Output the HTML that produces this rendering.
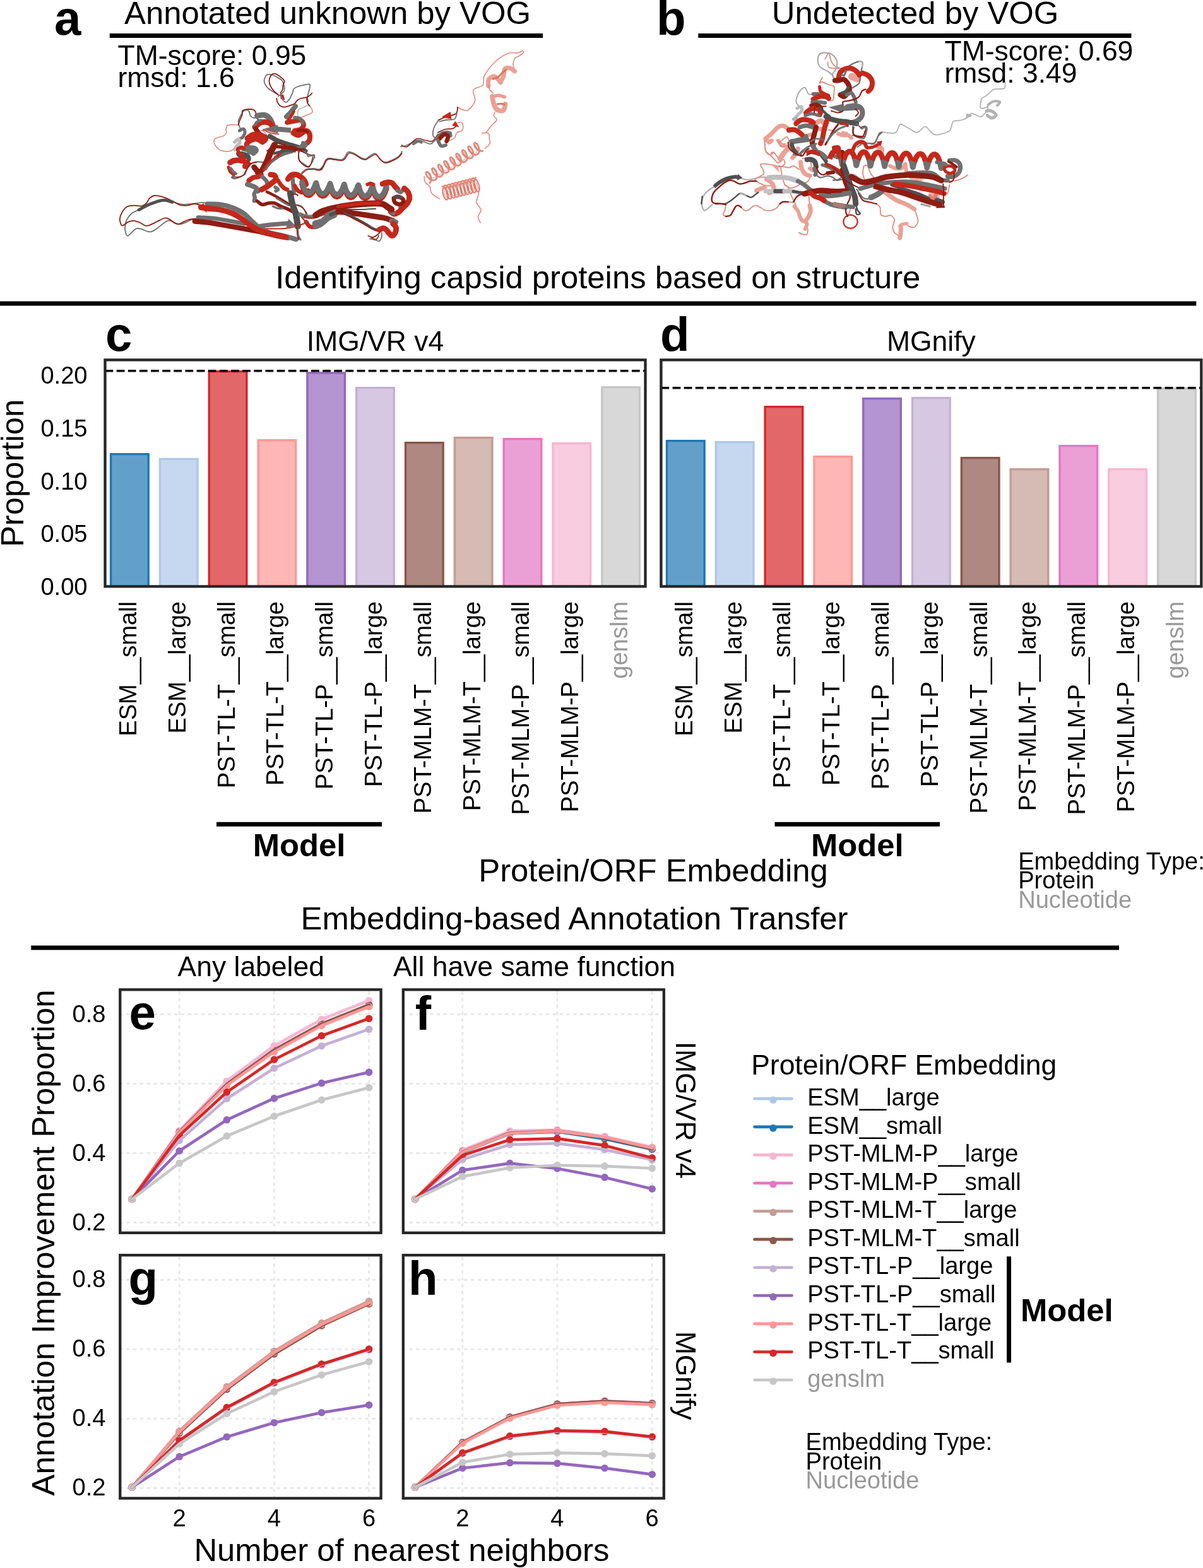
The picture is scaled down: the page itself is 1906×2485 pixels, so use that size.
<!DOCTYPE html>
<html lang="en">
<head>
<meta charset="utf-8">
<title>Figure: capsid protein identification and embedding-based annotation transfer</title>
<style>
html,body{margin:0;padding:0;background:#fff;}
body{width:1906px;height:2485px;overflow:hidden;}
svg{display:block;}
svg text{font-family:"Liberation Sans", sans-serif;white-space:pre;}
</style>
</head>
<body>
<svg width="1906" height="2485" viewBox="0 0 1906 2485">
<rect width="1906" height="2485" fill="#fff"/>
<text x="86.00" y="55.00" font-size="76.2" font-weight="bold">a</text>
<text x="1040.00" y="55.00" font-size="76.2" font-weight="bold">b</text>
<text x="519.00" y="38.00" font-size="50.8" text-anchor="middle">Annotated unknown by VOG</text>
<text x="1450.00" y="38.00" font-size="50.8" text-anchor="middle">Undetected by VOG</text>
<rect x="173.75" y="53.00" width="686.25" height="7.00" fill="#000"/>
<rect x="1106.25" y="53.00" width="686.25" height="7.00" fill="#000"/>
<text x="186.50" y="102.50" font-size="44.45">TM-score: 0.95</text>
<text x="186.50" y="138.25" font-size="44.45">rmsd: 1.6</text>
<text x="1496.50" y="95.50" font-size="44.45">TM-score: 0.69</text>
<text x="1496.50" y="130.75" font-size="44.45">rmsd: 3.49</text>
<g id="protein-a" fill="none" stroke-linejoin="round">
<path d="M725.0 170.0C727.5 170.8 735.4 176.7 740.0 175.0C744.6 173.3 750.8 165.4 752.5 160.0C754.2 154.6 747.9 146.7 750.0 142.5C752.1 138.3 762.1 138.8 765.0 135.0C767.9 131.2 764.2 126.2 767.5 120.0C770.8 113.8 778.8 103.4 785.0 97.5C791.2 91.6 799.2 86.8 805.0 84.5C810.8 82.2 816.2 84.4 820.0 83.8C823.8 83.1 826.7 81.0 828.0 80.5" stroke="#e28a7c" stroke-width="1.6" stroke-linecap="round"/>
<path d="M828.0 80.5C828.2 80.9 830.2 81.8 829.5 83.0C828.8 84.2 826.0 86.5 823.8 88.0C821.5 89.5 818.0 90.0 816.2 92.0C814.5 94.0 813.3 97.0 813.0 100.0C812.7 103.0 814.2 108.3 814.5 110.0" stroke="#e28a7c" stroke-width="1.6" stroke-linecap="round"/>
<path d="M773.8 136.2C773.9 134.5 772.8 128.0 774.5 125.5C776.2 123.0 780.7 120.4 783.8 121.2C786.8 122.1 791.5 129.0 793.0 130.5" stroke="#eaa195" stroke-width="7.15" stroke-linecap="round"/>
<path d="M793.0 130.5C793.8 128.8 796.9 123.5 798.0 120.0C799.1 116.5 797.8 111.5 799.5 109.5C801.2 107.5 805.3 107.4 808.0 108.0C810.7 108.6 814.2 112.2 815.5 113.0" stroke="#eaa195" stroke-width="7.15" stroke-linecap="round"/>
<path d="M780.0 125.5C781.5 125.0 786.2 124.0 788.8 122.5C791.2 121.0 792.7 118.3 795.0 116.2C797.3 114.2 801.2 111.0 802.5 110.0" stroke="#d97466" stroke-width="3" stroke-linecap="butt"/>
<path d="M773.8 135.0C774.2 136.2 775.0 140.4 776.2 142.5C777.5 144.6 780.4 146.7 781.2 147.5" stroke="#e28a7c" stroke-width="1.8" stroke-linecap="round"/>
<path d="M780.0 153.0C780.4 155.0 781.2 161.5 782.5 165.0C783.8 168.5 785.0 172.1 787.5 173.8C790.0 175.4 795.3 176.5 797.5 175.0C799.7 173.5 800.0 166.7 800.5 165.0" stroke="#eaa195" stroke-width="7.7" stroke-linecap="round"/>
<path d="M781.2 153.0C782.7 152.7 787.0 151.1 790.0 151.2C793.0 151.4 797.9 153.3 799.5 153.8" stroke="#eaa195" stroke-width="5.5" stroke-linecap="round"/>
<path d="M787.0 165.0C788.3 164.9 792.8 164.3 795.0 164.5C797.2 164.7 799.6 166.0 800.5 166.2" stroke="#d97466" stroke-width="3" stroke-linecap="butt"/>
<path d="M783.8 177.5C783.5 178.5 782.0 181.7 782.5 183.8C783.0 185.8 787.6 187.5 787.0 190.0C786.4 192.5 781.6 195.4 778.8 198.8C775.9 202.1 772.5 208.0 770.0 210.0C767.5 212.0 763.1 210.5 763.8 210.8C764.4 211.0 771.8 209.7 773.8 211.2C775.7 212.8 775.1 217.3 775.5 220.0C775.9 222.7 777.4 225.0 776.2 227.5C775.1 230.0 770.0 233.8 768.8 235.0" stroke="#e28a7c" stroke-width="1.6" stroke-linecap="round"/>
<path d="M765.9 239.0L763.3 239.7L760.3 239.2L757.3 237.7L754.6 235.3L752.5 232.5L751.4 229.8L751.1 227.6L751.8 226.4L753.2 226.4L755.0 227.6L756.9 229.9L758.4 233.0L759.2 236.5L759.2 239.9L758.3 242.8L756.4 244.7L753.8 245.5L750.8 245.0L747.8 243.4L745.1 241.0L743.0 238.2L741.8 235.5L741.6 233.4L742.3 232.2L743.7 232.1L745.5 233.3L747.3 235.6L748.9 238.7L749.7 242.2L749.7 245.7L748.7 248.5L746.8 250.5L744.3 251.2L741.3 250.7L738.2 249.2L735.5 246.8L733.5 244.0L732.3 241.3L732.1 239.1L732.8 237.9L734.2 237.9L736.0 239.1L737.8 241.4L739.3 244.5L740.2 248.0L740.2 251.4L739.2 254.3L737.3 256.2L734.7 257.0L731.7 256.5L728.7 254.9L726.0 252.5L724.0 249.7L722.8 247.0L722.6 244.9L723.3 243.7L724.6 243.6L726.5 244.8L728.3 247.1L729.8 250.2L730.7 253.7L730.6 257.2L729.7 260.0L727.8 262.0L725.2 262.7L722.2 262.2L719.2 260.7L716.5 258.3L714.4 255.5L713.3 252.8L713.0 250.6L713.7 249.4L715.1 249.4L716.9 250.6L718.8 252.9L720.3 256.0L721.1 259.5L721.1 262.9L720.1 265.8L718.3 267.7L715.7 268.5L712.7 268.0L709.6 266.4L706.9 264.0L704.9 261.2L703.7 258.5L703.5 256.4L704.2 255.2L705.6 255.1L707.4 256.3L709.2 258.6L710.7 261.7L711.6 265.2L711.6 268.7L710.6 271.5L708.7 273.5L706.1 274.2L703.2 273.7L700.1 272.2L697.4 269.8L695.4 267.0L694.2 264.3L694.0 262.1L694.7 260.9L696.1 260.9L697.9 262.1L699.7 264.4L701.2 267.5L702.1 271.0L702.1 274.4L701.1 277.3L699.2 279.2L696.6 280.0L693.6 279.5L690.6 277.9L687.9 275.5L685.8 272.7L684.7 270.0L684.5 267.9L685.1 266.7L686.5 266.6L688.3 267.8L690.2 270.1L691.7 273.2L692.5 276.7L692.5 280.2L691.6 283.0L689.7 285.0L687.1 285.7L684.1 285.2L681.1 283.7L678.4 281.3L676.3 278.5L675.1 275.8L674.9 273.6L675.6 272.4L677.0 272.4L678.8 273.6L680.7 275.9L682.2 279.0L683.0 282.5L683.0 285.9L682.0 288.8L680.2 290.7" stroke="#e28a7c" stroke-width="2.8" stroke-linejoin="round"/>
<path d="M762.8 237.2L761.1 237.8L759.0 237.6L757.0 236.8L755.1 235.4L753.7 233.8L752.7 232.3L752.4 231.1L752.6 230.5L753.2 230.6L754.1 231.5L755.0 233.1L755.7 235.1L756.0 237.3L755.8 239.6L755.0 241.4L753.7 242.7L751.9 243.3L749.9 243.1L747.8 242.3L746.0 240.9L744.5 239.3L743.6 237.8L743.2 236.6L743.4 236.0L744.0 236.1L744.9 237.0L745.8 238.6L746.5 240.6L746.8 242.8L746.6 245.1L745.8 246.9L744.5 248.2L742.7 248.8L740.7 248.6L738.7 247.8L736.8 246.4L735.3 244.8L734.4 243.3L734.1 242.1L734.3 241.5L734.9 241.6L735.8 242.5L736.7 244.1L737.4 246.1L737.7 248.3L737.5 250.6L736.7 252.4L735.3 253.7L733.6 254.3L731.5 254.1L729.5 253.3L727.6 251.9L726.2 250.3L725.2 248.8L724.9 247.6L725.1 247.0L725.7 247.1L726.6 248.0L727.5 249.6L728.2 251.6L728.5 253.8L728.3 256.1L727.5 257.9L726.2 259.2L724.4 259.8L722.4 259.6L720.3 258.8L718.5 257.4L717.0 255.8L716.1 254.3L715.7 253.1L715.9 252.5L716.5 252.6L717.4 253.5L718.3 255.1L719.0 257.1L719.3 259.3L719.1 261.6L718.3 263.4L717.0 264.7L715.2 265.3L713.2 265.1L711.2 264.3L709.3 262.9L707.8 261.3L706.9 259.8L706.6 258.6L706.8 258.0L707.4 258.1L708.3 259.0L709.2 260.6L709.9 262.6L710.2 264.8L710.0 267.1L709.2 268.9L707.8 270.2L706.1 270.8L704.0 270.6L702.0 269.8L700.1 268.4L698.7 266.8L697.7 265.3L697.4 264.1L697.6 263.5L698.2 263.6L699.1 264.5L700.0 266.1L700.7 268.1L701.0 270.3L700.8 272.6L700.0 274.4L698.7 275.7L696.9 276.3L694.9 276.1L692.8 275.3L691.0 273.9L689.5 272.3L688.6 270.8L688.2 269.6L688.4 269.0L689.0 269.1L689.9 270.0L690.8 271.6L691.5 273.6L691.8 275.8L691.6 278.1L690.8 279.9L689.5 281.2L687.7 281.8L685.7 281.6L683.7 280.8L681.8 279.4L680.3 277.8L679.4 276.3L679.1 275.1L679.3 274.5L679.9 274.6L680.8 275.5L681.7 277.1L682.4 279.1L682.7 281.3L682.5 283.6L681.7 285.4L680.3 286.7" stroke="#d0766a" stroke-width="1.2" stroke-linejoin="round" stroke-opacity="0.6"/>
<path d="M672.0 280.0C672.3 281.5 672.2 286.0 673.8 288.8C675.3 291.5 679.6 293.3 681.2 296.2C682.9 299.2 681.2 303.1 683.8 306.2C686.2 309.4 694.2 313.5 696.2 315.0" stroke="#e28a7c" stroke-width="1.6" stroke-linecap="round"/>
<path d="M699.6 295.1L702.0 295.4L704.6 297.3L706.9 300.6L708.7 304.6L709.8 308.9L710.0 312.7L709.4 315.4L708.1 316.7L706.4 316.2L704.6 314.1L702.9 310.7L701.8 306.4L701.4 302.0L701.9 298.0L703.1 295.1L705.1 293.7L707.5 294.0L710.1 295.9L712.4 299.1L714.2 303.2L715.3 307.5L715.5 311.3L714.9 314.0L713.6 315.2L711.9 314.8L710.1 312.7L708.4 309.3L707.3 305.0L706.9 300.6L707.4 296.6L708.6 293.7L710.6 292.3L713.0 292.5L715.6 294.5L717.9 297.7L719.7 301.8L720.8 306.1L721.0 309.9L720.4 312.6L719.1 313.8L717.4 313.4L715.6 311.3L713.9 307.8L712.8 303.6L712.4 299.1L712.9 295.2L714.1 292.3L716.1 290.8L718.5 291.1L721.1 293.0L723.4 296.3L725.2 300.4L726.3 304.6L726.5 308.4L725.9 311.2L724.6 312.4L722.9 311.9L721.1 309.8L719.4 306.4L718.3 302.2L717.9 297.7L718.4 293.7L719.6 290.8L721.6 289.4L724.0 289.7L726.6 291.6L728.9 294.9L730.7 298.9L731.8 303.2L732.0 307.0L731.4 309.7L730.1 311.0L728.4 310.5L726.6 308.4L724.9 305.0L723.8 300.7L723.4 296.3L723.9 292.3L725.1 289.4L727.1 288.0L729.5 288.3L732.1 290.2L734.4 293.4L736.2 297.5L737.3 301.8L737.5 305.6L736.9 308.3L735.6 309.5L733.9 309.1L732.1 307.0L730.4 303.6L729.3 299.3L728.9 294.9L729.4 290.9L730.6 288.0L732.6 286.6L735.0 286.8L737.6 288.8L739.9 292.0L741.7 296.1L742.8 300.4L743.0 304.2L742.4 306.9L741.1 308.1L739.4 307.7L737.6 305.6L735.9 302.1L734.8 297.9L734.4 293.4L734.9 289.5L736.1 286.6L738.1 285.1L740.5 285.4L743.1 287.3L745.4 290.6L747.2 294.7L748.3 298.9L748.5 302.7L747.9 305.5L746.6 306.7L744.9 306.2L743.1 304.1L741.4 300.7L740.3 296.5L739.9 292.0L740.4 288.0L741.6 285.1L743.6 283.7L746.0 284.0L748.6 285.9L750.9 289.2L752.7 293.2L753.8 297.5L754.0 301.3L753.4 304.0L752.1 305.3L750.4 304.8L748.6 302.7L746.9 299.3L745.8 295.0L745.4 290.6L745.9 286.6L747.1 283.7L749.1 282.3L751.5 282.6L754.1 284.5L756.4 287.7L758.2 291.8L759.3 296.1L759.5 299.9L758.9 302.6L757.6 303.8L755.9 303.4L754.1 301.3L752.4 297.9L751.3 293.6L750.9 289.2L751.4 285.2L752.6 282.3L754.6 280.9" stroke="#e28a7c" stroke-width="2.4" stroke-linejoin="round"/>
<path d="M701.7 298.5L703.5 298.7L705.4 300.0L707.1 302.2L708.4 305.0L709.3 308.0L709.5 310.6L709.2 312.5L708.4 313.3L707.3 313.0L706.1 311.5L705.0 309.1L704.3 306.1L704.1 303.0L704.5 300.2L705.5 298.2L707.0 297.1L708.8 297.3L710.6 298.6L712.3 300.8L713.7 303.6L714.5 306.6L714.8 309.2L714.5 311.1L713.7 311.9L712.5 311.6L711.3 310.1L710.3 307.7L709.6 304.7L709.4 301.6L709.8 298.8L710.8 296.8L712.2 295.8L714.0 295.9L715.9 297.2L717.6 299.5L718.9 302.3L719.8 305.2L720.0 307.8L719.7 309.7L718.9 310.6L717.8 310.2L716.6 308.7L715.5 306.3L714.8 303.4L714.6 300.2L715.0 297.5L716.0 295.4L717.5 294.4L719.3 294.5L721.1 295.9L722.8 298.1L724.2 300.9L725.0 303.8L725.3 306.5L725.0 308.3L724.2 309.2L723.0 308.8L721.8 307.4L720.8 305.0L720.1 302.0L719.9 298.9L720.3 296.1L721.3 294.0L722.7 293.0L724.5 293.2L726.4 294.5L728.1 296.7L729.4 299.5L730.3 302.5L730.5 305.1L730.2 307.0L729.4 307.8L728.3 307.5L727.1 306.0L726.0 303.6L725.3 300.6L725.1 297.5L725.5 294.7L726.5 292.7L728.0 291.6L729.8 291.8L731.6 293.1L733.3 295.3L734.7 298.1L735.5 301.1L735.8 303.7L735.5 305.6L734.7 306.4L733.5 306.1L732.3 304.6L731.3 302.2L730.6 299.2L730.4 296.1L730.8 293.3L731.8 291.3L733.2 290.3L735.0 290.4L736.9 291.7L738.6 294.0L739.9 296.8L740.8 299.7L741.0 302.3L740.7 304.2L739.9 305.1L738.8 304.7L737.6 303.2L736.5 300.8L735.8 297.9L735.6 294.7L736.0 292.0L737.0 289.9L738.5 288.9L740.3 289.0L742.1 290.4L743.8 292.6L745.2 295.4L746.0 298.3L746.3 301.0L746.0 302.8L745.2 303.7L744.0 303.3L742.8 301.9L741.8 299.5L741.1 296.5L740.9 293.4L741.3 290.6L742.3 288.5L743.7 287.5L745.5 287.7L747.4 289.0L749.1 291.2L750.4 294.0L751.3 297.0L751.5 299.6L751.2 301.5L750.4 302.3L749.3 302.0L748.1 300.5L747.0 298.1L746.3 295.1L746.1 292.0L746.5 289.2L747.5 287.2L749.0 286.1L750.8 286.3L752.6 287.6L754.3 289.8L755.7 292.6L756.5 295.6L756.8 298.2L756.5 300.1L755.7 300.9L754.5 300.6L753.3 299.1L752.3 296.7L751.6 293.7L751.4 290.6L751.8 287.8L752.8 285.8L754.2 284.8" stroke="#d0766a" stroke-width="1.3" stroke-linejoin="round" stroke-opacity="0.6"/>
<path d="M760.0 297.5C759.6 299.6 758.3 306.0 757.5 310.0C756.7 314.0 754.2 317.5 755.0 321.2C755.8 325.0 761.6 328.8 762.0 332.5C762.4 336.2 757.6 340.3 757.5 343.8C757.4 347.2 760.6 351.5 761.2 353.0" stroke="#e28a7c" stroke-width="1.6" stroke-linecap="round"/>
<path d="M720.0 196.2C721.7 195.8 727.7 193.1 730.0 193.8C732.3 194.4 733.5 197.7 733.8 200.0C734.0 202.3 732.9 205.8 731.2 207.5C729.6 209.2 725.6 208.1 723.8 210.0C721.9 211.9 722.1 216.6 720.0 218.8C717.9 220.9 712.7 222.3 711.2 223.0" stroke="#e28a7c" stroke-width="1.6" stroke-linecap="round"/>
<path d="M377.6 198.2C376.2 198.1 372.2 197.5 369.3 197.6C366.4 197.7 362.2 197.6 360.4 198.8C358.5 200.0 358.3 202.8 358.0 204.8C357.7 206.7 359.3 208.9 358.6 210.7C357.9 212.5 356.0 214.3 353.8 215.5C351.6 216.7 347.8 217.1 345.5 217.9C343.2 218.7 341.2 218.8 340.1 220.2C339.1 221.6 338.8 224.0 339.3 226.2C339.8 228.4 341.5 231.3 343.1 233.3C344.7 235.3 346.7 237.0 349.0 238.1C351.4 239.2 354.6 239.7 357.4 239.9C360.2 240.1 363.3 240.2 365.7 239.3C368.1 238.4 370.0 235.7 371.7 234.5C373.4 233.3 375.1 232.5 375.8 232.1" stroke="#e28a7c" stroke-width="1.6" stroke-linecap="round"/>
<path d="M490.7 167.9C491.3 168.8 493.9 172.0 494.5 173.8C495.1 175.6 495.5 177.4 494.3 178.8C493.1 180.2 489.9 181.0 487.1 182.1C484.4 183.3 479.2 185.3 477.6 186.0" stroke="#e28a7c" stroke-width="1.6" stroke-linecap="round"/>
<path d="M488.3 166.7C486.9 167.3 482.6 169.2 480.0 170.5C477.4 171.7 474.2 172.1 472.9 174.0C471.5 176.0 471.5 179.0 471.7 182.1C471.9 185.3 473.7 191.1 474.0 192.9" stroke="#b5b5b5" stroke-width="1.6" stroke-linecap="round"/>
<path d="M331.8 322.1C329.7 322.0 323.8 321.1 319.3 321.2C314.8 321.4 309.8 322.6 305.0 323.0C300.2 323.5 294.9 324.1 290.7 323.9C286.5 323.8 283.0 322.9 280.0 322.1C277.0 321.4 274.0 319.9 272.9 319.5" stroke="#707070" stroke-width="1.8" stroke-linecap="round"/>
<path d="M219.3 332.9C217.5 333.8 211.7 335.5 208.6 338.2C205.4 340.9 202.3 345.1 200.5 348.9C198.8 352.8 198.0 357.9 197.9 361.4C197.7 365.0 198.9 368.3 199.6 370.4C200.4 372.4 200.8 374.2 202.3 373.9C203.8 373.6 206.3 370.5 208.6 368.6C210.8 366.6 213.0 363.2 215.7 362.3C218.4 361.4 221.7 362.5 224.6 363.2C227.6 364.0 230.9 366.2 233.6 366.8C236.2 367.4 238.0 367.7 240.7 366.8C243.4 365.9 246.7 363.5 249.6 361.4C252.6 359.3 255.9 356.2 258.6 354.3C261.2 352.4 263.3 350.4 265.7 349.8C268.1 349.2 270.5 350.0 272.9 350.7C275.2 351.5 277.6 353.5 280.0 354.3C282.4 355.0 284.5 355.6 287.1 355.2C289.8 354.7 293.1 352.9 296.1 351.6C299.0 350.3 302.0 348.0 305.0 347.1C308.0 346.2 312.4 346.4 313.9 346.2" stroke="#707070" stroke-width="1.8" stroke-linecap="round"/>
<path d="M319.3 325.7C317.5 325.3 312.4 323.0 308.6 323.0C304.7 323.0 299.9 325.4 296.1 325.7C292.2 326.0 288.6 325.7 285.4 324.8C282.1 323.9 279.7 322.0 276.4 320.4C273.2 318.7 269.3 316.5 265.7 315.0C262.1 313.5 258.6 312.3 255.0 311.4C251.4 310.6 247.3 309.6 244.3 310.0C241.3 310.4 239.2 312.1 237.1 314.1C235.1 316.1 233.9 320.1 231.8 322.1C229.7 324.2 227.9 326.0 224.6 326.6C221.4 327.2 216.0 325.6 212.1 325.7C208.3 325.9 204.6 325.7 201.4 327.5C198.3 329.3 195.3 333.2 193.4 336.4C191.5 339.7 190.0 343.7 189.8 347.1C189.7 350.6 191.3 355.5 192.5 357.0C193.7 358.5 195.2 357.0 197.0 356.1C198.8 355.2 200.7 352.6 203.2 351.6C205.7 350.6 209.2 349.7 212.1 349.8C215.1 350.0 217.8 351.2 221.1 352.5C224.3 353.8 228.2 357.6 231.8 357.9C235.4 358.2 238.9 355.8 242.5 354.3C246.1 352.8 249.9 350.4 253.2 348.9C256.5 347.4 259.5 345.5 262.1 345.4C264.8 345.2 266.9 346.7 269.3 348.0C271.7 349.4 274.0 352.2 276.4 353.4C278.8 354.6 281.2 355.5 283.6 355.2C286.0 354.9 288.0 352.8 290.7 351.6C293.4 350.4 296.7 348.8 299.6 348.0C302.6 347.3 307.1 347.3 308.6 347.1" stroke="#8e1c12" stroke-width="1.8" stroke-linecap="round"/>
<path d="M220.2 332.5C222.4 331.3 229.0 327.3 233.6 325.2C238.2 323.1 243.4 321.2 247.9 319.8C252.3 318.5 256.2 317.1 260.4 317.1C264.5 317.2 270.8 319.8 272.9 320.4" stroke="#505050" stroke-width="4.95" stroke-linecap="round"/>
<path d="M313.9 344.5C318.4 344.8 331.8 345.2 340.7 346.2C349.6 347.3 359.8 349.3 367.5 350.7C375.2 352.1 383.9 354.0 387.1 354.6" stroke="#707070" stroke-width="6.6" stroke-linecap="round"/>
<path d="M308.6 350.7C312.4 351.1 323.5 351.7 331.8 352.9C340.1 354.0 349.6 355.9 358.6 357.5C367.5 359.1 376.4 360.7 385.4 362.3C394.3 363.9 403.2 365.3 412.1 367.1C421.1 369.0 431.5 372.0 438.9 373.6C446.4 375.1 453.8 376.1 456.8 376.6" stroke="#8e1c12" stroke-width="8.25" stroke-linecap="round"/>
<path d="M424.6 368.6C428.5 369.4 440.4 371.8 447.9 373.6C455.3 375.4 465.7 378.3 469.3 379.3" stroke="#707070" stroke-width="7.7" stroke-linecap="round"/>
<path d="M412.1 362.3C418.1 362.3 438.3 362.9 447.9 362.3C457.4 361.7 465.7 359.3 469.3 358.8" stroke="#c4281b" stroke-width="2" stroke-linecap="round"/>
<path d="M410.4 358.8C413.6 358.3 422.6 356.9 430.0 356.1C437.4 355.3 450.5 354.2 455.0 353.9C459.5 353.7 456.5 354.3 456.8 354.4" stroke="#707070" stroke-width="7" stroke-linecap="butt"/>
<path d="M453.3 361.2L467.9 357.5L457.3 346.8Z" fill="#707070" stroke="none"/>
<path d="M328.2 323.4C331.8 323.5 343.1 323.4 349.6 324.3C356.2 325.2 361.5 326.5 367.5 328.8C373.5 331.0 380.0 334.0 385.4 337.7C390.7 341.4 395.2 347.1 399.6 351.1C404.1 355.1 407.7 358.8 412.1 361.8C416.6 364.8 424.0 367.7 426.4 368.9" stroke="#707070" stroke-width="7.7" stroke-linecap="round"/>
<path d="M318.4 328.9C320.6 329.2 326.6 330.1 331.8 330.7C337.0 331.3 343.7 331.3 349.6 332.5C355.6 333.7 362.1 335.6 367.5 337.9C372.9 340.1 377.0 342.8 381.8 345.9C386.5 349.0 391.0 353.3 396.1 356.6C401.1 359.9 406.5 363.2 412.1 365.5C417.8 367.9 423.2 369.0 430.0 370.7C436.8 372.5 449.3 375.2 453.2 376.1" stroke="#c4281b" stroke-width="8.8" stroke-linecap="round"/>
<path d="M313.0 326.6L322.9 322.5L328.2 337.3Z" fill="#c4281b" stroke="none"/>
<path d="M440.7 150.0C439.3 149.2 435.4 147.2 432.4 145.2C429.4 143.3 425.1 140.7 422.9 138.1C420.6 135.5 419.1 132.5 418.7 129.8C418.3 127.0 419.4 123.4 420.5 121.4C421.6 119.4 423.3 118.3 425.2 117.9C427.2 117.5 430.0 118.3 432.4 119.0C434.8 119.8 437.1 121.2 439.5 122.6C441.9 124.0 444.9 125.2 446.7 127.4C448.5 129.6 449.6 132.9 450.2 135.7C450.8 138.5 451.2 141.7 450.2 144.0C449.2 146.4 445.9 148.6 444.3 150.0C442.7 151.4 441.3 152.0 440.7 152.4" stroke="#707070" stroke-width="1.8" stroke-linecap="round"/>
<path d="M440.7 150.0C439.7 149.2 436.7 147.4 434.8 145.2C432.8 143.1 430.2 139.7 428.8 136.9C427.4 134.1 426.4 131.3 426.4 128.6C426.4 125.8 427.6 122.2 428.8 120.2C430.0 118.3 431.8 117.0 433.6 116.7C435.4 116.4 437.3 117.3 439.5 118.5C441.7 119.6 444.8 122.1 446.7 123.8C448.6 125.5 450.5 126.8 450.8 128.6C451.1 130.4 448.9 132.3 448.5 134.5C448.0 136.7 448.6 139.5 447.9 141.7C447.2 143.8 444.9 146.6 444.3 147.6" stroke="#8e1c12" stroke-width="1.8" stroke-linecap="round"/>
<path d="M443.7 150.6L449.0 149.8L451.4 158.3L444.9 157.1Z" fill="#c4281b" stroke="none"/>
<path d="M444.3 151.2C445.1 152.6 447.5 157.7 449.0 159.5C450.6 161.3 452.2 162.3 453.8 161.9C455.4 161.5 457.0 159.5 458.6 157.1C460.2 154.8 462.1 150.4 463.3 147.6C464.5 144.8 464.1 142.3 465.7 140.5C467.3 138.7 470.1 137.9 472.9 136.9C475.6 135.9 479.6 135.1 482.4 134.5C485.2 133.9 488.0 133.1 489.5 133.3C491.0 133.5 491.3 133.9 491.3 135.7C491.3 137.5 490.2 141.1 489.5 144.0C488.8 147.0 487.3 150.6 487.1 153.6C486.9 156.5 488.1 160.5 488.3 161.9" stroke="#707070" stroke-width="1.8" stroke-linecap="round"/>
<path d="M438.3 156.0C438.5 156.9 438.5 159.9 439.5 161.9C440.5 163.9 442.3 166.6 444.3 167.9C446.3 169.1 448.7 169.8 451.4 169.6C454.2 169.4 458.4 167.6 461.0 166.7C463.5 165.8 465.3 165.5 466.9 164.3C468.5 163.1 468.9 160.9 470.5 159.5C472.1 158.1 473.8 156.8 476.4 156.0C479.0 155.1 483.6 155.0 486.0 154.2C488.3 153.4 489.3 152.3 490.7 151.2C492.1 150.1 493.7 148.2 494.3 147.6" stroke="#8e1c12" stroke-width="1.8" stroke-linecap="round"/>
<path d="M486.0 156.0C486.2 157.1 486.3 161.1 487.1 163.1C487.9 165.1 490.1 167.1 490.7 167.9" stroke="#8e1c12" stroke-width="1.8" stroke-linecap="round"/>
<path d="M378.8 198.8C378.6 197.6 377.2 194.2 377.6 191.7C378.0 189.1 379.8 185.9 381.2 183.3C382.6 180.8 384.4 177.7 386.0 176.2C387.5 174.7 389.3 174.4 390.7 174.4C392.1 174.4 393.3 174.7 394.3 176.2C395.3 177.7 395.5 181.5 396.7 183.3C397.9 185.1 399.6 186.5 401.4 186.9C403.2 187.3 406.4 185.9 407.4 185.7" stroke="#707070" stroke-width="1.8" stroke-linecap="round"/>
<path d="M377.6 197.6C378.0 196.4 379.0 193.1 380.0 190.5C381.0 187.9 382.9 184.6 383.6 182.1C384.3 179.7 382.8 177.1 384.2 175.6C385.6 174.1 389.0 173.5 391.9 173.2C394.8 172.9 399.2 173.1 401.4 173.8C403.6 174.5 404.2 175.4 405.0 177.4C405.8 179.4 405.6 183.7 406.2 185.7C406.8 187.7 407.4 188.5 408.6 189.3C409.8 190.1 412.5 190.3 413.3 190.5" stroke="#8e1c12" stroke-width="1.8" stroke-linecap="round"/>
<path d="M378.8 198.8L381.2 204.8" stroke="#707070" stroke-width="1.8" stroke-linecap="round"/>
<path d="M379.4 207.1C380.5 206.6 384.3 203.8 385.7 204.2C387.2 204.6 388.2 207.4 388.1 209.5C388.0 211.6 386.2 214.9 385.0 216.7C383.8 218.4 381.3 219.4 380.6 220.0" stroke="#707070" stroke-width="4.95" stroke-linecap="round"/>
<path d="M371.9 225.0C372.9 224.2 376.3 220.3 377.6 220.5C379.0 220.7 380.4 224.4 380.0 226.2C379.6 227.9 376.8 229.2 375.5 231.0C374.1 232.7 372.5 235.9 371.9 236.9" stroke="#bdbdbd" stroke-width="5.5" stroke-linecap="round"/>
<path d="M468.1 168.5C466.9 169.9 463.3 174.7 461.0 177.4C458.6 180.1 455.0 183.5 453.8 184.8" stroke="#707070" stroke-width="7.7" stroke-linecap="round"/>
<path d="M465.7 176.2C465.1 177.4 463.7 181.0 462.1 183.3C460.6 185.7 457.2 189.3 456.2 190.5" stroke="#c4281b" stroke-width="4.4" stroke-linecap="round"/>
<path d="M455.0 194.0C457.0 193.7 463.3 192.3 466.9 191.7C470.5 191.1 474.0 189.5 476.4 190.5C478.8 191.5 481.2 195.2 481.2 197.6C481.2 200.0 478.8 203.2 476.4 204.8C474.0 206.3 468.5 206.7 466.9 207.1" stroke="#c4281b" stroke-width="7.7" stroke-linecap="round"/>
<path d="M466.9 186.3C468.3 186.6 473.0 186.6 475.2 188.1C477.5 189.6 479.4 194.0 480.2 195.2" stroke="#707070" stroke-width="5.5" stroke-linecap="round"/>
<path d="M464.5 210.7C465.9 211.3 469.5 214.9 472.9 214.3C476.2 213.7 481.8 207.3 484.8 207.1C487.7 206.9 489.9 210.3 490.7 213.1C491.5 215.9 491.1 221.0 489.5 223.8C487.9 226.6 483.4 228.0 481.2 229.8C479.0 231.5 477.2 233.7 476.4 234.5" stroke="#c4281b" stroke-width="8.25" stroke-linecap="round"/>
<path d="M471.7 207.1C473.1 206.9 477.4 205.6 480.0 206.0C482.6 206.3 486.0 208.9 487.1 209.5" stroke="#8e1c12" stroke-width="4.4" stroke-linecap="round"/>
<path d="M480.0 226.2C480.8 226.8 485.0 228.2 484.8 229.8C484.6 231.3 479.8 234.7 478.8 235.7" stroke="#707070" stroke-width="5.5" stroke-linecap="round"/>
<path d="M407.4 183.6C409.4 183.4 415.9 181.6 419.3 182.4C422.7 183.2 425.4 185.6 427.6 188.3C429.8 191.1 431.8 197.3 432.6 199.0" stroke="#707070" stroke-width="8.8" stroke-linecap="round"/>
<path d="M403.8 201.2C405.4 200.0 409.8 195.4 413.3 194.3C416.9 193.1 422.1 193.3 425.2 194.3C428.4 195.3 431.2 199.2 432.4 200.2" stroke="#c4281b" stroke-width="8.8" stroke-linecap="round"/>
<path d="M403.2 202.4C403.7 201.0 404.5 196.0 406.2 194.0C407.9 192.1 412.1 191.1 413.3 190.5" stroke="#707070" stroke-width="4.4" stroke-linecap="round"/>
<path d="M405.0 203.8C406.0 205.2 408.2 209.8 411.0 212.1C413.7 214.5 419.9 217.1 421.7 218.1" stroke="#8e1c12" stroke-width="7.7" stroke-linecap="round"/>
<path d="M461.0 206.5C459.0 206.3 452.4 205.7 449.0 205.4C445.7 205.1 442.4 204.9 440.7 204.8C439.0 204.7 439.1 204.8 438.8 204.8" stroke="#707070" stroke-width="8" stroke-linecap="butt"/>
<path d="M440.3 197.8L416.3 204.8L440.3 211.8Z" fill="#707070" stroke="none"/>
<path d="M416.9 205.4C418.3 206.1 422.5 208.4 425.2 209.5C428.0 210.6 430.8 211.4 433.6 211.9C436.3 212.4 440.5 212.4 441.9 212.5" stroke="#c4281b" stroke-width="1.5" stroke-linecap="round"/>
<path d="M415.7 206.0C416.9 207.3 421.5 212.1 422.9 214.3C424.2 216.5 423.8 218.3 424.0 219.0" stroke="#d8402f" stroke-width="1.2" stroke-linecap="round" stroke-opacity="0.7"/>
<path d="M413.3 207.1C415.3 207.1 421.7 206.5 425.2 207.1C428.8 207.7 433.2 210.1 434.8 210.7" stroke="#d8402f" stroke-width="1.2" stroke-linecap="round" stroke-opacity="0.7"/>
<path d="M427.6 216.1C429.2 217.0 433.6 219.9 437.1 221.7C440.7 223.4 445.1 225.0 449.0 226.4C453.0 227.8 457.0 228.8 461.0 230.0C464.9 231.2 469.1 232.0 472.9 233.6C476.6 235.2 481.8 238.5 483.6 239.5" stroke="#505050" stroke-width="7.7" stroke-linecap="round"/>
<path d="M437.1 226.2C439.1 226.7 444.7 228.2 449.0 229.2C453.4 230.2 458.8 230.9 463.3 232.1C467.9 233.4 472.9 235.1 476.4 236.9C480.0 238.7 481.8 241.3 484.8 242.9C487.7 244.4 492.1 245.9 494.3 246.4C496.5 246.9 497.3 245.9 497.9 245.8" stroke="#8e1c12" stroke-width="2" stroke-linecap="round"/>
<path d="M483.6 239.9C484.4 240.8 486.5 244.0 488.3 245.2C490.1 246.4 492.7 247.0 494.3 247.0C495.9 247.1 497.2 245.0 497.9 245.5C498.6 246.0 498.4 249.2 498.5 250.0" stroke="#707070" stroke-width="2" stroke-linecap="round"/>
<path d="M391.9 219.3C393.5 218.3 397.9 214.1 401.4 213.3C405.0 212.5 410.2 213.3 413.3 214.5C416.5 215.7 420.1 218.7 420.5 220.5C420.9 222.2 416.5 224.2 415.7 225.0" stroke="#c4281b" stroke-width="8.8" stroke-linecap="round"/>
<path d="M415.7 225.0C414.1 224.2 409.4 220.8 406.2 220.5C403.0 220.1 399.2 221.5 396.7 222.9C394.1 224.2 391.1 226.8 390.7 228.8C390.3 230.8 392.5 233.2 394.3 234.8C396.1 236.3 400.2 237.7 401.4 238.3" stroke="#c4281b" stroke-width="8.25" stroke-linecap="round"/>
<path d="M383.6 234.8C385.0 235.2 388.9 237.1 391.9 237.1C394.9 237.1 399.0 234.6 401.4 234.8C403.8 235.0 406.2 236.9 406.2 238.3C406.2 239.7 402.2 242.3 401.4 243.1" stroke="#707070" stroke-width="7.7" stroke-linecap="round"/>
<path d="M377.0 235.7C377.9 235.3 380.7 233.4 382.4 233.3C384.1 233.2 386.3 234.8 387.1 235.1" stroke="#c4281b" stroke-width="5.5" stroke-linecap="round"/>
<path d="M377.6 242.9C378.2 243.7 379.6 246.4 381.2 247.6C382.8 248.8 386.2 249.6 387.1 250.0" stroke="#c4281b" stroke-width="6.6" stroke-linecap="round"/>
<path d="M378.8 245.8C379.8 245.5 382.6 243.9 384.8 244.0C386.9 244.1 390.3 245.4 391.9 246.4C393.5 247.4 393.9 249.4 394.3 250.0" stroke="#505050" stroke-width="6.6" stroke-linecap="round"/>
<path d="M434.8 229.8C434.2 231.0 432.4 234.5 431.2 236.9C430.0 239.3 428.6 241.9 427.6 244.0C426.6 246.2 425.6 249.0 425.2 250.0" stroke="#8e1c12" stroke-width="9.9" stroke-linecap="round"/>
<path d="M455.0 232.1C454.0 233.1 450.8 236.1 449.0 238.1C447.3 240.1 446.3 242.1 444.3 244.0C442.3 246.0 438.3 249.0 437.1 250.0" stroke="#c4281b" stroke-width="6.6" stroke-linecap="round"/>
<path d="M471.7 234.5C470.3 235.3 466.3 238.1 463.3 239.3C460.4 240.5 457.0 240.5 453.8 241.7C450.6 242.9 445.9 245.6 444.3 246.4" stroke="#707070" stroke-width="4.4" stroke-linecap="round"/>
<path d="M483.6 227.4C482.8 228.0 480.0 230.0 478.8 231.0C477.6 231.9 476.8 232.9 476.4 233.3" stroke="#707070" stroke-width="6.6" stroke-linecap="round"/>
<path d="M391.9 233.8C393.5 233.8 399.0 233.2 401.4 233.8C403.8 234.4 406.0 236.0 406.2 237.4C406.4 238.7 404.6 241.3 402.6 241.9C400.6 242.5 395.7 241.1 394.3 241.0" stroke="#707070" stroke-width="6.6" stroke-linecap="round"/>
<path d="M377.6 244.5C378.6 244.3 381.2 242.7 383.6 243.3C386.0 243.9 390.1 246.5 391.9 248.1C393.7 249.6 393.9 251.9 394.3 252.6" stroke="#505050" stroke-width="6.6" stroke-linecap="round"/>
<path d="M376.4 237.4C376.8 238.1 377.6 240.6 378.8 241.9C380.0 243.3 382.8 244.9 383.6 245.5" stroke="#c4281b" stroke-width="5.5" stroke-linecap="round"/>
<path d="M364.5 257.6C365.5 257.1 367.9 255.2 370.5 254.6C373.1 254.0 377.0 253.8 380.0 254.0C383.0 254.3 386.2 255.4 388.3 256.4C390.5 257.4 393.1 258.8 393.1 260.0C393.1 261.2 389.1 263.0 388.3 263.6" stroke="#c4281b" stroke-width="8.8" stroke-linecap="round"/>
<path d="M362.1 264.8C362.5 266.0 363.1 269.9 364.5 271.9C365.9 273.9 369.5 275.9 370.5 276.7" stroke="#c4281b" stroke-width="4.95" stroke-linecap="round"/>
<path d="M365.7 266.9C366.3 267.7 367.9 270.3 369.3 271.7C370.7 273.1 373.3 274.6 374.0 275.2" stroke="#707070" stroke-width="4.4" stroke-linecap="round"/>
<path d="M366.9 281.4C368.1 281.6 371.3 283.0 374.0 282.6C376.8 282.2 381.2 280.2 383.6 279.0C386.0 277.9 387.1 277.1 388.3 275.5C389.5 273.9 389.7 271.5 390.7 269.5C391.7 267.5 392.9 265.4 394.3 263.6C395.7 261.8 396.9 260.0 399.0 258.8C401.2 257.6 404.6 256.7 407.4 256.4C410.2 256.1 413.1 256.7 415.7 257.0C418.3 257.3 420.9 257.9 422.9 258.2C424.8 258.5 425.6 259.5 427.6 258.8C429.6 258.1 432.2 255.8 434.8 254.0C437.3 252.3 440.1 249.9 443.1 248.1C446.1 246.3 449.6 244.3 452.6 243.3C455.6 242.3 459.6 242.3 461.0 242.1" stroke="#707070" stroke-width="2.2" stroke-linecap="round"/>
<path d="M368.1 279.4C369.7 279.6 374.6 281.0 377.6 280.6C380.6 280.2 384.0 278.7 386.0 277.0C387.9 275.3 387.7 273.4 389.5 270.5C391.3 267.6 393.9 261.9 396.7 259.8C399.4 257.6 404.6 258.0 406.2 257.6" stroke="#8e1c12" stroke-width="1.6" stroke-linecap="round"/>
<path d="M366.9 280.0C367.6 279.4 370.3 279.0 371.7 279.4C373.1 279.8 375.2 281.6 375.2 282.4C375.2 283.2 373.0 284.1 371.7 284.2C370.4 284.3 368.3 283.7 367.5 283.0C366.7 282.3 366.2 280.6 366.9 280.0Z" fill="#707070" stroke="none"/>
<path d="M406.2 277.6C407.4 276.6 411.2 274.4 413.3 271.7C415.5 268.9 417.3 264.9 419.3 261.0C421.3 257.0 423.7 251.6 425.2 247.9C426.8 244.1 428.3 239.6 428.8 238.3C429.3 237.1 428.2 239.9 428.0 240.3" stroke="#8e1c12" stroke-width="8" stroke-linecap="butt"/>
<path d="M433.5 244.1L431.2 232.4L421.4 239.3Z" fill="#8e1c12" stroke="none"/>
<path d="M449.0 233.8C448.1 235.6 445.5 241.5 443.1 244.5C440.7 247.5 437.7 249.3 434.8 251.7C431.8 254.0 428.0 255.8 425.2 258.8C422.5 261.8 419.3 267.7 418.1 269.5" stroke="#c4281b" stroke-width="4.4" stroke-linecap="round"/>
<path d="M464.5 241.0C461.9 241.7 453.6 243.9 449.0 245.7C444.5 247.5 440.7 249.3 437.1 251.7C433.6 254.0 430.4 257.0 427.6 260.0C424.8 263.0 421.7 267.9 420.5 269.5" stroke="#707070" stroke-width="3" stroke-linecap="butt"/>
<path d="M434.8 243.1C436.3 242.7 440.9 241.5 444.3 240.7C447.7 239.9 451.2 238.5 455.0 238.3C458.8 238.1 464.9 239.3 466.9 239.5" stroke="#505050" stroke-width="4.4" stroke-linecap="round"/>
<path d="M437.1 232.4C439.1 232.5 445.1 232.6 449.0 233.0C453.0 233.4 457.0 234.1 461.0 234.8C464.9 235.5 469.7 236.5 472.9 237.1C476.0 237.7 478.8 238.1 480.0 238.3" stroke="#8e1c12" stroke-width="5.5" stroke-linecap="round"/>
<path d="M402.6 264.8C403.4 265.8 405.6 268.7 407.4 270.7C409.2 272.7 412.3 275.7 413.3 276.7" stroke="#8e1c12" stroke-width="8.8" stroke-linecap="round"/>
<path d="M394.3 286.2C395.5 285.4 399.0 282.4 401.4 281.4C403.8 280.4 406.6 280.8 408.6 280.2C410.6 279.6 412.5 278.3 413.3 277.9" stroke="#c4281b" stroke-width="7.7" stroke-linecap="round"/>
<path d="M391.9 292.1C393.1 292.5 396.7 293.5 399.0 294.5C401.4 295.5 404.6 296.7 406.2 298.1C407.8 299.5 408.2 302.1 408.6 302.9" stroke="#707070" stroke-width="7.7" stroke-linecap="round"/>
<path d="M406.2 301.4C405.6 302.4 403.0 305.4 402.6 307.4C402.2 309.4 403.8 311.5 403.8 313.3C403.8 315.2 403.0 317.5 402.9 318.3" stroke="#707070" stroke-width="6.6" stroke-linecap="round"/>
<path d="M415.7 280.2C416.7 281.2 420.3 284.2 421.7 286.2C423.1 288.2 423.7 291.2 424.0 292.1" stroke="#707070" stroke-width="6.6" stroke-linecap="round"/>
<path d="M414.5 300.5C415.9 299.7 420.1 297.5 422.9 295.7C425.6 293.9 428.8 291.7 431.2 289.8C433.6 287.8 436.5 285.8 437.1 283.8C437.7 281.8 436.2 279.0 434.8 277.9C433.4 276.7 429.8 276.9 428.8 276.7" stroke="#c4281b" stroke-width="8.8" stroke-linecap="round"/>
<path d="M440.7 286.2C441.3 287.2 442.7 290.2 444.3 292.1C445.9 294.1 448.5 296.7 450.2 298.1C452.0 299.5 454.2 300.1 455.0 300.5" stroke="#c4281b" stroke-width="6.6" stroke-linecap="round"/>
<path d="M436.0 296.7C436.7 297.3 440.5 299.2 440.7 300.2C440.9 301.2 437.7 302.2 437.1 302.6" stroke="#707070" stroke-width="5.5" stroke-linecap="round"/>
<path d="M463.3 281.4C463.5 283.2 464.1 288.4 464.5 292.1C464.9 295.9 465.5 302.1 465.7 304.0" stroke="#707070" stroke-width="6.6" stroke-linecap="round"/>
<path d="M456.2 283.8C457.0 282.8 458.8 279.0 461.0 277.9C463.1 276.7 466.7 276.3 469.3 276.7C471.9 277.1 474.2 278.7 476.4 280.2C478.6 281.8 481.0 284.2 482.4 286.2C483.8 288.2 484.4 291.2 484.8 292.1" stroke="#c4281b" stroke-width="8.8" stroke-linecap="round"/>
<path d="M466.9 294.5C467.9 295.9 470.3 301.1 472.9 302.9C475.4 304.6 479.8 305.4 482.4 305.2C485.0 305.0 487.3 302.3 488.3 301.7" stroke="#c4281b" stroke-width="6.6" stroke-linecap="round"/>
<path d="M472.9 238.6C473.1 241.0 472.9 249.5 474.0 252.9C475.2 256.2 477.6 257.0 480.0 258.8C482.4 260.6 486.0 263.8 488.3 263.6C490.7 263.4 492.7 260.4 494.3 257.6C495.9 254.8 497.9 248.9 497.9 246.9C497.9 244.9 495.9 245.5 494.3 245.7C492.7 245.9 489.9 248.7 488.3 248.1C486.7 247.5 486.2 243.7 484.8 242.1C483.4 240.6 480.8 239.2 480.0 238.6" stroke="#707070" stroke-width="1.8" stroke-linecap="round"/>
<path d="M474.0 239.5C473.8 241.5 472.1 248.1 472.9 251.4C473.7 254.8 476.1 257.5 478.8 259.8C481.5 262.0 486.5 265.0 488.9 264.8C491.3 264.6 492.0 261.2 493.1 258.6C494.2 256.0 495.1 250.6 495.5 249.0" stroke="#8e1c12" stroke-width="1.6" stroke-linecap="round"/>
<path d="M477.6 274.3C478.8 273.3 481.6 269.5 484.8 268.3C487.9 267.1 492.9 267.1 496.7 267.1C500.4 267.1 504.8 269.1 507.4 268.3C510.0 267.5 510.8 264.8 512.1 262.4C513.5 260.0 514.3 255.8 515.7 254.0C517.1 252.3 518.1 251.9 520.5 251.7C522.9 251.5 528.4 252.7 530.0 252.9" stroke="#707070" stroke-width="1.8" stroke-linecap="round"/>
<path d="M478.8 275.2C480.0 274.2 483.0 270.4 486.0 269.3C488.9 268.1 492.9 268.3 496.7 268.3C500.4 268.3 505.8 270.3 508.6 269.3C511.3 268.3 512.5 263.3 513.3 262.1" stroke="#8e1c12" stroke-width="1.4" stroke-linecap="round"/>
<path d="M422.9 304.0C425.2 305.2 432.8 308.8 437.1 311.2C441.5 313.6 445.5 316.2 449.0 318.3C452.6 320.5 457.0 323.3 458.6 324.3" stroke="#8e1c12" stroke-width="4.4" stroke-linecap="round"/>
<path d="M437.1 313.6C439.1 314.8 445.7 318.7 449.0 320.7C452.4 322.7 456.0 324.7 457.4 325.5" stroke="#707070" stroke-width="3" stroke-linecap="butt"/>
<path d="M407.4 318.3C408.4 319.3 411.2 323.1 413.3 324.0C415.5 325.0 419.3 324.0 420.5 324.0" stroke="#707070" stroke-width="2" stroke-linecap="round"/>
<path d="M407.4 318.7C408.8 319.6 412.7 323.8 415.7 324.3C418.7 324.8 422.1 322.3 425.2 321.9C428.4 321.5 431.6 321.1 434.8 321.9C437.9 322.7 440.7 325.1 444.3 326.7C447.9 328.3 453.0 330.0 456.2 331.4C459.4 332.8 462.1 334.4 463.3 335.0" stroke="#8e1c12" stroke-width="5.5" stroke-linecap="round"/>
<path d="M431.2 326.4C432.6 327.0 436.5 329.3 439.5 330.0C442.5 330.7 447.5 330.5 449.0 330.6" stroke="#707070" stroke-width="3" stroke-linecap="butt"/>
<path d="M469.3 324.3C470.7 324.7 475.4 325.3 477.6 326.7C479.8 328.1 481.2 330.4 482.4 332.6C483.6 334.8 484.4 338.6 484.8 339.8" stroke="#707070" stroke-width="1.8" stroke-linecap="round"/>
<path d="M470.5 325.2C471.9 325.8 476.4 327.0 478.8 328.8C481.2 330.6 483.5 334.2 484.8 336.0C486.1 337.7 486.2 338.9 486.5 339.5" stroke="#8e1c12" stroke-width="1.6" stroke-linecap="round"/>
<path d="M458.6 306.4C460.0 309.6 464.5 320.3 466.9 325.5C469.3 330.6 470.3 333.4 472.9 337.4C475.4 341.3 479.8 346.1 482.4 349.3C485.0 352.5 487.3 355.2 488.3 356.4" stroke="#8e1c12" stroke-width="2" stroke-linecap="round"/>
<path d="M459.8 306.4C460.4 309.2 461.9 317.9 463.3 323.1C464.7 328.3 466.9 333.0 468.1 337.4C469.3 341.7 469.9 345.7 470.5 349.3C471.1 352.9 471.5 357.2 471.7 358.8" stroke="#505050" stroke-width="9.9" stroke-linecap="round"/>
<path d="M471.7 358.6C471.9 361.0 472.1 369.3 472.9 372.9C473.7 376.4 475.8 378.8 476.4 380.0" stroke="#707070" stroke-width="2.5" stroke-linecap="round"/>
<path d="M470.5 359.8C470.6 361.9 470.5 369.5 471.1 372.9C471.7 376.2 473.6 378.8 474.0 380.0" stroke="#8e1c12" stroke-width="1.6" stroke-linecap="round"/>
<path d="M461.0 308.6C462.1 308.4 466.3 307.2 468.1 307.4C469.9 307.6 471.1 309.4 471.7 309.8" stroke="#8e1c12" stroke-width="2" stroke-linecap="round"/>
<path d="M475.2 339.8C476.8 340.4 481.2 342.7 484.8 343.3C488.3 343.9 492.7 344.3 496.7 343.3C500.6 342.3 504.6 339.2 508.6 337.4C512.5 335.6 516.9 333.8 520.5 332.6C524.0 331.4 528.4 330.6 530.0 330.2" stroke="#707070" stroke-width="6.6" stroke-linecap="round"/>
<path d="M482.4 343.3C484.8 343.7 491.3 346.3 496.7 345.7C502.0 345.1 509.0 341.5 514.5 339.8C520.1 338.0 527.4 335.8 530.0 335.0" stroke="#c4281b" stroke-width="2" stroke-linecap="round"/>
<path d="M484.8 351.7C485.8 352.9 488.3 357.4 490.7 358.8C493.1 360.2 497.7 359.8 499.0 360.0" stroke="#c4281b" stroke-width="6.6" stroke-linecap="round"/>
<path d="M500.2 358.8C501.6 358.2 505.6 357.2 508.6 355.2C511.5 353.3 514.5 349.3 518.1 346.9C521.7 344.5 528.0 341.9 530.0 341.0" stroke="#707070" stroke-width="8.8" stroke-linecap="round"/>
<path d="M470.5 358.6C472.1 358.0 477.0 356.2 480.0 355.0C483.0 353.8 486.9 352.0 488.3 351.4" stroke="#c4281b" stroke-width="2" stroke-linecap="round"/>
<path d="M500.0 268.0C501.0 268.1 504.0 269.5 506.0 268.6C507.9 267.7 510.1 265.2 511.9 262.6C513.7 260.0 515.1 255.1 516.7 253.1C518.3 251.1 519.0 250.9 521.4 250.7C523.8 250.5 527.8 251.5 531.0 251.9C534.1 252.3 538.1 253.3 540.5 253.1C542.9 252.9 543.7 252.5 545.2 250.7C546.8 248.9 548.6 244.1 550.0 242.4C551.4 240.7 551.6 240.4 553.6 240.6C555.6 240.8 558.9 242.1 561.9 243.6C564.9 245.1 568.7 248.1 571.4 249.5C574.2 250.9 576.4 252.1 578.6 251.9C580.8 251.7 582.5 249.6 584.5 248.3C586.5 247.0 588.7 245.0 590.5 244.2C592.3 243.4 593.5 242.5 595.2 243.6C597.0 244.7 599.2 248.6 601.2 250.7C603.2 252.8 605.2 255.1 607.1 256.1C609.1 257.1 610.5 257.2 613.1 256.7C615.7 256.2 619.6 254.5 622.6 253.1C625.6 251.7 628.8 250.1 631.0 248.3C633.1 246.5 634.7 243.8 635.7 242.4C636.7 241.0 636.7 240.4 636.9 240.0" stroke="#707070" stroke-width="1.8" stroke-linecap="round"/>
<path d="M500.0 268.9C501.1 269.0 504.5 270.4 506.5 269.5C508.6 268.6 510.7 266.1 512.5 263.6C514.3 261.0 515.7 256.2 517.3 254.3C518.8 252.3 519.6 252.1 522.0 251.9C524.4 251.7 528.4 252.9 531.5 253.3C534.7 253.8 538.6 254.8 541.1 254.5C543.6 254.3 544.7 253.6 546.4 251.9C548.1 250.2 549.8 245.7 551.2 244.2C552.6 242.6 552.9 242.4 554.8 242.6C556.6 242.8 559.7 244.0 562.5 245.4C565.3 246.7 568.7 249.6 571.4 251.0C574.2 252.3 576.9 253.5 579.2 253.3C581.4 253.1 583.0 251.0 585.1 249.8C587.2 248.5 589.8 246.4 591.7 245.7C593.6 245.0 594.7 244.3 596.4 245.4C598.1 246.4 599.9 249.9 601.8 251.9C603.7 253.9 605.8 256.3 607.7 257.3C609.7 258.3 611.1 258.4 613.7 257.9C616.3 257.4 620.2 255.7 623.2 254.3C626.2 252.9 629.3 251.4 631.5 249.5C633.8 247.6 636.0 244.1 636.9 243.0" stroke="#8e1c12" stroke-width="1.5" stroke-linecap="round"/>
<path d="M478.4 292.0L479.0 293.2L479.7 296.3L481.0 300.7L483.0 305.0L485.6 308.3L488.7 309.6L491.9 308.6L494.9 305.6L497.3 301.5L499.0 297.3L500.1 294.3L500.8 293.2L501.3 294.3L502.1 297.5L503.4 301.8L505.4 306.2L508.0 309.4L511.1 310.7L514.3 309.8L517.2 306.8L519.6 302.7L521.4 298.5L522.5 295.5L523.1 294.3L523.6 295.5L524.4 298.7L525.7 303.0L527.7 307.4L530.3 310.6L533.4 311.9L536.6 310.9L539.5 308.0L542.0 303.8L543.7 299.7L544.8 296.6L545.4 295.5L546.0 296.7L546.7 299.8L548.0 304.2L550.0 308.5L552.6 311.8L555.7 313.1L558.9 312.1L561.9 309.1L564.3 305.0L566.0 300.8L567.1 297.8L567.8 296.7L568.3 297.8L569.1 301.0L570.4 305.3L572.4 309.7L575.0 312.9L578.1 314.2L581.3 313.3L584.2 310.3L586.6 306.2L588.4 302.0L589.5 299.0L590.1 297.8L590.6 299.0L591.4 302.2L592.7 306.5L594.7 310.9L597.3 314.1L600.4 315.4L603.6 314.4L606.5 311.5L609.0 307.3L610.7 303.2L611.8 300.1L612.4 299.0" stroke="#c4281b" stroke-width="8.5" stroke-linecap="round"/>
<path d="M478.4 288.5L479.0 289.7L479.7 292.8L481.0 297.2L483.0 301.5L485.6 304.8L488.7 306.1L491.9 305.1L494.9 302.1L497.3 298.0L499.0 293.8L500.1 290.8L500.8 289.7L501.3 290.8L502.1 294.0L503.4 298.3L505.4 302.7L508.0 305.9L511.1 307.2L514.3 306.3L517.2 303.3L519.6 299.2L521.4 295.0L522.5 292.0L523.1 290.8L523.6 292.0L524.4 295.2L525.7 299.5L527.7 303.9L530.3 307.1L533.4 308.4L536.6 307.4L539.5 304.5L542.0 300.3L543.7 296.2L544.8 293.1L545.4 292.0L546.0 293.2L546.7 296.3L548.0 300.7L550.0 305.0L552.6 308.3L555.7 309.6L558.9 308.6L561.9 305.6L564.3 301.5L566.0 297.3L567.1 294.3L567.8 293.2L568.3 294.3L569.1 297.5L570.4 301.8L572.4 306.2L575.0 309.4L578.1 310.7L581.3 309.8L584.2 306.8L586.6 302.7L588.4 298.5L589.5 295.5L590.1 294.3L590.6 295.5L591.4 298.7L592.7 303.0L594.7 307.4L597.3 310.6L600.4 311.9L603.6 310.9L606.5 308.0L609.0 303.8L610.7 299.7L611.8 296.6L612.4 295.5" stroke="#707070" stroke-width="8.5" stroke-linecap="round"/>
<path d="M582.1 292.4C582.9 292.1 585.3 290.6 586.9 290.6C588.5 290.6 590.9 292.1 591.7 292.4" stroke="#c4281b" stroke-width="5.5" stroke-linecap="round"/>
<path d="M606.0 291.4C607.3 291.0 611.7 289.2 614.3 289.0C616.9 288.8 619.4 289.0 621.4 290.2C623.4 291.4 624.8 294.6 626.2 296.2C627.6 297.8 629.2 299.2 629.8 299.8" stroke="#c4281b" stroke-width="8.8" stroke-linecap="round"/>
<path d="M629.8 302.1C630.6 302.5 632.9 304.9 634.5 304.5C636.1 304.1 638.5 300.6 639.3 299.8" stroke="#707070" stroke-width="6.6" stroke-linecap="round"/>
<path d="M648.8 311.7C648.4 313.3 647.8 318.6 646.4 321.2C645.0 323.8 642.5 326.0 640.5 327.1C638.5 328.3 635.5 328.1 634.5 328.3" stroke="#707070" stroke-width="6.6" stroke-linecap="round"/>
<path d="M640.5 298.6C641.5 299.6 645.0 301.9 646.4 304.5C647.8 307.1 649.0 311.1 648.8 314.0C648.6 317.0 647.0 319.8 645.2 322.4C643.5 325.0 640.5 327.1 638.1 329.5C635.7 331.9 633.3 335.1 631.0 336.7C628.6 338.3 625.8 339.2 623.8 339.0C621.8 338.8 619.8 336.1 619.0 335.5" stroke="#c4281b" stroke-width="8.8" stroke-linecap="round"/>
<path d="M623.8 314.0C624.6 313.7 626.8 311.9 628.6 311.7C630.4 311.5 632.7 311.9 634.5 312.9C636.3 313.8 638.9 316.0 639.3 317.6C639.7 319.2 638.3 321.4 636.9 322.4C635.5 323.4 632.9 324.0 631.0 323.6C629.0 323.2 626.2 321.6 625.0 320.0C623.8 318.4 624.0 315.0 623.8 314.0" stroke="#8e1c12" stroke-width="6.6" stroke-linecap="round"/>
<path d="M625.0 312.9C626.0 312.6 629.2 311.1 631.0 311.1C632.7 311.0 634.9 312.4 635.7 312.6" stroke="#505050" stroke-width="4.4" stroke-linecap="round"/>
<path d="M619.0 332.9C619.2 333.5 619.4 335.5 620.2 336.4C621.0 337.3 623.2 337.9 623.8 338.2" stroke="#707070" stroke-width="5.5" stroke-linecap="round"/>
<path d="M500.0 342.6C503.0 341.0 511.9 335.2 517.9 333.1C523.8 331.0 532.7 330.6 535.7 330.1" stroke="#707070" stroke-width="5.5" stroke-linecap="round"/>
<path d="M535.7 331.9C541.7 331.9 561.5 332.1 571.4 331.9C581.3 331.7 591.3 330.9 595.2 330.7" stroke="#505050" stroke-width="2" stroke-linecap="round"/>
<path d="M500.0 341.2C502.0 340.0 506.9 336.2 511.9 334.3C516.9 332.3 522.8 331.0 529.8 329.5C536.7 328.0 545.6 326.4 553.6 325.4C561.5 324.3 570.4 323.5 577.4 323.0C584.3 322.5 590.3 322.3 595.2 322.4C600.2 322.5 604.0 322.6 607.1 323.6C610.3 324.6 612.1 326.9 614.3 328.3C616.5 329.7 619.2 331.3 620.2 331.9" stroke="#8e1c12" stroke-width="9.9" stroke-linecap="round"/>
<path d="M535.7 327.5C539.7 326.9 551.6 324.8 559.5 323.9C567.5 323.0 576.4 322.4 583.3 322.1C590.3 321.8 598.2 322.1 601.2 322.1" stroke="#c4281b" stroke-width="5.5" stroke-linecap="round"/>
<path d="M500.0 354.5C502.0 353.9 508.3 353.1 511.9 351.0C515.5 348.8 518.3 343.8 521.4 341.4C524.6 339.1 529.4 337.8 531.0 337.0" stroke="#707070" stroke-width="11.0" stroke-linecap="round"/>
<path d="M523.8 340.2C525.8 339.6 530.8 337.3 535.7 336.7C540.7 336.1 547.6 336.3 553.6 336.7C559.5 337.1 568.5 338.7 571.4 339.0" stroke="#505050" stroke-width="5.5" stroke-linecap="round"/>
<path d="M535.7 335.5C539.7 335.9 551.6 336.9 559.5 337.9C567.5 338.8 575.4 340.2 583.3 341.4C591.3 342.6 601.2 343.8 607.1 345.0C613.1 346.2 615.9 347.4 619.0 348.6C622.2 349.8 625.0 351.5 626.2 352.1" stroke="#8e1c12" stroke-width="8.8" stroke-linecap="round"/>
<path d="M620.2 349.8L627.4 352.1" stroke="#707070" stroke-width="7.7" stroke-linecap="round"/>
<path d="M541.7 336.7C544.6 338.1 553.6 342.0 559.5 345.0C565.5 348.0 572.4 351.7 577.4 354.5C582.3 357.3 585.3 359.7 589.3 361.7C593.3 363.7 599.2 365.6 601.2 366.4" stroke="#8e1c12" stroke-width="3.85" stroke-linecap="round"/>
<path d="M545.2 337.0C548.0 338.3 556.2 341.6 561.9 344.5C567.7 347.4 574.8 351.4 579.8 354.3C584.7 357.1 587.9 359.9 591.7 361.7C595.4 363.5 600.6 364.4 602.4 365.0" stroke="#505050" stroke-width="2.5" stroke-linecap="butt"/>
<path d="M601.2 364.0C602.2 363.7 605.4 361.7 607.1 361.7C608.9 361.7 610.3 362.7 611.9 364.0C613.5 365.4 615.1 368.4 616.7 370.0C618.3 371.6 619.8 373.8 621.4 373.6C623.0 373.4 625.2 371.0 626.2 368.8C627.2 366.6 628.0 362.9 627.4 360.5C626.8 358.1 623.4 355.5 622.6 354.5" stroke="#c4281b" stroke-width="8.8" stroke-linecap="round"/>
<path d="M583.3 373.6C584.5 374.0 588.1 376.2 590.5 376.0C592.9 375.8 595.6 373.8 597.6 372.4C599.6 371.0 601.6 368.4 602.4 367.6" stroke="#8e1c12" stroke-width="1.8" stroke-linecap="round"/>
<path d="M585.7 378.3C587.3 378.7 592.7 380.1 595.2 380.7C597.8 381.3 599.6 382.9 601.2 381.9C602.8 380.9 604.2 376.9 604.8 374.8C605.4 372.6 604.8 369.8 604.8 368.8" stroke="#707070" stroke-width="1.8" stroke-linecap="round"/>
<path d="M588.1 376.9C589.5 377.3 594.4 379.9 596.4 379.3C598.4 378.7 599.4 374.3 600.0 373.3" stroke="#8e1c12" stroke-width="1.5" stroke-linecap="round"/>
<path d="M635.0 232.5C636.7 232.1 640.8 231.7 645.0 230.0C649.2 228.3 655.8 223.5 660.0 222.5C664.2 221.5 666.2 222.8 670.0 223.8C673.8 224.7 678.3 229.4 682.5 228.0C686.7 226.6 692.9 217.6 695.0 215.5" stroke="#707070" stroke-width="1.8" stroke-linecap="round"/>
<path d="M636.2 230.0C637.7 230.4 641.0 234.2 645.0 232.5C649.0 230.8 655.4 221.8 660.0 220.0C664.6 218.2 668.3 221.4 672.5 222.0C676.7 222.6 681.5 225.3 685.0 223.8C688.5 222.2 692.3 214.4 693.8 212.5" stroke="#8e1c12" stroke-width="1.6" stroke-linecap="round"/>
<path d="M655.0 228.0C656.2 227.3 660.4 224.2 662.5 223.8C664.6 223.3 666.7 225.2 667.5 225.5" stroke="#707070" stroke-width="4.4" stroke-linecap="round"/>
<path d="M695.0 190.0C693.8 192.1 689.0 198.3 687.5 202.5C686.0 206.7 685.4 212.1 686.2 215.0C687.1 217.9 691.5 219.2 692.5 220.0" stroke="#707070" stroke-width="1.8" stroke-linecap="round"/>
<path d="M695.0 190.0C697.1 189.2 702.9 186.7 707.5 185.0C712.1 183.3 719.6 182.5 722.5 180.0C725.4 177.5 724.6 171.7 725.0 170.0" stroke="#8e1c12" stroke-width="1.8" stroke-linecap="round"/>
<path d="M693.8 210.0C695.6 209.2 701.0 206.0 705.0 205.0C709.0 204.0 714.6 204.6 717.5 203.8C720.4 202.9 721.7 200.6 722.5 200.0" stroke="#8e1c12" stroke-width="1.8" stroke-linecap="round"/>
<path d="M696.2 192.5C698.1 192.1 703.5 190.6 707.5 190.0C711.5 189.4 717.3 190.4 720.0 188.8C722.7 187.1 723.1 181.5 723.8 180.0" stroke="#707070" stroke-width="1.8" stroke-linecap="round"/>
<path d="M699.5 185.5L713.8 177.0L715.5 189.0Z" fill="#c4281b" stroke="none"/>
<path d="M716.2 199.0L721.2 192.0L727.5 201.5Z" fill="#c4281b" stroke="none"/>
<path d="M695.0 215.5C696.2 214.7 699.6 211.3 702.5 210.5C705.4 209.7 710.6 209.8 712.5 210.5C714.4 211.2 713.5 214.2 713.8 215.0" stroke="#707070" stroke-width="5.5" stroke-linecap="round"/>
<path d="M696.2 220.0C697.5 218.8 701.5 213.6 703.8 213.0C706.0 212.4 709.4 214.5 710.0 216.2C710.6 218.0 707.9 222.5 707.5 223.8" stroke="#8e1c12" stroke-width="6.6" stroke-linecap="round"/>
<path d="M693.8 222.5C694.6 224.0 696.7 230.0 698.8 231.2C700.8 232.5 705.0 230.2 706.2 230.0" stroke="#707070" stroke-width="5.5" stroke-linecap="round"/>
</g>

<g id="protein-b" fill="none" stroke-linejoin="round">
<path d="M1211.4 222.9C1211.7 225.5 1211.4 234.8 1212.9 238.6C1214.3 242.4 1217.4 243.1 1220.0 245.7C1222.6 248.3 1226.4 252.1 1228.6 254.3C1230.7 256.4 1230.7 258.8 1232.9 258.6C1235.0 258.3 1239.8 252.6 1241.4 252.9C1243.1 253.1 1243.8 258.1 1242.9 260.0C1241.9 261.9 1238.8 264.0 1235.7 264.3C1232.6 264.5 1229.3 262.1 1224.3 261.4C1219.3 260.7 1208.3 258.8 1205.7 260.0C1203.1 261.2 1207.9 266.0 1208.6 268.6C1209.3 271.2 1211.4 273.6 1210.0 275.7C1208.6 277.9 1202.4 279.8 1200.0 281.4C1197.6 283.1 1196.4 285.0 1195.7 285.7" stroke="#e28a7c" stroke-width="1.8" stroke-linecap="round"/>
<path d="M1221.4 242.9C1222.1 242.6 1224.0 240.5 1225.7 241.4C1227.4 242.4 1229.8 246.2 1231.4 248.6C1233.1 251.0 1235.0 254.5 1235.7 255.7" stroke="#e28a7c" stroke-width="1.8" stroke-linecap="round"/>
<path d="M1237.1 264.3C1237.4 266.4 1237.6 272.6 1238.6 277.1C1239.5 281.7 1241.2 288.1 1242.9 291.4C1244.5 294.8 1246.7 293.8 1248.6 297.1C1250.5 300.5 1252.6 307.6 1254.3 311.4C1256.0 315.2 1257.4 317.4 1258.6 320.0C1259.8 322.6 1261.0 326.0 1261.4 327.1" stroke="#e28a7c" stroke-width="1.8" stroke-linecap="round"/>
<path d="M1242.9 292.9C1244.3 293.7 1248.3 297.4 1251.4 297.9C1254.5 298.3 1258.6 296.8 1261.4 295.7C1264.3 294.6 1265.7 292.6 1268.6 291.4C1271.4 290.2 1276.2 290.0 1278.6 288.6C1281.0 287.1 1281.7 284.8 1282.9 282.9C1284.0 281.0 1285.2 278.1 1285.7 277.1" stroke="#e28a7c" stroke-width="1.8" stroke-linecap="round"/>
<path d="M1234.3 262.9C1236.9 263.3 1246.2 265.7 1250.0 265.7C1253.8 265.7 1254.5 262.4 1257.1 262.9C1259.8 263.3 1264.3 267.6 1265.7 268.6" stroke="#e28a7c" stroke-width="1.8" stroke-linecap="round"/>
<path d="M1198.6 287.1C1199.8 287.9 1203.1 290.2 1205.7 291.4C1208.3 292.6 1211.4 293.8 1214.3 294.3C1217.1 294.8 1221.4 294.3 1222.9 294.3" stroke="#e28a7c" stroke-width="1.8" stroke-linecap="round"/>
<path d="M1265.7 368.6C1266.7 369.0 1269.3 371.0 1271.4 371.4C1273.6 371.9 1277.1 372.9 1278.6 371.4C1280.0 370.0 1279.8 364.3 1280.0 362.9" stroke="#e28a7c" stroke-width="1.8" stroke-linecap="round"/>
<path d="M1281.4 311.4L1282.9 325.7" stroke="#e28a7c" stroke-width="1.8" stroke-linecap="round"/>
<path d="M1271.4 251.4C1272.6 251.3 1276.4 249.8 1278.6 250.7C1280.7 251.7 1283.1 254.6 1284.3 257.1C1285.5 259.6 1285.5 264.3 1285.7 265.7" stroke="#e28a7c" stroke-width="1.8" stroke-linecap="round"/>
<path d="M1150.0 325.0C1149.8 326.3 1149.3 330.4 1148.6 332.9C1147.9 335.4 1145.5 338.3 1145.7 340.0C1146.0 341.7 1149.3 342.4 1150.0 342.9" stroke="#e28a7c" stroke-width="1.8" stroke-linecap="round"/>
<path d="M1174.3 328.6C1175.2 329.4 1178.1 332.9 1180.0 333.6C1181.9 334.3 1183.6 333.9 1185.7 332.9C1187.9 331.8 1190.7 328.3 1192.9 327.1C1195.0 326.0 1196.7 325.5 1198.6 325.7C1200.5 326.0 1202.1 327.4 1204.3 328.6C1206.4 329.8 1208.6 332.0 1211.4 332.9C1214.3 333.7 1218.3 334.0 1221.4 333.6C1224.5 333.1 1227.6 331.8 1230.0 330.0C1232.4 328.2 1234.8 324.0 1235.7 322.9" stroke="#e28a7c" stroke-width="1.8" stroke-linecap="round"/>
<path d="M1248.6 320.0L1255.7 320.7" stroke="#e28a7c" stroke-width="1.8" stroke-linecap="round"/>
<path d="M1235.7 251.4C1236.9 249.8 1240.5 244.3 1242.9 241.4C1245.2 238.6 1248.8 235.5 1250.0 234.3" stroke="#eaa195" stroke-width="8.0" stroke-linecap="round"/>
<path d="M1255.7 250.0C1256.7 248.8 1260.0 245.2 1261.4 242.9C1262.9 240.5 1263.8 236.9 1264.3 235.7" stroke="#eaa195" stroke-width="7.0" stroke-linecap="round"/>
<path d="M1268.6 257.1C1268.8 258.8 1268.8 264.0 1270.0 267.1C1271.2 270.2 1273.6 273.8 1275.7 275.7C1277.9 277.6 1281.7 278.1 1282.9 278.6" stroke="#eaa195" stroke-width="7.0" stroke-linecap="round"/>
<path d="M1282.9 267.1C1283.6 267.6 1286.0 269.6 1287.1 270.0C1288.3 270.4 1289.5 269.4 1290.0 269.3" stroke="#eaa195" stroke-width="6.0" stroke-linecap="round"/>
<path d="M1214.3 284.3C1215.5 285.0 1219.5 286.7 1221.4 288.6C1223.3 290.5 1225.2 293.3 1225.7 295.7C1226.2 298.1 1225.5 301.2 1224.3 302.9C1223.1 304.5 1219.5 305.2 1218.6 305.7" stroke="#eaa195" stroke-width="7.0" stroke-linecap="round"/>
<path d="M1198.6 302.1C1199.8 301.6 1203.6 299.6 1205.7 298.9C1207.9 298.1 1210.5 297.7 1211.4 297.4" stroke="#eaa195" stroke-width="7.0" stroke-linecap="round"/>
<path d="M1258.6 327.1C1259.5 328.3 1262.9 331.7 1264.3 334.3C1265.7 336.9 1266.2 340.5 1267.1 342.9C1268.1 345.2 1269.5 347.6 1270.0 348.6" stroke="#eaa195" stroke-width="6.0" stroke-linecap="round"/>
<path d="M1282.9 325.7C1283.1 327.1 1284.5 331.4 1284.3 334.3C1284.0 337.1 1282.6 340.5 1281.4 342.9C1280.2 345.2 1277.9 347.6 1277.1 348.6" stroke="#eaa195" stroke-width="7.0" stroke-linecap="round"/>
<path d="M1271.4 350.0C1272.1 350.2 1274.5 350.5 1275.7 351.4C1276.9 352.4 1278.6 353.8 1278.6 355.7C1278.6 357.6 1276.2 361.7 1275.7 362.9" stroke="#eaa195" stroke-width="6.0" stroke-linecap="round"/>
<path d="M1232.9 222.9C1233.6 223.8 1235.5 227.4 1237.1 228.6C1238.8 229.8 1241.9 229.8 1242.9 230.0" stroke="#eaa195" stroke-width="6.0" stroke-linecap="round"/>
<path d="M1214.3 221.4C1215.0 222.1 1217.4 225.5 1218.6 225.7C1219.8 226.0 1221.0 223.3 1221.4 222.9" stroke="#eaa195" stroke-width="6.0" stroke-linecap="round"/>
<path d="M1222.9 261.4L1232.1 262.9L1235.0 273.6Z" fill="#eaa195" stroke="none"/>
<path d="M1307.1 93.6C1308.1 92.0 1311.4 84.4 1312.9 84.3C1314.3 84.2 1314.8 90.2 1315.7 92.9C1316.7 95.5 1317.1 97.9 1318.6 100.0C1320.0 102.1 1321.9 104.3 1324.3 105.7C1326.7 107.1 1331.4 108.1 1332.9 108.6" stroke="#e28a7c" stroke-width="1.8" stroke-linecap="round"/>
<path d="M1332.9 108.6C1329.8 108.3 1317.9 108.8 1314.3 107.1C1310.7 105.5 1311.9 100.0 1311.4 98.6" stroke="#e28a7c" stroke-width="1.8" stroke-linecap="round"/>
<path d="M1302.9 122.9C1302.1 124.3 1298.6 130.2 1298.6 131.4C1298.6 132.6 1300.7 129.6 1302.9 130.0C1305.0 130.4 1308.3 132.4 1311.4 133.6C1314.5 134.8 1319.8 135.1 1321.4 137.1C1323.1 139.2 1321.7 142.1 1321.4 145.7C1321.2 149.3 1321.2 156.3 1320.0 158.6C1318.8 160.8 1315.2 159.2 1314.3 159.3" stroke="#e28a7c" stroke-width="1.8" stroke-linecap="round"/>
<path d="M1211.4 221.4C1211.7 224.3 1211.4 234.5 1212.9 238.6C1214.3 242.6 1217.9 245.2 1220.0 245.7C1222.1 246.2 1224.8 242.1 1225.7 241.4" stroke="#e28a7c" stroke-width="1.8" stroke-linecap="round"/>
<path d="M1234.3 227.1C1235.2 226.2 1237.9 223.1 1240.0 221.4C1242.1 219.8 1245.5 216.2 1247.1 217.1C1248.8 218.1 1250.7 224.5 1250.0 227.1C1249.3 229.8 1245.2 232.1 1242.9 232.9C1240.5 233.6 1236.9 231.7 1235.7 231.4" stroke="#e28a7c" stroke-width="1.8" stroke-linecap="round"/>
<path d="M1324.3 210.0C1323.6 209.5 1321.9 207.9 1320.0 207.1C1318.1 206.4 1314.0 206.0 1312.9 205.7" stroke="#e28a7c" stroke-width="1.8" stroke-linecap="round"/>
<path d="M1348.6 217.1C1349.0 216.7 1350.0 214.5 1351.4 214.3C1352.9 214.0 1356.2 215.5 1357.1 215.7" stroke="#e28a7c" stroke-width="1.8" stroke-linecap="round"/>
<path d="M1212.9 220.0C1214.5 218.6 1219.5 214.5 1222.9 211.4C1226.2 208.3 1230.0 203.5 1232.9 201.4C1235.7 199.4 1237.6 199.0 1240.0 199.3C1242.4 199.5 1245.5 201.5 1247.1 202.9C1248.8 204.2 1249.5 206.4 1250.0 207.1" stroke="#eaa195" stroke-width="7.0" stroke-linecap="round"/>
<path d="M1212.9 220.0C1213.8 221.0 1216.9 225.2 1218.6 225.7C1220.2 226.2 1222.1 223.3 1222.9 222.9" stroke="#eaa195" stroke-width="6.0" stroke-linecap="round"/>
<path d="M1240.0 247.1C1240.7 245.7 1242.6 241.2 1244.3 238.6C1246.0 236.0 1249.0 232.6 1250.0 231.4" stroke="#eaa195" stroke-width="6.0" stroke-linecap="round"/>
<path d="M1291.4 195.7C1292.9 195.0 1297.6 191.4 1300.0 191.4C1302.4 191.4 1304.8 195.0 1305.7 195.7" stroke="#eaa195" stroke-width="8.0" stroke-linecap="round"/>
<path d="M1294.3 204.3L1304.3 204.3" stroke="#eaa195" stroke-width="7.0" stroke-linecap="round"/>
<path d="M1280.0 214.3C1281.0 214.0 1283.8 212.9 1285.7 212.9C1287.6 212.9 1290.5 214.0 1291.4 214.3" stroke="#eaa195" stroke-width="6.0" stroke-linecap="round"/>
<path d="M1350.0 121.4L1358.6 124.3" stroke="#eaa195" stroke-width="12.0" stroke-linecap="round"/>
<path d="M1325.7 210.7C1327.1 211.3 1331.9 213.9 1334.3 214.3C1336.7 214.7 1338.9 213.3 1340.0 213.1C1341.1 213.0 1340.7 213.4 1340.8 213.4" stroke="#eaa195" stroke-width="6" stroke-linecap="butt"/>
<path d="M1337.5 218.1L1347.9 216.0L1341.3 207.8Z" fill="#eaa195" stroke="none"/>
<path d="M1368.6 262.9C1369.5 262.9 1372.4 260.7 1374.3 262.9C1376.2 265.0 1377.9 272.4 1380.0 275.7C1382.1 279.0 1384.5 281.4 1387.1 282.9C1389.8 284.3 1394.3 284.0 1395.7 284.3" stroke="#e28a7c" stroke-width="1.8" stroke-linecap="round"/>
<path d="M1368.6 262.9C1368.3 264.8 1366.9 270.7 1367.1 274.3C1367.4 277.9 1368.3 282.1 1370.0 284.3C1371.7 286.4 1376.0 286.7 1377.1 287.1" stroke="#e28a7c" stroke-width="1.8" stroke-linecap="round"/>
<path d="M1388.6 322.9C1389.5 323.8 1393.1 325.7 1394.3 328.6C1395.5 331.4 1394.3 337.6 1395.7 340.0C1397.1 342.4 1400.2 342.6 1402.9 342.9C1405.5 343.1 1409.0 340.5 1411.4 341.4C1413.8 342.4 1416.7 345.5 1417.1 348.6C1417.6 351.7 1414.3 356.7 1414.3 360.0C1414.3 363.3 1415.7 366.4 1417.1 368.6C1418.6 370.7 1421.9 372.1 1422.9 372.9" stroke="#e28a7c" stroke-width="1.8" stroke-linecap="round"/>
<path d="M1448.6 331.4C1449.3 333.3 1451.9 339.5 1452.9 342.9C1453.8 346.2 1455.0 348.6 1454.3 351.4C1453.6 354.3 1451.0 358.8 1448.6 360.0C1446.2 361.2 1442.1 359.5 1440.0 358.6C1437.9 357.6 1436.4 355.0 1435.7 354.3" stroke="#e28a7c" stroke-width="1.8" stroke-linecap="round"/>
<path d="M1504.3 287.1C1506.4 286.9 1513.3 286.7 1517.1 285.7C1521.0 284.8 1524.5 282.9 1527.1 281.4C1529.8 280.0 1531.9 277.9 1532.9 277.1" stroke="#e28a7c" stroke-width="1.8" stroke-linecap="round"/>
<path d="M1494.3 308.6C1495.5 308.1 1499.8 308.3 1501.4 305.7C1503.1 303.1 1503.8 295.0 1504.3 292.9" stroke="#e28a7c" stroke-width="1.8" stroke-linecap="round"/>
<path d="M1347.1 328.6C1346.9 330.0 1346.7 334.8 1345.7 337.1C1344.8 339.5 1342.1 341.9 1341.4 342.9" stroke="#e28a7c" stroke-width="1.8" stroke-linecap="round"/>
<path d="M1410.0 262.9C1411.7 263.6 1416.7 266.7 1420.0 267.1C1423.3 267.6 1427.6 266.9 1430.0 265.7C1432.4 264.5 1433.6 261.0 1434.3 260.0" stroke="#eaa195" stroke-width="6.0" stroke-linecap="round"/>
<path d="M1434.3 260.0C1434.5 261.9 1435.7 268.6 1435.7 271.4C1435.7 274.3 1434.5 276.2 1434.3 277.1" stroke="#eaa195" stroke-width="6.0" stroke-linecap="round"/>
<path d="M1402.9 305.7C1405.7 307.6 1414.3 314.0 1420.0 317.1C1425.7 320.2 1432.4 321.9 1437.1 324.3C1441.9 326.7 1446.7 330.2 1448.6 331.4" stroke="#eaa195" stroke-width="7.0" stroke-linecap="round"/>
<path d="M1425.7 358.6C1426.2 358.1 1426.7 356.4 1428.6 355.7C1430.5 355.0 1435.7 354.5 1437.1 354.3" stroke="#eaa195" stroke-width="5.0" stroke-linecap="round"/>
<path d="M1427.1 358.6C1427.1 360.2 1427.4 365.5 1427.1 368.6C1426.9 371.7 1426.0 375.7 1425.7 377.1" stroke="#eaa195" stroke-width="7.0" stroke-linecap="round"/>
<path d="M1451.4 288.6C1453.3 289.0 1459.0 290.5 1462.9 291.4C1466.7 292.4 1471.0 292.4 1474.3 294.3C1477.6 296.2 1481.9 299.5 1482.9 302.9C1483.8 306.2 1481.7 312.9 1480.0 314.3C1478.3 315.7 1474.0 311.9 1472.9 311.4" stroke="#eaa195" stroke-width="7.0" stroke-linecap="round"/>
<path d="M1391.4 232.9C1392.4 233.3 1396.2 234.3 1397.1 235.7C1398.1 237.1 1397.1 240.5 1397.1 241.4" stroke="#eaa195" stroke-width="7.0" stroke-linecap="round"/>
<path d="M1335.7 210.7C1337.4 211.5 1343.6 214.4 1345.7 215.7C1347.9 217.0 1348.1 218.1 1348.6 218.6" stroke="#eaa195" stroke-width="6.0" stroke-linecap="round"/>
<path d="M1374.3 285.7C1375.7 286.2 1380.5 287.4 1382.9 288.6C1385.2 289.8 1387.6 292.1 1388.6 292.9" stroke="#eaa195" stroke-width="6.0" stroke-linecap="round"/>
<path d="M1438.6 274.3C1439.5 271.9 1445.0 271.2 1448.6 271.4C1452.1 271.7 1457.6 273.6 1460.0 275.7C1462.4 277.9 1463.8 282.1 1462.9 284.3C1461.9 286.4 1457.6 288.3 1454.3 288.6C1451.0 288.8 1445.5 288.1 1442.9 285.7C1440.2 283.3 1437.6 276.7 1438.6 274.3Z" fill="#d4513f" stroke="none" fill-opacity="0.45"/>
<path d="M1471.4 305.7C1471.9 303.1 1477.1 302.4 1480.0 302.9C1482.9 303.3 1487.4 306.2 1488.6 308.6C1489.8 311.0 1489.0 315.5 1487.1 317.1C1485.2 318.8 1479.8 320.5 1477.1 318.6C1474.5 316.7 1471.0 308.3 1471.4 305.7Z" fill="#d4513f" stroke="none" fill-opacity="0.4"/>
<path d="M1347.1 340.4L1351.4 341.3L1355.0 343.7L1357.4 347.2L1358.2 351.4L1357.4 355.6L1355.0 359.2L1351.5 361.6L1347.3 362.4L1343.1 361.6L1339.5 359.2L1337.2 355.6L1336.4 351.4L1337.2 347.2L1339.6 343.7L1343.2 341.3L1347.4 340.4" stroke="#e28a7c" stroke-width="2.6" stroke-linejoin="round"/>
<path d="M1347.4 340.6L1351.8 341.4L1355.6 343.7L1358.1 347.1L1359.0 351.1L1358.1 355.2L1355.7 358.6L1352.0 360.8L1347.6 361.6L1343.2 360.8L1339.5 358.6L1337.0 355.2L1336.1 351.1L1337.0 347.1L1339.5 343.7L1343.3 341.4L1347.7 340.6" stroke="#c4281b" stroke-width="1.6" stroke-linejoin="round"/>
<path d="M1380.0 228.6C1381.0 228.3 1384.0 228.8 1385.7 227.1C1387.4 225.5 1388.7 221.3 1390.0 218.6C1391.3 215.8 1392.3 212.3 1393.6 210.7C1394.9 209.2 1397.1 209.5 1397.9 209.3" stroke="#707070" stroke-width="2" stroke-linecap="round"/>
<path d="M1397.9 209.3C1399.6 209.5 1405.0 210.6 1408.6 210.7C1412.1 210.8 1416.4 212.2 1419.3 210.0C1422.1 207.8 1423.7 199.3 1425.7 197.4C1427.7 195.5 1428.8 197.4 1431.4 198.6C1434.0 199.7 1437.9 202.4 1441.4 204.3C1445.0 206.2 1448.8 210.6 1452.9 210.0C1456.9 209.4 1462.4 201.2 1465.7 200.7C1469.0 200.2 1470.5 205.1 1472.9 207.1C1475.2 209.2 1477.4 212.1 1480.0 213.1C1482.6 214.1 1485.5 213.7 1488.6 213.1C1491.7 212.6 1495.7 211.2 1498.6 210.0C1501.4 208.8 1503.8 208.6 1505.7 205.7C1507.6 202.9 1508.1 195.2 1510.0 192.9C1511.9 190.5 1514.8 191.9 1517.1 191.4C1519.5 191.0 1521.9 190.7 1524.3 190.0C1526.7 189.3 1529.0 188.8 1531.4 187.1C1533.8 185.5 1536.4 181.0 1538.6 180.0C1540.7 179.0 1541.7 180.6 1544.3 181.4C1546.9 182.3 1551.7 185.2 1554.3 185.0C1556.9 184.8 1558.5 181.5 1560.0 180.0C1561.5 178.5 1562.6 177.9 1563.6 175.7C1564.5 173.6 1565.4 168.6 1565.7 167.1" stroke="#b2b2b2" stroke-width="1.8" stroke-linecap="round"/>
<path d="M1565.7 167.1C1565.2 167.6 1564.3 169.2 1562.9 170.0C1561.4 170.8 1558.7 171.6 1557.1 171.7C1555.6 171.8 1554.1 172.4 1553.6 170.7C1553.0 169.0 1553.6 163.9 1554.0 161.4C1554.4 158.9 1554.2 157.4 1555.7 155.7C1557.2 154.0 1560.7 153.0 1562.9 151.4C1565.0 149.9 1566.7 148.0 1568.6 146.4C1570.5 144.8 1571.9 142.6 1574.3 141.7C1576.7 140.8 1580.0 141.4 1582.9 141.1C1585.7 140.9 1589.8 140.9 1591.4 140.0C1593.0 139.1 1592.3 137.3 1592.4 135.7C1592.6 134.2 1592.4 131.5 1592.4 130.7" stroke="#b2b2b2" stroke-width="1.8" stroke-linecap="round"/>
<path d="M1531.4 180.0L1538.6 181.4L1540.0 184.3L1530.0 187.9Z" fill="#b2b2b2" stroke="none"/>
<path d="M1565.7 166.0C1566.7 165.3 1569.5 162.7 1571.4 161.7C1573.3 160.8 1575.0 160.3 1577.1 160.3C1579.3 160.3 1583.8 160.6 1584.3 161.7C1584.8 162.9 1580.7 166.2 1580.0 167.1" stroke="#b2b2b2" stroke-width="4.0" stroke-linecap="round"/>
<path d="M1562.9 176.0C1563.8 175.9 1566.4 174.8 1568.6 175.3C1570.7 175.8 1574.2 177.5 1575.7 178.9C1577.3 180.2 1578.6 181.8 1577.9 183.1C1577.1 184.5 1573.7 187.2 1571.4 187.1C1569.2 187.1 1565.5 183.6 1564.3 182.9" stroke="#b2b2b2" stroke-width="5.0" stroke-linecap="round"/>
<path d="M1131.4 295.7C1130.0 296.7 1125.5 299.3 1122.9 301.4C1120.2 303.6 1117.5 306.0 1115.7 308.6C1113.9 311.2 1112.7 314.3 1112.1 317.1C1111.5 320.0 1111.4 323.0 1112.1 325.7C1112.9 328.5 1113.7 333.8 1116.4 333.6C1119.2 333.3 1126.5 325.8 1128.6 324.3" stroke="#b2b2b2" stroke-width="2.4" stroke-linecap="round"/>
<path d="M1112.6 311.4L1111.4 322.9" stroke="#505050" stroke-width="2.4" stroke-linecap="round"/>
<path d="M1174.3 282.9C1176.2 283.2 1182.1 285.0 1185.7 285.0C1189.3 285.0 1191.9 283.6 1195.7 282.9C1199.5 282.1 1204.8 281.0 1208.6 280.7C1212.4 280.5 1216.9 281.3 1218.6 281.4" stroke="#b2b2b2" stroke-width="2.2" stroke-linecap="round"/>
<path d="M1134.3 322.1C1136.7 322.3 1144.8 323.5 1148.6 322.9C1152.4 322.3 1154.5 320.2 1157.1 318.6C1159.8 316.9 1161.7 314.9 1164.3 312.9C1166.9 310.8 1170.0 307.0 1172.9 306.4C1175.7 305.8 1178.6 308.2 1181.4 309.3C1184.3 310.4 1187.4 313.1 1190.0 312.9C1192.6 312.6 1195.2 309.2 1197.1 307.9C1199.0 306.5 1200.7 305.5 1201.4 305.0" stroke="#505050" stroke-width="2.4" stroke-linecap="round"/>
<path d="M1172.9 306.4L1181.4 309.3" stroke="#b2b2b2" stroke-width="2.4" stroke-linecap="round"/>
<path d="M1131.4 296.0C1132.9 294.8 1136.7 291.0 1140.0 288.9C1143.3 286.7 1147.4 284.6 1151.4 283.1C1155.5 281.7 1161.2 280.7 1164.3 280.3C1167.4 279.9 1169.0 280.8 1170.0 281.0" stroke="#505050" stroke-width="6" stroke-linecap="butt"/>
<path d="M1167.9 285.7L1176.4 281.7L1169.1 275.8Z" fill="#505050" stroke="none"/>
<path d="M1218.6 281.4C1220.2 281.3 1224.5 280.7 1228.6 280.7C1232.6 280.7 1238.6 281.0 1242.9 281.4C1247.1 281.9 1250.7 282.6 1254.3 283.6C1257.9 284.5 1262.6 286.5 1264.3 287.1" stroke="#bfbfbf" stroke-width="8.0" stroke-linecap="round"/>
<path d="M1264.3 287.1C1266.0 288.1 1271.2 290.7 1274.3 292.9C1277.4 295.0 1280.2 298.1 1282.9 300.0C1285.5 301.9 1288.8 303.6 1290.0 304.3" stroke="#707070" stroke-width="7.0" stroke-linecap="round"/>
<path d="M1198.6 287.1C1196.9 287.1 1191.7 286.7 1188.6 287.1C1185.5 287.6 1182.9 289.3 1180.0 290.0C1177.1 290.7 1174.3 291.9 1171.4 291.4C1168.6 291.0 1165.5 288.1 1162.9 287.1C1160.2 286.2 1158.3 285.2 1155.7 285.7C1153.1 286.2 1150.0 288.1 1147.1 290.0C1144.3 291.9 1141.2 294.8 1138.6 297.1C1136.0 299.5 1133.2 301.7 1131.4 304.3C1129.6 306.9 1128.3 310.2 1127.9 312.9C1127.4 315.5 1127.5 318.3 1128.6 320.0C1129.6 321.7 1131.9 322.4 1134.3 322.9C1136.7 323.3 1140.2 322.6 1142.9 322.9C1145.5 323.1 1148.8 324.0 1150.0 324.3" stroke="#8e1c12" stroke-width="2.4" stroke-linecap="round"/>
<path d="M1150.0 342.9C1151.2 342.6 1155.2 342.9 1157.1 341.4C1159.0 340.0 1160.0 336.7 1161.4 334.3C1162.9 331.9 1164.3 328.6 1165.7 327.1C1167.1 325.7 1168.6 325.5 1170.0 325.7C1171.4 326.0 1173.6 328.1 1174.3 328.6" stroke="#8e1c12" stroke-width="2.4" stroke-linecap="round"/>
<path d="M1235.7 322.9C1236.4 322.4 1237.9 320.5 1240.0 320.0C1242.1 319.5 1247.1 320.0 1248.6 320.0" stroke="#8e1c12" stroke-width="2.4" stroke-linecap="round"/>
<path d="M1257.1 320.0C1257.9 318.8 1259.8 314.8 1261.4 312.9C1263.1 311.0 1265.0 309.4 1267.1 308.6C1269.3 307.7 1273.1 308.0 1274.3 307.9" stroke="#8e1c12" stroke-width="2.4" stroke-linecap="round"/>
<path d="M1212.9 303.0L1225.7 303.1" stroke="#c4c4c4" stroke-width="7.0" stroke-linecap="round"/>
<path d="M1228.6 303.0L1241.4 303.1" stroke="#505050" stroke-width="7.0" stroke-linecap="round"/>
<path d="M1242.9 303.0L1255.7 303.1" stroke="#bdbdbd" stroke-width="7.0" stroke-linecap="round"/>
<path d="M1257.1 303.6C1259.5 303.9 1267.6 305.2 1271.4 305.7C1275.2 306.2 1278.6 306.3 1280.0 306.4" stroke="#505050" stroke-width="5.0" stroke-linecap="round"/>
<path d="M1300.0 310.0C1302.4 310.1 1309.5 310.8 1314.3 310.7C1319.0 310.6 1324.3 309.9 1328.6 309.3C1332.9 308.7 1338.1 307.5 1340.0 307.1" stroke="#707070" stroke-width="7.0" stroke-linecap="round"/>
<path d="M1274.3 307.1C1276.2 306.7 1281.4 305.1 1285.7 304.3C1290.0 303.5 1295.2 302.4 1300.0 302.1C1304.8 301.9 1309.5 302.6 1314.3 302.9C1319.0 303.1 1324.3 303.6 1328.6 303.6C1332.9 303.6 1338.1 303.0 1340.0 302.9" stroke="#8e1c12" stroke-width="9.0" stroke-linecap="round"/>
<path d="M1305.7 318.6C1307.6 319.5 1313.3 322.9 1317.1 324.3C1321.0 325.7 1324.8 326.4 1328.6 327.1C1332.4 327.9 1338.1 328.3 1340.0 328.6" stroke="#707070" stroke-width="7.0" stroke-linecap="round"/>
<path d="M1322.9 323.6L1331.4 327.1" stroke="#b98580" stroke-width="7.0" stroke-linecap="round"/>
<path d="M1284.3 305.7C1285.5 306.7 1288.8 310.0 1291.4 311.4C1294.0 312.9 1297.6 313.2 1300.0 314.3C1302.4 315.4 1304.8 317.3 1305.7 317.9" stroke="#c4281b" stroke-width="8.0" stroke-linecap="round"/>
<path d="M1254.3 224.3C1256.2 224.0 1261.7 223.3 1265.7 222.9C1269.8 222.4 1276.4 221.7 1278.6 221.4" stroke="#707070" stroke-width="8.0" stroke-linecap="round"/>
<path d="M1254.3 230.0C1254.8 231.2 1256.0 235.2 1257.1 237.1C1258.3 239.0 1260.7 240.7 1261.4 241.4" stroke="#505050" stroke-width="6.0" stroke-linecap="round"/>
<path d="M1278.6 252.9C1279.8 252.9 1283.6 252.1 1285.7 252.9C1287.9 253.6 1290.2 255.2 1291.4 257.1C1292.6 259.0 1292.6 263.1 1292.9 264.3" stroke="#505050" stroke-width="8.0" stroke-linecap="round"/>
<path d="M1290.0 267.1C1290.5 268.3 1292.6 272.6 1292.9 274.3C1293.1 276.0 1291.7 276.7 1291.4 277.1" stroke="#707070" stroke-width="6.0" stroke-linecap="round"/>
<path d="M1302.9 261.4C1304.8 262.1 1310.5 263.8 1314.3 265.7C1318.1 267.6 1322.4 270.7 1325.7 272.9C1329.0 275.0 1332.9 277.6 1334.3 278.6" stroke="#707070" stroke-width="5.0" stroke-linecap="round"/>
<path d="M1284.3 222.9C1284.8 224.3 1285.7 228.8 1287.1 231.4C1288.6 234.0 1290.7 236.9 1292.9 238.6C1295.0 240.2 1298.8 241.0 1300.0 241.4" stroke="#c4281b" stroke-width="5.0" stroke-linecap="round"/>
<path d="M1308.6 260.0C1310.2 260.7 1315.2 262.6 1318.6 264.3C1321.9 266.0 1325.7 268.1 1328.6 270.0C1331.4 271.9 1334.5 274.8 1335.7 275.7" stroke="#c4281b" stroke-width="5.0" stroke-linecap="round"/>
<path d="M1311.4 274.3L1320.0 273.1" stroke="#8e1c12" stroke-width="6.0" stroke-linecap="round"/>
<path d="M1334.3 241.4C1334.5 243.8 1335.2 251.0 1335.7 255.7C1336.2 260.5 1336.4 265.2 1337.1 270.0C1337.9 274.8 1339.5 281.9 1340.0 284.3" stroke="#8e1c12" stroke-width="8.0" stroke-linecap="round"/>
<path d="M1321.4 234.3C1322.6 234.3 1327.4 232.4 1328.6 234.3C1329.8 236.2 1328.6 243.8 1328.6 245.7" stroke="#c4281b" stroke-width="7.0" stroke-linecap="round"/>
<path d="M1317.1 242.9C1318.3 243.8 1321.9 247.4 1324.3 248.6C1326.7 249.8 1330.2 249.8 1331.4 250.0" stroke="#707070" stroke-width="6.0" stroke-linecap="round"/>
<path d="M1300.0 244.3C1301.0 245.5 1304.3 249.5 1305.7 251.4C1307.1 253.3 1308.1 255.0 1308.6 255.7" stroke="#505050" stroke-width="6.0" stroke-linecap="round"/>
<path d="M1257.1 244.3C1258.3 244.5 1261.9 246.7 1264.3 245.7C1266.7 244.8 1269.0 240.5 1271.4 238.6C1273.8 236.7 1276.2 236.0 1278.6 234.3C1281.0 232.6 1284.5 229.5 1285.7 228.6" stroke="#707070" stroke-width="2.3" stroke-linecap="round"/>
<path d="M1292.9 277.1C1294.0 277.9 1296.9 281.2 1300.0 281.4C1303.1 281.7 1308.1 278.6 1311.4 278.6C1314.8 278.6 1317.6 280.2 1320.0 281.4C1322.4 282.6 1323.3 285.2 1325.7 285.7C1328.1 286.2 1332.9 284.5 1334.3 284.3" stroke="#707070" stroke-width="2.3" stroke-linecap="round"/>
<path d="M1278.6 245.7C1279.8 245.2 1282.6 242.9 1285.7 242.9C1288.8 242.9 1295.2 245.2 1297.1 245.7" stroke="#8e1c12" stroke-width="2.3" stroke-linecap="round"/>
<path d="M1292.9 262.9C1293.6 264.5 1295.2 270.5 1297.1 272.9C1299.0 275.2 1301.4 277.1 1304.3 277.1C1307.1 277.1 1311.7 273.3 1314.3 272.9C1316.9 272.4 1319.0 274.0 1320.0 274.3" stroke="#8e1c12" stroke-width="2.3" stroke-linecap="round"/>
<path d="M1268.6 244.3C1269.0 244.8 1270.0 248.1 1271.4 247.1C1272.9 246.2 1275.5 240.5 1277.1 238.6C1278.8 236.7 1280.7 236.2 1281.4 235.7" stroke="#8e1c12" stroke-width="2.3" stroke-linecap="round"/>
<path d="M1320.0 120.0C1318.6 118.8 1314.3 114.8 1311.4 112.9C1308.6 111.0 1305.2 110.2 1302.9 108.6C1300.5 106.9 1298.3 105.2 1297.1 102.9C1296.0 100.5 1295.5 97.1 1295.7 94.3C1296.0 91.4 1296.9 87.5 1298.6 85.7C1300.2 83.9 1302.6 83.6 1305.7 83.6C1308.8 83.6 1314.0 84.2 1317.1 85.7C1320.2 87.3 1322.7 90.2 1324.3 92.9C1325.8 95.5 1326.4 98.6 1326.4 101.4C1326.4 104.3 1325.6 107.1 1324.3 110.0C1323.0 112.9 1318.8 116.0 1318.6 118.6C1318.3 121.2 1322.1 124.5 1322.9 125.7" stroke="#a5a5a5" stroke-width="2" stroke-linecap="round"/>
<path d="M1341.4 107.1C1343.1 106.1 1348.1 102.3 1351.4 100.7C1354.8 99.1 1358.9 97.8 1361.4 97.4C1363.9 97.1 1365.7 97.0 1366.4 98.6C1367.1 100.2 1366.3 103.6 1365.7 107.1C1365.1 110.7 1363.6 116.0 1362.9 120.0C1362.1 124.0 1362.9 128.6 1361.4 131.4C1360.0 134.3 1356.4 135.5 1354.3 137.1C1352.1 138.8 1349.0 139.3 1348.6 141.4C1348.1 143.6 1350.7 147.1 1351.4 150.0C1352.1 152.9 1352.6 157.1 1352.9 158.6" stroke="#707070" stroke-width="2.2" stroke-linecap="round"/>
<path d="M1361.4 97.4C1362.3 97.6 1365.7 97.2 1366.4 98.6C1367.1 100.0 1365.8 104.5 1365.7 105.7" stroke="#b5b5b5" stroke-width="2.2" stroke-linecap="round"/>
<path d="M1288.6 149.3C1287.4 149.3 1283.3 150.6 1281.4 149.3C1279.5 148.0 1278.3 143.2 1277.1 141.4C1276.0 139.6 1276.0 138.1 1274.3 138.6C1272.6 139.0 1269.0 141.9 1267.1 144.3C1265.2 146.7 1263.8 150.0 1262.9 152.9C1261.9 155.7 1261.0 158.8 1261.4 161.4C1261.9 164.0 1264.3 167.1 1265.7 168.6C1267.1 170.0 1269.3 169.8 1270.0 170.0" stroke="#ababab" stroke-width="2" stroke-linecap="round"/>
<path d="M1262.9 171.7C1264.0 171.2 1268.5 168.1 1269.7 168.9C1270.9 169.6 1270.9 173.9 1270.0 176.0C1269.1 178.1 1266.0 179.8 1264.3 181.7C1262.6 183.6 1260.7 186.5 1260.0 187.4" stroke="#bcbcbc" stroke-width="5.0" stroke-linecap="round"/>
<path d="M1257.1 188.9C1257.9 188.6 1261.0 186.5 1261.4 187.4C1261.9 188.4 1260.2 193.4 1260.0 194.6" stroke="#b0b0b0" stroke-width="5.0" stroke-linecap="round"/>
<path d="M1328.6 123.1C1329.0 121.7 1329.5 117.0 1331.4 114.6C1333.3 112.2 1336.9 109.8 1340.0 108.9C1343.1 107.9 1346.9 107.9 1350.0 108.9C1353.1 109.8 1356.7 112.9 1358.6 114.6C1360.5 116.2 1361.0 118.1 1361.4 118.9" stroke="#c4281b" stroke-width="8.0" stroke-linecap="round"/>
<path d="M1332.9 117.1C1333.6 117.6 1335.8 121.0 1337.1 120.0C1338.5 119.0 1340.1 112.9 1340.7 111.4" stroke="#707070" stroke-width="3" stroke-linecap="butt"/>
<path d="M1322.9 127.4C1323.8 127.4 1326.2 127.7 1328.6 127.4C1331.0 127.2 1334.8 125.3 1337.1 126.0C1339.5 126.7 1341.4 129.6 1342.9 131.7C1344.3 133.9 1345.7 136.2 1345.7 138.9C1345.7 141.5 1344.3 145.0 1342.9 147.4C1341.4 149.8 1339.0 152.7 1337.1 153.1C1335.2 153.6 1332.4 150.8 1331.4 150.3" stroke="#8e1c12" stroke-width="8.0" stroke-linecap="round"/>
<path d="M1334.3 147.4C1335.2 147.0 1338.3 146.0 1340.0 144.6C1341.7 143.1 1343.6 139.8 1344.3 138.9" stroke="#505050" stroke-width="5.0" stroke-linecap="round"/>
<path d="M1341.4 150.3C1342.6 149.8 1346.7 147.0 1348.6 147.4C1350.5 147.9 1351.7 150.8 1352.9 153.1C1354.0 155.5 1355.2 160.3 1355.7 161.7" stroke="#707070" stroke-width="6.0" stroke-linecap="round"/>
<path d="M1367.1 116.0C1368.3 116.5 1372.1 117.4 1374.3 118.9C1376.4 120.3 1378.7 122.4 1380.0 124.6C1381.3 126.7 1382.1 129.1 1382.1 131.7C1382.1 134.3 1381.1 138.1 1380.0 140.3C1378.9 142.4 1376.4 143.9 1375.7 144.6" stroke="#c4281b" stroke-width="8.0" stroke-linecap="round"/>
<path d="M1371.4 141.4C1370.5 141.9 1367.4 142.4 1365.7 144.3C1364.0 146.2 1363.3 150.7 1361.4 152.9C1359.5 155.0 1357.4 156.0 1354.3 157.1C1351.2 158.3 1346.0 159.3 1342.9 160.0C1339.8 160.7 1336.9 160.2 1335.7 161.4C1334.5 162.6 1335.7 166.2 1335.7 167.1" stroke="#8e1c12" stroke-width="2.2" stroke-linecap="round"/>
<path d="M1288.6 148.9L1298.6 148.9" stroke="#707070" stroke-width="6.0" stroke-linecap="round"/>
<path d="M1298.6 137.4C1298.8 138.6 1298.6 142.7 1300.0 144.6C1301.4 146.5 1305.0 147.7 1307.1 148.9C1309.3 150.0 1312.1 150.5 1312.9 151.7C1313.6 152.9 1311.7 155.3 1311.4 156.0" stroke="#c4281b" stroke-width="5.0" stroke-linecap="round"/>
<path d="M1288.6 157.4C1290.0 156.7 1293.8 153.9 1297.1 153.1C1300.5 152.4 1306.0 152.7 1308.6 153.1C1311.2 153.6 1312.1 155.5 1312.9 156.0" stroke="#c4281b" stroke-width="8.0" stroke-linecap="round"/>
<path d="M1287.1 161.7C1288.8 161.7 1293.8 161.5 1297.1 161.7C1300.5 162.0 1305.5 162.9 1307.1 163.1" stroke="#707070" stroke-width="6.0" stroke-linecap="round"/>
<path d="M1285.7 167.4C1286.9 167.2 1290.5 165.5 1292.9 166.0C1295.2 166.5 1298.6 168.6 1300.0 170.3C1301.4 172.0 1301.2 175.0 1301.4 176.0" stroke="#8e1c12" stroke-width="7.0" stroke-linecap="round"/>
<path d="M1277.1 178.9C1278.3 177.9 1281.7 174.3 1284.3 173.1C1286.9 172.0 1290.2 171.2 1292.9 171.7C1295.5 172.2 1299.0 174.3 1300.0 176.0C1301.0 177.7 1298.8 180.8 1298.6 181.7" stroke="#c4281b" stroke-width="8.0" stroke-linecap="round"/>
<path d="M1275.7 183.1C1277.4 182.7 1282.1 180.3 1285.7 180.3C1289.3 180.3 1295.2 182.7 1297.1 183.1" stroke="#707070" stroke-width="5.0" stroke-linecap="round"/>
<path d="M1261.4 196.0C1262.6 195.0 1265.5 191.2 1268.6 190.3C1271.7 189.3 1276.7 189.6 1280.0 190.3C1283.3 191.0 1288.1 193.1 1288.6 194.6C1289.0 196.0 1283.8 198.1 1282.9 198.9" stroke="#c4281b" stroke-width="8.0" stroke-linecap="round"/>
<path d="M1267.1 201.7C1268.8 201.2 1273.6 198.9 1277.1 198.9C1280.7 198.9 1286.7 201.2 1288.6 201.7" stroke="#707070" stroke-width="7.0" stroke-linecap="round"/>
<path d="M1250.0 206.0C1251.7 206.0 1256.9 205.0 1260.0 206.0C1263.1 207.0 1266.4 210.0 1268.6 211.7C1270.7 213.4 1272.1 215.3 1272.9 216.0" stroke="#c4281b" stroke-width="8.0" stroke-linecap="round"/>
<path d="M1255.7 226.0C1257.1 225.3 1261.2 222.7 1264.3 221.7C1267.4 220.8 1272.1 221.2 1274.3 220.3C1276.4 219.3 1276.7 216.7 1277.1 216.0" stroke="#707070" stroke-width="7.0" stroke-linecap="round"/>
<path d="M1254.3 228.9C1254.8 230.0 1256.2 233.9 1257.1 236.0C1258.1 238.1 1259.5 240.8 1260.0 241.7" stroke="#505050" stroke-width="6.0" stroke-linecap="round"/>
<path d="M1290.0 178.6C1290.2 177.1 1289.8 171.7 1291.4 170.0C1293.1 168.3 1297.1 168.8 1300.0 168.6C1302.9 168.3 1307.1 168.6 1308.6 168.6" stroke="#8e1c12" stroke-width="2" stroke-linecap="round"/>
<path d="M1342.9 168.9C1344.8 168.6 1351.0 167.2 1354.3 167.4C1357.6 167.7 1360.8 168.6 1362.9 170.3C1364.9 172.0 1366.2 174.8 1366.4 177.4C1366.7 180.0 1365.8 183.6 1364.3 186.0C1362.7 188.4 1359.8 190.3 1357.1 191.7C1354.5 193.1 1350.0 194.1 1348.6 194.6" stroke="#707070" stroke-width="8.0" stroke-linecap="round"/>
<path d="M1361.4 170.3C1358.3 170.5 1347.4 171.2 1342.9 171.4C1338.3 171.7 1335.9 171.7 1334.3 171.7C1332.7 171.7 1333.5 171.6 1333.3 171.6" stroke="#707070" stroke-width="8" stroke-linecap="butt"/>
<path d="M1335.3 164.8L1312.9 170.0L1334.2 178.7Z" fill="#707070" stroke="none"/>
<path d="M1317.1 175.7C1319.0 176.2 1325.5 178.6 1328.6 178.6C1331.7 178.6 1334.5 176.2 1335.7 175.7" stroke="#8e1c12" stroke-width="2" stroke-linecap="round"/>
<path d="M1355.7 172.9C1356.4 173.8 1360.0 176.7 1360.0 178.6C1360.0 180.5 1356.4 183.3 1355.7 184.3" stroke="#8e1c12" stroke-width="2" stroke-linecap="round"/>
<path d="M1298.6 170.7C1300.2 172.3 1306.0 177.7 1308.6 180.0C1311.2 182.3 1313.3 183.6 1314.3 184.3" stroke="#505050" stroke-width="4.0" stroke-linecap="round"/>
<path d="M1308.6 184.6C1310.0 185.3 1313.8 187.7 1317.1 188.9C1320.5 190.0 1324.3 191.0 1328.6 191.7C1332.9 192.4 1338.1 192.4 1342.9 193.1C1347.6 193.9 1354.8 195.5 1357.1 196.0" stroke="#505050" stroke-width="8.0" stroke-linecap="round"/>
<path d="M1357.1 196.0C1358.1 196.9 1361.4 200.0 1362.9 201.4C1364.3 202.8 1364.3 204.4 1365.7 204.3C1367.1 204.2 1370.1 200.7 1371.4 200.7C1372.7 200.7 1373.6 202.3 1373.6 204.3C1373.6 206.3 1372.3 210.4 1371.4 212.9C1370.6 215.4 1370.2 218.6 1368.6 219.3C1366.9 220.0 1364.0 218.2 1361.4 217.1C1358.8 216.1 1354.5 215.5 1352.9 212.9C1351.2 210.2 1351.7 203.3 1351.4 201.4" stroke="#707070" stroke-width="2.2" stroke-linecap="round"/>
<path d="M1364.3 202.1C1365.4 201.8 1369.5 199.2 1370.7 200.0C1371.9 200.8 1371.5 204.5 1371.4 207.1C1371.3 209.8 1371.9 214.3 1370.0 215.7C1368.1 217.1 1363.1 216.0 1360.0 215.7C1356.9 215.5 1352.9 214.5 1351.4 214.3" stroke="#8e1c12" stroke-width="1.8" stroke-linecap="round"/>
<path d="M1292.9 201.7C1292.4 203.6 1291.0 209.3 1290.0 213.1C1289.0 217.0 1287.4 221.5 1287.1 224.6C1286.9 227.7 1288.3 230.5 1288.6 231.7" stroke="#8e1c12" stroke-width="8.0" stroke-linecap="round"/>
<path d="M1310.0 191.7C1309.3 194.1 1306.9 201.2 1305.7 206.0C1304.5 210.8 1303.8 216.7 1302.9 220.3C1301.9 223.9 1300.5 226.2 1300.0 227.4" stroke="#c4281b" stroke-width="8.0" stroke-linecap="round"/>
<path d="M1328.6 196.0C1327.1 197.9 1322.6 203.4 1320.0 207.4C1317.4 211.5 1315.0 216.5 1312.9 220.3C1310.7 224.1 1308.1 228.6 1307.1 230.3" stroke="#8e1c12" stroke-width="3" stroke-linecap="butt"/>
<path d="M1342.9 198.9C1340.5 199.8 1332.6 202.2 1328.6 204.6C1324.5 207.0 1321.7 209.8 1318.6 213.1C1315.5 216.5 1311.4 222.7 1310.0 224.6" stroke="#707070" stroke-width="3" stroke-linecap="butt"/>
<path d="M1331.4 195.7C1333.1 196.0 1339.5 196.5 1341.4 197.1C1343.3 197.7 1342.6 198.9 1342.9 199.3" stroke="#c4281b" stroke-width="4.0" stroke-linecap="round"/>
<path d="M1284.3 224.3C1285.7 223.6 1289.3 220.5 1292.9 220.0C1296.4 219.5 1303.6 221.2 1305.7 221.4" stroke="#707070" stroke-width="2.5" stroke-linecap="round"/>
<path d="M1257.1 244.6C1259.0 244.3 1265.2 244.8 1268.6 243.1C1271.9 241.5 1274.3 236.7 1277.1 234.6C1280.0 232.4 1282.9 231.5 1285.7 230.3C1288.6 229.1 1292.9 227.9 1294.3 227.4" stroke="#707070" stroke-width="3" stroke-linecap="butt"/>
<path d="M1288.6 232.9C1289.5 234.0 1291.9 238.1 1294.3 240.0C1296.7 241.9 1300.5 242.6 1302.9 244.3C1305.2 246.0 1307.6 249.0 1308.6 250.0" stroke="#707070" stroke-width="7.0" stroke-linecap="round"/>
<path d="M1280.0 241.4C1281.4 241.2 1285.7 239.5 1288.6 240.0C1291.4 240.5 1295.7 243.6 1297.1 244.3" stroke="#c4281b" stroke-width="6.0" stroke-linecap="round"/>
<path d="M1248.6 225.7C1248.8 227.1 1248.6 231.7 1250.0 234.3C1251.4 236.9 1254.0 239.3 1257.1 241.4C1260.2 243.6 1266.7 246.2 1268.6 247.1" stroke="#8e1c12" stroke-width="2" stroke-linecap="round"/>
<path d="M1351.4 200.0C1351.7 202.4 1350.0 211.2 1352.9 214.3C1355.7 217.4 1365.2 220.0 1368.6 218.6C1371.9 217.1 1372.6 208.8 1372.9 205.7C1373.1 202.6 1370.5 201.0 1370.0 200.0" stroke="#707070" stroke-width="2.2" stroke-linecap="round"/>
<path d="M1352.9 201.4C1352.7 203.3 1350.0 210.2 1352.1 212.9C1354.3 215.5 1362.6 218.1 1365.7 217.1C1368.8 216.2 1369.9 208.8 1370.7 207.1" stroke="#8e1c12" stroke-width="1.8" stroke-linecap="round"/>
<path d="M1358.6 232.9C1360.0 231.9 1364.0 228.1 1367.1 227.1C1370.2 226.2 1374.0 227.3 1377.1 227.1C1380.2 227.0 1383.3 228.3 1385.7 226.4C1388.1 224.5 1389.5 218.5 1391.4 215.7C1393.3 213.0 1396.2 211.0 1397.1 210.0" stroke="#707070" stroke-width="2.2" stroke-linecap="round"/>
<path d="M1331.3 248.4C1331.4 248.7 1331.8 249.8 1332.0 250.6C1332.2 251.3 1332.4 252.0 1332.5 252.7C1332.7 253.4 1332.9 254.1 1333.0 254.8C1333.1 255.5 1333.3 256.1 1333.4 256.7C1333.5 257.3 1333.6 257.9 1333.7 258.4C1333.8 258.9 1333.8 259.3 1333.9 259.7C1334.0 260.1 1334.0 260.5 1334.1 260.7C1334.2 261.0 1334.2 261.2 1334.3 261.4C1334.3 261.5 1334.4 261.6 1334.4 261.6C1334.5 261.6 1334.5 261.5 1334.6 261.3C1334.7 261.2 1334.7 261.0 1334.8 260.7C1334.9 260.4 1335.0 260.1 1335.1 259.7C1335.2 259.3 1335.3 258.8 1335.4 258.3C1335.5 257.8 1335.7 257.2 1335.8 256.6C1336.0 256.0 1336.1 255.4 1336.3 254.7C1336.5 254.1 1336.7 253.4 1336.9 252.7C1337.2 252.0 1337.5 250.9 1337.7 250.6" stroke="#707070" stroke-width="8.5" stroke-linecap="butt"/>
<path d="M1353.7 249.1C1353.8 249.5 1354.1 250.6 1354.3 251.3C1354.5 252.0 1354.7 252.8 1354.9 253.5C1355.1 254.2 1355.2 254.9 1355.4 255.5C1355.5 256.2 1355.6 256.9 1355.8 257.5C1355.9 258.0 1356.0 258.6 1356.1 259.1C1356.1 259.6 1356.2 260.1 1356.3 260.5C1356.4 260.9 1356.4 261.2 1356.5 261.5C1356.5 261.8 1356.6 262.0 1356.6 262.1C1356.7 262.2 1356.7 262.3 1356.8 262.3C1356.8 262.3 1356.9 262.2 1357.0 262.1C1357.0 261.9 1357.1 261.7 1357.2 261.4C1357.2 261.2 1357.3 260.8 1357.4 260.4C1357.5 260.0 1357.6 259.6 1357.8 259.1C1357.9 258.5 1358.0 258.0 1358.2 257.4C1358.3 256.8 1358.5 256.2 1358.7 255.5C1358.9 254.8 1359.1 254.1 1359.3 253.4C1359.5 252.8 1359.9 251.7 1360.0 251.3" stroke="#707070" stroke-width="8.5" stroke-linecap="butt"/>
<path d="M1376.0 249.9C1376.1 250.2 1376.5 251.3 1376.7 252.1C1376.9 252.8 1377.1 253.5 1377.3 254.2C1377.5 254.9 1377.6 255.6 1377.8 256.3C1377.9 257.0 1378.0 257.6 1378.1 258.2C1378.2 258.8 1378.3 259.4 1378.4 259.9C1378.5 260.4 1378.6 260.8 1378.7 261.2C1378.7 261.6 1378.8 262.0 1378.9 262.2C1378.9 262.5 1379.0 262.7 1379.0 262.9C1379.1 263.0 1379.1 263.1 1379.2 263.1C1379.2 263.1 1379.3 263.0 1379.3 262.8C1379.4 262.7 1379.5 262.5 1379.5 262.2C1379.6 261.9 1379.7 261.6 1379.8 261.2C1379.9 260.8 1380.0 260.3 1380.1 259.8C1380.3 259.3 1380.4 258.7 1380.6 258.1C1380.7 257.5 1380.9 256.9 1381.1 256.2C1381.3 255.6 1381.5 254.9 1381.7 254.2C1381.9 253.5 1382.3 252.4 1382.4 252.1" stroke="#707070" stroke-width="8.5" stroke-linecap="butt"/>
<path d="M1398.4 250.6C1398.5 251.0 1398.9 252.1 1399.1 252.8C1399.3 253.5 1399.5 254.3 1399.7 255.0C1399.8 255.7 1400.0 256.4 1400.1 257.0C1400.3 257.7 1400.4 258.4 1400.5 259.0C1400.6 259.5 1400.7 260.1 1400.8 260.6C1400.9 261.1 1401.0 261.6 1401.0 262.0C1401.1 262.4 1401.2 262.7 1401.2 263.0C1401.3 263.3 1401.3 263.5 1401.4 263.6C1401.4 263.7 1401.5 263.8 1401.5 263.8C1401.6 263.8 1401.7 263.7 1401.7 263.6C1401.8 263.4 1401.8 263.2 1401.9 262.9C1402.0 262.7 1402.1 262.3 1402.2 261.9C1402.3 261.5 1402.4 261.1 1402.5 260.6C1402.6 260.0 1402.8 259.5 1402.9 258.9C1403.1 258.3 1403.3 257.7 1403.4 257.0C1403.6 256.3 1403.8 255.6 1404.1 254.9C1404.3 254.3 1404.7 253.2 1404.8 252.8" stroke="#707070" stroke-width="8.5" stroke-linecap="butt"/>
<path d="M1420.8 251.4C1420.9 251.7 1421.3 252.8 1421.5 253.6C1421.7 254.3 1421.9 255.0 1422.0 255.7C1422.2 256.4 1422.4 257.1 1422.5 257.8C1422.6 258.5 1422.8 259.1 1422.9 259.7C1423.0 260.3 1423.1 260.9 1423.2 261.4C1423.3 261.9 1423.3 262.3 1423.4 262.7C1423.5 263.1 1423.5 263.5 1423.6 263.7C1423.7 264.0 1423.7 264.2 1423.8 264.4C1423.8 264.5 1423.9 264.6 1423.9 264.6C1424.0 264.6 1424.0 264.5 1424.1 264.3C1424.2 264.2 1424.2 264.0 1424.3 263.7C1424.4 263.4 1424.5 263.1 1424.6 262.7C1424.7 262.3 1424.8 261.8 1424.9 261.3C1425.0 260.8 1425.2 260.2 1425.3 259.6C1425.5 259.0 1425.6 258.4 1425.8 257.7C1426.0 257.1 1426.2 256.4 1426.4 255.7C1426.7 255.0 1427.0 253.9 1427.2 253.6" stroke="#707070" stroke-width="8.5" stroke-linecap="butt"/>
<path d="M1443.2 252.1C1443.3 252.5 1443.6 253.6 1443.8 254.3C1444.0 255.0 1444.2 255.8 1444.4 256.5C1444.6 257.2 1444.7 257.9 1444.9 258.5C1445.0 259.2 1445.1 259.9 1445.3 260.5C1445.4 261.0 1445.5 261.6 1445.6 262.1C1445.6 262.6 1445.7 263.1 1445.8 263.5C1445.9 263.9 1445.9 264.2 1446.0 264.5C1446.0 264.8 1446.1 265.0 1446.1 265.1C1446.2 265.2 1446.2 265.3 1446.3 265.3C1446.3 265.3 1446.4 265.2 1446.5 265.1C1446.5 264.9 1446.6 264.7 1446.7 264.4C1446.7 264.2 1446.8 263.8 1446.9 263.4C1447.0 263.0 1447.1 262.6 1447.3 262.1C1447.4 261.5 1447.5 261.0 1447.7 260.4C1447.8 259.8 1448.0 259.2 1448.2 258.5C1448.4 257.8 1448.6 257.1 1448.8 256.4C1449.0 255.8 1449.4 254.7 1449.5 254.3" stroke="#707070" stroke-width="8.5" stroke-linecap="butt"/>
<path d="M1465.5 252.9C1465.6 253.2 1466.0 254.3 1466.2 255.1C1466.4 255.8 1466.6 256.5 1466.8 257.2C1467.0 257.9 1467.1 258.6 1467.3 259.3C1467.4 260.0 1467.5 260.6 1467.6 261.2C1467.7 261.8 1467.8 262.4 1467.9 262.9C1468.0 263.4 1468.1 263.8 1468.2 264.2C1468.2 264.6 1468.3 265.0 1468.4 265.2C1468.4 265.5 1468.5 265.7 1468.5 265.9C1468.6 266.0 1468.6 266.1 1468.7 266.1C1468.7 266.1 1468.8 266.0 1468.8 265.8C1468.9 265.7 1469.0 265.5 1469.0 265.2C1469.1 264.9 1469.2 264.6 1469.3 264.2C1469.4 263.8 1469.5 263.3 1469.6 262.8C1469.8 262.3 1469.9 261.7 1470.1 261.1C1470.2 260.5 1470.4 259.9 1470.6 259.2C1470.8 258.6 1471.0 257.9 1471.2 257.2C1471.4 256.5 1471.8 255.4 1471.9 255.1" stroke="#707070" stroke-width="8.5" stroke-linecap="butt"/>
<path d="M1487.9 253.6C1488.0 254.0 1488.4 255.1 1488.6 255.8C1488.8 256.5 1489.0 257.3 1489.2 258.0C1489.3 258.7 1489.5 259.4 1489.6 260.0C1489.8 260.7 1489.9 261.4 1490.0 262.0C1490.1 262.5 1490.2 263.1 1490.3 263.6C1490.4 264.1 1490.5 264.6 1490.5 265.0C1490.6 265.4 1490.7 265.7 1490.7 266.0C1490.8 266.3 1490.8 266.5 1490.9 266.6C1490.9 266.7 1491.0 266.8 1491.0 266.8C1491.1 266.8 1491.2 266.7 1491.2 266.6C1491.3 266.4 1491.3 266.2 1491.4 265.9C1491.5 265.7 1491.6 265.3 1491.7 264.9C1491.8 264.5 1491.9 264.1 1492.0 263.6C1492.1 263.0 1492.3 262.5 1492.4 261.9C1492.6 261.3 1492.8 260.7 1492.9 260.0C1493.1 259.3 1493.3 258.6 1493.6 257.9C1493.8 257.3 1494.2 256.2 1494.3 255.8" stroke="#707070" stroke-width="8.5" stroke-linecap="butt"/>
<path d="M1314.6 251.9C1314.7 251.6 1315.0 250.5 1315.3 249.8C1315.5 249.1 1315.8 248.4 1316.1 247.7C1316.4 247.0 1316.7 246.3 1317.0 245.7C1317.4 245.0 1317.7 244.4 1318.1 243.8C1318.4 243.2 1318.8 242.7 1319.2 242.2C1319.5 241.7 1319.9 241.3 1320.3 240.9C1320.7 240.5 1321.1 240.2 1321.5 239.9C1321.9 239.7 1322.4 239.5 1322.8 239.3C1323.2 239.2 1323.6 239.2 1324.0 239.2C1324.4 239.2 1324.8 239.3 1325.2 239.5C1325.6 239.6 1326.0 239.9 1326.4 240.1C1326.8 240.4 1327.2 240.8 1327.6 241.2C1327.9 241.6 1328.3 242.1 1328.6 242.6C1329.0 243.2 1329.3 243.7 1329.6 244.3C1329.9 245.0 1330.2 245.6 1330.5 246.3C1330.8 247.0 1331.0 247.7 1331.3 248.4C1331.5 249.1 1331.8 250.2 1332.0 250.6" stroke="#c4281b" stroke-width="8.5" stroke-linecap="butt"/>
<path d="M1336.9 252.7C1337.1 252.3 1337.4 251.3 1337.7 250.6C1337.9 249.9 1338.2 249.1 1338.5 248.5C1338.8 247.8 1339.1 247.1 1339.4 246.4C1339.7 245.8 1340.1 245.1 1340.4 244.6C1340.8 244.0 1341.2 243.4 1341.5 242.9C1341.9 242.5 1342.3 242.0 1342.7 241.6C1343.1 241.2 1343.5 240.9 1343.9 240.7C1344.3 240.4 1344.7 240.2 1345.1 240.1C1345.6 240.0 1346.0 239.9 1346.4 239.9C1346.8 240.0 1347.2 240.1 1347.6 240.2C1348.0 240.4 1348.4 240.6 1348.8 240.9C1349.2 241.2 1349.6 241.6 1349.9 242.0C1350.3 242.4 1350.7 242.9 1351.0 243.4C1351.4 243.9 1351.7 244.5 1352.0 245.1C1352.3 245.7 1352.6 246.4 1352.9 247.0C1353.2 247.7 1353.4 248.4 1353.7 249.1C1353.9 249.8 1354.2 250.9 1354.3 251.3" stroke="#c4281b" stroke-width="8.5" stroke-linecap="butt"/>
<path d="M1359.3 253.4C1359.4 253.1 1359.8 252.0 1360.0 251.3C1360.3 250.6 1360.6 249.9 1360.9 249.2C1361.2 248.5 1361.5 247.8 1361.8 247.2C1362.1 246.5 1362.5 245.9 1362.8 245.3C1363.2 244.7 1363.5 244.2 1363.9 243.7C1364.3 243.2 1364.7 242.8 1365.1 242.4C1365.5 242.0 1365.9 241.7 1366.3 241.4C1366.7 241.2 1367.1 241.0 1367.5 240.8C1367.9 240.7 1368.4 240.7 1368.8 240.7C1369.2 240.7 1369.6 240.8 1370.0 241.0C1370.4 241.1 1370.8 241.4 1371.2 241.6C1371.6 241.9 1372.0 242.3 1372.3 242.7C1372.7 243.1 1373.0 243.6 1373.4 244.1C1373.7 244.7 1374.1 245.2 1374.4 245.8C1374.7 246.5 1375.0 247.1 1375.3 247.8C1375.5 248.5 1375.8 249.2 1376.0 249.9C1376.3 250.6 1376.6 251.7 1376.7 252.1" stroke="#c4281b" stroke-width="8.5" stroke-linecap="butt"/>
<path d="M1381.7 254.2C1381.8 253.8 1382.1 252.8 1382.4 252.1C1382.7 251.4 1382.9 250.6 1383.2 250.0C1383.5 249.3 1383.8 248.6 1384.2 247.9C1384.5 247.3 1384.8 246.6 1385.2 246.1C1385.5 245.5 1385.9 244.9 1386.3 244.4C1386.7 244.0 1387.1 243.5 1387.4 243.1C1387.8 242.7 1388.3 242.4 1388.7 242.2C1389.1 241.9 1389.5 241.7 1389.9 241.6C1390.3 241.5 1390.7 241.4 1391.1 241.4C1391.5 241.5 1392.0 241.6 1392.4 241.7C1392.8 241.9 1393.2 242.1 1393.6 242.4C1393.9 242.7 1394.3 243.1 1394.7 243.5C1395.1 243.9 1395.4 244.4 1395.8 244.9C1396.1 245.4 1396.4 246.0 1396.7 246.6C1397.1 247.2 1397.3 247.9 1397.6 248.5C1397.9 249.2 1398.2 249.9 1398.4 250.6C1398.7 251.3 1399.0 252.4 1399.1 252.8" stroke="#c4281b" stroke-width="8.5" stroke-linecap="butt"/>
<path d="M1404.1 254.9C1404.2 254.6 1404.5 253.5 1404.8 252.8C1405.0 252.1 1405.3 251.4 1405.6 250.7C1405.9 250.0 1406.2 249.3 1406.5 248.7C1406.9 248.0 1407.2 247.4 1407.6 246.8C1407.9 246.2 1408.3 245.7 1408.7 245.2C1409.0 244.7 1409.4 244.3 1409.8 243.9C1410.2 243.5 1410.6 243.2 1411.0 242.9C1411.4 242.7 1411.9 242.5 1412.3 242.3C1412.7 242.2 1413.1 242.2 1413.5 242.2C1413.9 242.2 1414.3 242.3 1414.7 242.5C1415.1 242.6 1415.5 242.9 1415.9 243.1C1416.3 243.4 1416.7 243.8 1417.1 244.2C1417.4 244.6 1417.8 245.1 1418.1 245.6C1418.5 246.2 1418.8 246.7 1419.1 247.3C1419.4 248.0 1419.7 248.6 1420.0 249.3C1420.3 250.0 1420.5 250.7 1420.8 251.4C1421.0 252.1 1421.3 253.2 1421.5 253.6" stroke="#c4281b" stroke-width="8.5" stroke-linecap="butt"/>
<path d="M1426.4 255.7C1426.6 255.3 1426.9 254.3 1427.2 253.6C1427.4 252.9 1427.7 252.1 1428.0 251.5C1428.3 250.8 1428.6 250.1 1428.9 249.4C1429.2 248.8 1429.6 248.1 1429.9 247.6C1430.3 247.0 1430.7 246.4 1431.0 245.9C1431.4 245.5 1431.8 245.0 1432.2 244.6C1432.6 244.2 1433.0 243.9 1433.4 243.7C1433.8 243.4 1434.2 243.2 1434.6 243.1C1435.1 243.0 1435.5 242.9 1435.9 242.9C1436.3 243.0 1436.7 243.1 1437.1 243.2C1437.5 243.4 1437.9 243.6 1438.3 243.9C1438.7 244.2 1439.1 244.6 1439.4 245.0C1439.8 245.4 1440.2 245.9 1440.5 246.4C1440.9 246.9 1441.2 247.5 1441.5 248.1C1441.8 248.7 1442.1 249.4 1442.4 250.0C1442.7 250.7 1442.9 251.4 1443.2 252.1C1443.4 252.8 1443.7 253.9 1443.8 254.3" stroke="#c4281b" stroke-width="8.5" stroke-linecap="butt"/>
<path d="M1448.8 256.4C1448.9 256.1 1449.3 255.0 1449.5 254.3C1449.8 253.6 1450.1 252.9 1450.4 252.2C1450.7 251.5 1451.0 250.8 1451.3 250.2C1451.6 249.5 1452.0 248.9 1452.3 248.3C1452.7 247.7 1453.0 247.2 1453.4 246.7C1453.8 246.2 1454.2 245.8 1454.6 245.4C1455.0 245.0 1455.4 244.7 1455.8 244.4C1456.2 244.2 1456.6 244.0 1457.0 243.8C1457.4 243.7 1457.9 243.7 1458.3 243.7C1458.7 243.7 1459.1 243.8 1459.5 244.0C1459.9 244.1 1460.3 244.4 1460.7 244.6C1461.1 244.9 1461.5 245.3 1461.8 245.7C1462.2 246.1 1462.5 246.6 1462.9 247.1C1463.2 247.7 1463.6 248.2 1463.9 248.8C1464.2 249.5 1464.5 250.1 1464.8 250.8C1465.0 251.5 1465.3 252.2 1465.5 252.9C1465.8 253.6 1466.1 254.7 1466.2 255.1" stroke="#c4281b" stroke-width="8.5" stroke-linecap="butt"/>
<path d="M1471.2 257.2C1471.3 256.8 1471.6 255.8 1471.9 255.1C1472.2 254.4 1472.4 253.6 1472.7 253.0C1473.0 252.3 1473.3 251.6 1473.7 250.9C1474.0 250.3 1474.3 249.6 1474.7 249.1C1475.0 248.5 1475.4 247.9 1475.8 247.4C1476.2 247.0 1476.6 246.5 1476.9 246.1C1477.3 245.7 1477.8 245.4 1478.2 245.2C1478.6 244.9 1479.0 244.7 1479.4 244.6C1479.8 244.5 1480.2 244.4 1480.6 244.4C1481.0 244.5 1481.5 244.6 1481.9 244.7C1482.3 244.9 1482.7 245.1 1483.1 245.4C1483.4 245.7 1483.8 246.1 1484.2 246.5C1484.6 246.9 1484.9 247.4 1485.3 247.9C1485.6 248.4 1485.9 249.0 1486.2 249.6C1486.6 250.2 1486.8 250.9 1487.1 251.5C1487.4 252.2 1487.7 252.9 1487.9 253.6C1488.2 254.3 1488.5 255.4 1488.6 255.8" stroke="#c4281b" stroke-width="8.5" stroke-linecap="butt"/>
<path d="M1351.4 237.4C1352.1 236.0 1353.6 231.0 1355.7 228.9C1357.9 226.7 1361.9 224.8 1364.3 224.6C1366.7 224.3 1368.6 226.0 1370.0 227.4C1371.4 228.9 1372.4 232.2 1372.9 233.1" stroke="#c4281b" stroke-width="6.0" stroke-linecap="round"/>
<path d="M1372.9 234.6C1374.5 234.3 1379.8 234.1 1382.9 233.1C1386.0 232.2 1389.7 229.8 1391.4 228.9C1393.1 227.9 1392.8 227.6 1393.1 227.3" stroke="#c4281b" stroke-width="5" stroke-linecap="butt"/>
<path d="M1395.4 232.0L1397.9 222.9L1388.6 224.7Z" fill="#c4281b" stroke="none"/>
<path d="M1504.3 254.6C1505.7 254.5 1510.2 253.1 1512.9 253.9C1515.5 254.6 1518.6 256.6 1520.0 258.9C1521.4 261.1 1521.9 264.6 1521.4 267.4C1521.0 270.3 1519.3 273.9 1517.1 276.0C1515.0 278.1 1511.2 279.7 1508.6 280.3C1506.0 280.9 1502.6 279.7 1501.4 279.6" stroke="#707070" stroke-width="7.0" stroke-linecap="round"/>
<path d="M1497.1 264.6C1498.1 264.3 1500.7 263.1 1502.9 263.1C1505.0 263.1 1508.3 263.4 1510.0 264.6C1511.7 265.8 1513.3 268.6 1512.9 270.3C1512.4 272.0 1509.3 274.1 1507.1 274.6C1505.0 275.0 1501.8 274.1 1500.0 273.1C1498.2 272.2 1496.9 270.3 1496.4 268.9C1496.0 267.4 1497.0 265.3 1497.1 264.6" stroke="#c4281b" stroke-width="5.0" stroke-linecap="round"/>
<path d="M1502.9 256.0C1504.0 256.7 1507.9 258.9 1510.0 260.3C1512.1 261.7 1514.8 263.9 1515.7 264.6" stroke="#8e1c12" stroke-width="4.0" stroke-linecap="round"/>
<path d="M1484.3 257.1C1485.5 257.4 1489.0 258.0 1491.4 258.6C1493.8 259.2 1497.4 260.4 1498.6 260.7" stroke="#707070" stroke-width="6.0" stroke-linecap="round"/>
<path d="M1497.1 285.7C1498.6 286.2 1503.3 289.0 1505.7 288.6C1508.1 288.1 1510.5 285.2 1511.4 282.9C1512.4 280.5 1511.4 275.7 1511.4 274.3" stroke="#8e1c12" stroke-width="2" stroke-linecap="round"/>
<path d="M1334.3 268.9C1334.8 270.8 1336.0 276.2 1337.1 280.3C1338.3 284.3 1340.5 289.3 1341.4 293.1C1342.4 297.0 1342.6 301.5 1342.9 303.1" stroke="#8e1c12" stroke-width="7.0" stroke-linecap="round"/>
<path d="M1335.0 242.9C1334.8 246.4 1333.5 257.1 1333.6 264.3C1333.7 271.4 1334.4 279.8 1335.7 285.7C1337.0 291.7 1339.5 295.7 1341.4 300.0C1343.3 304.3 1347.1 307.1 1347.1 311.4C1347.1 315.7 1342.6 321.7 1341.4 325.7C1340.2 329.8 1339.8 332.9 1340.0 335.7C1340.2 338.6 1342.4 341.7 1342.9 342.9" stroke="#8e1c12" stroke-width="2.2" stroke-linecap="round"/>
<path d="M1337.1 263.1C1338.1 266.0 1341.0 274.6 1342.9 280.3C1344.8 286.0 1346.7 292.2 1348.6 297.4C1350.5 302.7 1353.1 307.4 1354.3 311.7C1355.5 316.0 1355.5 321.2 1355.7 323.1" stroke="#505050" stroke-width="9.0" stroke-linecap="round"/>
<path d="M1355.7 322.9C1356.2 324.5 1357.4 330.2 1358.6 332.9C1359.8 335.5 1363.1 337.5 1362.9 338.6C1362.6 339.6 1358.3 340.5 1357.1 339.3C1356.0 338.1 1356.0 332.7 1355.7 331.4" stroke="#505050" stroke-width="2.5" stroke-linecap="round"/>
<path d="M1320.0 308.9C1322.4 308.6 1330.0 307.9 1334.3 307.4C1338.6 307.0 1343.8 306.2 1345.7 306.0" stroke="#707070" stroke-width="8.0" stroke-linecap="round"/>
<path d="M1320.0 303.1L1331.4 302.4" stroke="#8e1c12" stroke-width="6.0" stroke-linecap="round"/>
<path d="M1320.0 324.6C1322.4 324.8 1329.0 325.4 1334.3 326.0C1339.5 326.6 1348.6 327.8 1351.4 328.1" stroke="#707070" stroke-width="7.0" stroke-linecap="round"/>
<path d="M1322.9 324.0L1335.7 326.0" stroke="#a87a75" stroke-width="7.0" stroke-linecap="round"/>
<path d="M1320.0 285.7C1321.4 285.5 1326.2 285.2 1328.6 284.3C1331.0 283.3 1333.3 280.7 1334.3 280.0" stroke="#707070" stroke-width="2.2" stroke-linecap="round"/>
<path d="M1345.7 277.1C1347.1 277.1 1351.9 276.2 1354.3 277.1C1356.7 278.1 1359.3 280.7 1360.0 282.9C1360.7 285.0 1358.8 288.8 1358.6 290.0" stroke="#b5b5b5" stroke-width="2" stroke-linecap="round"/>
<path d="M1320.0 265.7C1321.4 267.1 1325.7 271.2 1328.6 274.3C1331.4 277.4 1333.8 281.4 1337.1 284.3C1340.5 287.1 1344.3 289.0 1348.6 291.4C1352.9 293.8 1360.5 297.4 1362.9 298.6" stroke="#8e1c12" stroke-width="2" stroke-linecap="round"/>
<path d="M1360.0 306.0C1361.2 307.9 1364.3 315.0 1367.1 317.4C1370.0 319.8 1373.6 319.3 1377.1 320.3C1380.7 321.2 1386.7 322.7 1388.6 323.1" stroke="#8e1c12" stroke-width="2.2" stroke-linecap="round"/>
<path d="M1357.1 300.0C1359.0 302.4 1364.8 311.9 1368.6 314.3C1372.4 316.7 1378.1 314.3 1380.0 314.3" stroke="#707070" stroke-width="2.2" stroke-linecap="round"/>
<path d="M1438.6 274.6C1441.4 274.4 1449.3 273.4 1455.7 273.4C1462.1 273.4 1471.2 272.7 1477.1 274.6C1483.1 276.4 1487.4 282.7 1491.4 284.6C1495.5 286.5 1499.8 285.8 1501.4 286.0" stroke="#707070" stroke-width="6.5" stroke-linecap="round"/>
<path d="M1362.9 298.9C1366.4 297.9 1377.1 294.7 1384.3 293.1C1391.4 291.6 1397.4 290.4 1405.7 289.6C1414.0 288.7 1424.8 287.8 1434.3 288.1C1443.8 288.5 1454.5 290.4 1462.9 291.7C1471.2 293.0 1478.6 294.8 1484.3 296.0C1490.0 297.2 1495.0 298.4 1497.1 298.9" stroke="#707070" stroke-width="7.0" stroke-linecap="round"/>
<path d="M1348.6 280.0C1351.7 281.5 1361.2 287.9 1367.1 288.9C1373.1 289.9 1377.9 287.4 1384.3 286.0C1390.7 284.6 1397.4 281.7 1405.7 280.3C1414.0 278.9 1426.0 277.8 1434.3 277.4C1442.6 277.1 1448.6 277.7 1455.7 278.1C1462.9 278.6 1471.2 279.0 1477.1 280.3C1483.1 281.6 1489.0 285.0 1491.4 286.0" stroke="#8e1c12" stroke-width="9.0" stroke-linecap="round"/>
<path d="M1412.9 293.1C1416.4 294.3 1427.1 297.9 1434.3 300.3C1441.4 302.7 1449.5 305.0 1455.7 307.4C1461.9 309.8 1468.8 313.4 1471.4 314.6" stroke="#505050" stroke-width="5.0" stroke-linecap="round"/>
<path d="M1417.1 291.7C1421.2 292.2 1433.8 293.4 1441.4 294.6C1449.0 295.8 1455.7 297.4 1462.9 298.9C1470.0 300.3 1478.8 301.8 1484.3 303.1C1489.8 304.5 1493.8 306.1 1495.7 306.7" stroke="#c4281b" stroke-width="8.0" stroke-linecap="round"/>
<path d="M1380.0 313.1C1381.4 312.4 1385.7 310.5 1388.6 308.9C1391.4 307.2 1395.7 304.1 1397.1 303.1" stroke="#707070" stroke-width="9.0" stroke-linecap="round"/>
<path d="M1484.3 317.4L1492.9 320.3" stroke="#505050" stroke-width="8.0" stroke-linecap="round"/>
<path d="M1458.6 323.1L1474.3 327.4" stroke="#9a9a9a" stroke-width="3" stroke-linecap="butt"/>
<path d="M1384.3 294.6C1387.9 295.5 1398.6 298.6 1405.7 300.3C1412.9 302.0 1420.0 302.7 1427.1 304.6C1434.3 306.5 1441.4 309.3 1448.6 311.7C1455.7 314.1 1464.0 317.0 1470.0 318.9C1476.0 320.8 1481.4 322.2 1484.3 323.1C1487.1 324.1 1486.6 324.3 1487.1 324.5" stroke="#8e1c12" stroke-width="9" stroke-linecap="butt"/>
<path d="M1482.8 329.7L1496.4 329.3L1488.7 318.1Z" fill="#8e1c12" stroke="none"/>
<path d="M1494.3 291.4C1494.4 294.3 1495.0 303.6 1495.0 308.6C1495.0 313.6 1494.4 318.1 1494.6 321.4C1494.7 324.8 1495.8 327.4 1496.0 328.6" stroke="#8e1c12" stroke-width="2" stroke-linecap="round"/>
</g>

<text x="947.30" y="457.30" font-size="50.8" text-anchor="middle">Identifying capsid proteins based on structure</text>
<rect x="0.00" y="477.50" width="1895.30" height="7.00" fill="#000"/>
<text x="167.00" y="556.00" font-size="76.2" font-weight="bold">c</text>
<text x="1046.00" y="555.80" font-size="76.2" font-weight="bold">d</text>
<text x="594.50" y="556.00" font-size="44.45" text-anchor="middle">IMG/VR v4</text>
<g clip-path="url(#clipc)">
<clipPath id="clipc"><rect x="166.5" y="570.4" width="856.0" height="359.0"/></clipPath>
<rect x="175.61" y="719.70" width="59.60" height="211.40" fill="#1f77b4" fill-opacity="0.7" stroke="#1f77b4" stroke-width="3.4"/>
<rect x="253.43" y="727.45" width="59.60" height="203.65" fill="#aec7e8" fill-opacity="0.7" stroke="#aec7e8" stroke-width="3.4"/>
<rect x="331.25" y="588.70" width="59.60" height="342.40" fill="#d62728" fill-opacity="0.7" stroke="#d62728" stroke-width="3.4"/>
<rect x="409.06" y="697.70" width="59.60" height="233.40" fill="#ff9896" fill-opacity="0.7" stroke="#ff9896" stroke-width="3.4"/>
<rect x="486.88" y="590.95" width="59.60" height="340.15" fill="#9467bd" fill-opacity="0.7" stroke="#9467bd" stroke-width="3.4"/>
<rect x="564.70" y="614.70" width="59.60" height="316.40" fill="#c5b0d5" fill-opacity="0.7" stroke="#c5b0d5" stroke-width="3.4"/>
<rect x="642.52" y="701.70" width="59.60" height="229.40" fill="#8c564b" fill-opacity="0.7" stroke="#8c564b" stroke-width="3.4"/>
<rect x="720.34" y="693.70" width="59.60" height="237.40" fill="#c49c94" fill-opacity="0.7" stroke="#c49c94" stroke-width="3.4"/>
<rect x="798.15" y="695.70" width="59.60" height="235.40" fill="#e377c2" fill-opacity="0.7" stroke="#e377c2" stroke-width="3.4"/>
<rect x="875.97" y="702.70" width="59.60" height="228.40" fill="#f7b6d2" fill-opacity="0.7" stroke="#f7b6d2" stroke-width="3.4"/>
<rect x="953.79" y="613.70" width="59.60" height="317.40" fill="#c7c7c7" fill-opacity="0.7" stroke="#c7c7c7" stroke-width="3.4"/>
<line x1="166.5" x2="1022.5" y1="587.75" y2="587.75" stroke="#000" stroke-width="3.5" stroke-dasharray="12.75 5.39" stroke-dashoffset="0"/>
</g>
<rect x="166.5" y="570.4" width="856.0" height="359.0" fill="none" stroke="#262626" stroke-width="4.3"/>
<text x="215.91" y="953.00" font-size="38.1" text-anchor="end" transform="rotate(-90 215.91 953.00)">ESM__small</text>
<text x="293.73" y="953.00" font-size="38.1" text-anchor="end" transform="rotate(-90 293.73 953.00)">ESM__large</text>
<text x="371.55" y="953.00" font-size="38.1" text-anchor="end" transform="rotate(-90 371.55 953.00)">PST-TL-T__small</text>
<text x="449.36" y="953.00" font-size="38.1" text-anchor="end" transform="rotate(-90 449.36 953.00)">PST-TL-T__large</text>
<text x="527.18" y="953.00" font-size="38.1" text-anchor="end" transform="rotate(-90 527.18 953.00)">PST-TL-P__small</text>
<text x="605.00" y="953.00" font-size="38.1" text-anchor="end" transform="rotate(-90 605.00 953.00)">PST-TL-P__large</text>
<text x="682.82" y="953.00" font-size="38.1" text-anchor="end" transform="rotate(-90 682.82 953.00)">PST-MLM-T__small</text>
<text x="760.64" y="953.00" font-size="38.1" text-anchor="end" transform="rotate(-90 760.64 953.00)">PST-MLM-T__large</text>
<text x="838.45" y="953.00" font-size="38.1" text-anchor="end" transform="rotate(-90 838.45 953.00)">PST-MLM-P__small</text>
<text x="916.27" y="953.00" font-size="38.1" text-anchor="end" transform="rotate(-90 916.27 953.00)">PST-MLM-P__large</text>
<text x="994.09" y="953.00" font-size="38.1" text-anchor="end" fill="#999999" transform="rotate(-90 994.09 953.00)">genslm</text>
<text x="1475.35" y="556.00" font-size="44.45" text-anchor="middle">MGnify</text>
<g clip-path="url(#clipd)">
<clipPath id="clipd"><rect x="1047.4" y="570.4" width="855.8999999999999" height="359.0"/></clipPath>
<rect x="1056.50" y="698.70" width="59.60" height="232.40" fill="#1f77b4" fill-opacity="0.7" stroke="#1f77b4" stroke-width="3.4"/>
<rect x="1134.31" y="700.70" width="59.60" height="230.40" fill="#aec7e8" fill-opacity="0.7" stroke="#aec7e8" stroke-width="3.4"/>
<rect x="1212.12" y="644.70" width="59.60" height="286.40" fill="#d62728" fill-opacity="0.7" stroke="#d62728" stroke-width="3.4"/>
<rect x="1289.93" y="723.70" width="59.60" height="207.40" fill="#ff9896" fill-opacity="0.7" stroke="#ff9896" stroke-width="3.4"/>
<rect x="1367.74" y="631.70" width="59.60" height="299.40" fill="#9467bd" fill-opacity="0.7" stroke="#9467bd" stroke-width="3.4"/>
<rect x="1445.55" y="630.70" width="59.60" height="300.40" fill="#c5b0d5" fill-opacity="0.7" stroke="#c5b0d5" stroke-width="3.4"/>
<rect x="1523.36" y="725.70" width="59.60" height="205.40" fill="#8c564b" fill-opacity="0.7" stroke="#8c564b" stroke-width="3.4"/>
<rect x="1601.17" y="743.70" width="59.60" height="187.40" fill="#c49c94" fill-opacity="0.7" stroke="#c49c94" stroke-width="3.4"/>
<rect x="1678.98" y="706.70" width="59.60" height="224.40" fill="#e377c2" fill-opacity="0.7" stroke="#e377c2" stroke-width="3.4"/>
<rect x="1756.79" y="743.70" width="59.60" height="187.40" fill="#f7b6d2" fill-opacity="0.7" stroke="#f7b6d2" stroke-width="3.4"/>
<rect x="1834.60" y="615.70" width="59.60" height="315.40" fill="#c7c7c7" fill-opacity="0.7" stroke="#c7c7c7" stroke-width="3.4"/>
<line x1="1047.4" x2="1903.3" y1="614.75" y2="614.75" stroke="#000" stroke-width="3.5" stroke-dasharray="12.75 5.39" stroke-dashoffset="0"/>
</g>
<rect x="1047.4" y="570.4" width="855.8999999999999" height="359.0" fill="none" stroke="#262626" stroke-width="4.3"/>
<text x="1096.80" y="953.00" font-size="38.1" text-anchor="end" transform="rotate(-90 1096.80 953.00)">ESM__small</text>
<text x="1174.61" y="953.00" font-size="38.1" text-anchor="end" transform="rotate(-90 1174.61 953.00)">ESM__large</text>
<text x="1252.42" y="953.00" font-size="38.1" text-anchor="end" transform="rotate(-90 1252.42 953.00)">PST-TL-T__small</text>
<text x="1330.23" y="953.00" font-size="38.1" text-anchor="end" transform="rotate(-90 1330.23 953.00)">PST-TL-T__large</text>
<text x="1408.04" y="953.00" font-size="38.1" text-anchor="end" transform="rotate(-90 1408.04 953.00)">PST-TL-P__small</text>
<text x="1485.85" y="953.00" font-size="38.1" text-anchor="end" transform="rotate(-90 1485.85 953.00)">PST-TL-P__large</text>
<text x="1563.66" y="953.00" font-size="38.1" text-anchor="end" transform="rotate(-90 1563.66 953.00)">PST-MLM-T__small</text>
<text x="1641.47" y="953.00" font-size="38.1" text-anchor="end" transform="rotate(-90 1641.47 953.00)">PST-MLM-T__large</text>
<text x="1719.28" y="953.00" font-size="38.1" text-anchor="end" transform="rotate(-90 1719.28 953.00)">PST-MLM-P__small</text>
<text x="1797.09" y="953.00" font-size="38.1" text-anchor="end" transform="rotate(-90 1797.09 953.00)">PST-MLM-P__large</text>
<text x="1874.90" y="953.00" font-size="38.1" text-anchor="end" fill="#999999" transform="rotate(-90 1874.90 953.00)">genslm</text>
<text x="138.50" y="943.00" font-size="38.1" text-anchor="end">0.00</text>
<text x="138.50" y="859.25" font-size="38.1" text-anchor="end">0.05</text>
<text x="138.50" y="775.50" font-size="38.1" text-anchor="end">0.10</text>
<text x="138.50" y="691.75" font-size="38.1" text-anchor="end">0.15</text>
<text x="138.50" y="608.00" font-size="38.1" text-anchor="end">0.20</text>
<text x="37.50" y="749.90" font-size="50.8" text-anchor="middle" transform="rotate(-90 37.50 749.90)">Proportion</text>
<rect x="343.00" y="1302.80" width="262.00" height="7.00" fill="#000"/>
<rect x="1227.50" y="1302.80" width="261.50" height="7.00" fill="#000"/>
<text x="474.00" y="1356.70" font-size="50.8" font-weight="bold" text-anchor="middle">Model</text>
<text x="1358.30" y="1356.70" font-size="50.8" font-weight="bold" text-anchor="middle">Model</text>
<text x="1035.00" y="1396.70" font-size="50.8" text-anchor="middle">Protein/ORF Embedding</text>
<text x="1613.20" y="1377.50" font-size="38.1">Embedding Type:</text>
<text x="1613.20" y="1408.20" font-size="38.1">Protein</text>
<text x="1613.20" y="1438.90" font-size="38.1" fill="#999999">Nucleotide</text>
<text x="910.00" y="1472.70" font-size="50.8" text-anchor="middle">Embedding-based Annotation Transfer</text>
<rect x="49.25" y="1498.50" width="1723.75" height="7.00" fill="#000"/>
<g clip-path="url(#clipe)">
<clipPath id="clipe"><rect x="190.25" y="1568.4" width="413.35" height="385.39999999999986"/></clipPath>
<line x1="190.25" x2="603.6" y1="1937.50" y2="1937.50" stroke="#e9e9e9" stroke-width="3.0" stroke-dasharray="5.4 5.42" stroke-dashoffset="1.1"/>
<line x1="190.25" x2="603.6" y1="1827.50" y2="1827.50" stroke="#e9e9e9" stroke-width="3.0" stroke-dasharray="5.4 5.42" stroke-dashoffset="1.1"/>
<line x1="190.25" x2="603.6" y1="1717.50" y2="1717.50" stroke="#e9e9e9" stroke-width="3.0" stroke-dasharray="5.4 5.42" stroke-dashoffset="1.1"/>
<line x1="190.25" x2="603.6" y1="1607.50" y2="1607.50" stroke="#e9e9e9" stroke-width="3.0" stroke-dasharray="5.4 5.42" stroke-dashoffset="1.1"/>
<line x1="284.20" x2="284.20" y1="1953.8" y2="1568.4" stroke="#e9e9e9" stroke-width="3.0" stroke-dasharray="5.4 5.42" stroke-dashoffset="1.1"/>
<line x1="434.40" x2="434.40" y1="1953.8" y2="1568.4" stroke="#e9e9e9" stroke-width="3.0" stroke-dasharray="5.4 5.42" stroke-dashoffset="1.1"/>
<line x1="584.60" x2="584.60" y1="1953.8" y2="1568.4" stroke="#e9e9e9" stroke-width="3.0" stroke-dasharray="5.4 5.42" stroke-dashoffset="1.1"/>
<g fill="#aec7e8"><circle cx="209.1" cy="1900.5" r="5.8"/><circle cx="284.2" cy="1794.1" r="5.8"/><circle cx="359.3" cy="1718.2" r="5.8"/><circle cx="434.4" cy="1664.2" r="5.8"/><circle cx="509.5" cy="1623.1" r="5.8"/><circle cx="584.6" cy="1593.0" r="5.8"/></g>
<g fill="#1f77b4"><circle cx="209.1" cy="1900.5" r="5.8"/><circle cx="284.2" cy="1794.7" r="5.8"/><circle cx="359.3" cy="1718.7" r="5.8"/><circle cx="434.4" cy="1664.8" r="5.8"/><circle cx="509.5" cy="1623.4" r="5.8"/><circle cx="584.6" cy="1593.5" r="5.8"/></g>
<g fill="#f7b6d2"><circle cx="209.1" cy="1900.5" r="5.8"/><circle cx="284.2" cy="1791.8" r="5.8"/><circle cx="359.3" cy="1713.2" r="5.8"/><circle cx="434.4" cy="1657.4" r="5.8"/><circle cx="509.5" cy="1615.5" r="5.8"/><circle cx="584.6" cy="1585.7" r="5.8"/></g>
<g fill="#e377c2"><circle cx="209.1" cy="1900.5" r="5.8"/><circle cx="284.2" cy="1793.9" r="5.8"/><circle cx="359.3" cy="1717.7" r="5.8"/><circle cx="434.4" cy="1663.5" r="5.8"/><circle cx="509.5" cy="1622.3" r="5.8"/><circle cx="584.6" cy="1592.7" r="5.8"/></g>
<g fill="#c49c94"><circle cx="209.1" cy="1900.5" r="5.8"/><circle cx="284.2" cy="1793.9" r="5.8"/><circle cx="359.3" cy="1717.9" r="5.8"/><circle cx="434.4" cy="1664.0" r="5.8"/><circle cx="509.5" cy="1622.3" r="5.8"/><circle cx="584.6" cy="1592.0" r="5.8"/></g>
<g fill="#8c564b"><circle cx="209.1" cy="1900.5" r="5.8"/><circle cx="284.2" cy="1794.4" r="5.8"/><circle cx="359.3" cy="1718.5" r="5.8"/><circle cx="434.4" cy="1664.2" r="5.8"/><circle cx="509.5" cy="1622.9" r="5.8"/><circle cx="584.6" cy="1592.7" r="5.8"/></g>
<g fill="#c5b0d5"><circle cx="209.1" cy="1900.5" r="5.8"/><circle cx="284.2" cy="1807.5" r="5.8"/><circle cx="359.3" cy="1741.2" r="5.8"/><circle cx="434.4" cy="1693.0" r="5.8"/><circle cx="509.5" cy="1657.7" r="5.8"/><circle cx="584.6" cy="1631.2" r="5.8"/></g>
<g fill="#9467bd"><circle cx="209.1" cy="1900.5" r="5.8"/><circle cx="284.2" cy="1824.0" r="5.8"/><circle cx="359.3" cy="1774.8" r="5.8"/><circle cx="434.4" cy="1740.7" r="5.8"/><circle cx="509.5" cy="1716.6" r="5.8"/><circle cx="584.6" cy="1699.3" r="5.8"/></g>
<g fill="#ff9896"><circle cx="209.1" cy="1900.5" r="5.8"/><circle cx="284.2" cy="1795.2" r="5.8"/><circle cx="359.3" cy="1720.3" r="5.8"/><circle cx="434.4" cy="1666.9" r="5.8"/><circle cx="509.5" cy="1625.5" r="5.8"/><circle cx="584.6" cy="1595.4" r="5.8"/></g>
<g fill="#d62728"><circle cx="209.1" cy="1900.5" r="5.8"/><circle cx="284.2" cy="1799.6" r="5.8"/><circle cx="359.3" cy="1730.8" r="5.8"/><circle cx="434.4" cy="1679.2" r="5.8"/><circle cx="509.5" cy="1641.5" r="5.8"/><circle cx="584.6" cy="1614.2" r="5.8"/></g>
<g fill="#c7c7c7"><circle cx="209.1" cy="1900.5" r="5.8"/><circle cx="284.2" cy="1843.4" r="5.8"/><circle cx="359.3" cy="1800.4" r="5.8"/><circle cx="434.4" cy="1769.0" r="5.8"/><circle cx="509.5" cy="1743.3" r="5.8"/><circle cx="584.6" cy="1723.7" r="5.8"/></g>
<polyline points="209.1,1900.5 284.2,1794.1 359.3,1718.2 434.4,1664.2 509.5,1623.1 584.6,1593.0" fill="none" stroke="#aec7e8" stroke-width="4.6" stroke-linejoin="round" stroke-linecap="round"/>
<polyline points="209.1,1900.5 284.2,1794.7 359.3,1718.7 434.4,1664.8 509.5,1623.4 584.6,1593.5" fill="none" stroke="#1f77b4" stroke-width="4.6" stroke-linejoin="round" stroke-linecap="round"/>
<polyline points="209.1,1900.5 284.2,1791.8 359.3,1713.2 434.4,1657.4 509.5,1615.5 584.6,1585.7" fill="none" stroke="#f7b6d2" stroke-width="4.6" stroke-linejoin="round" stroke-linecap="round"/>
<polyline points="209.1,1900.5 284.2,1793.9 359.3,1717.7 434.4,1663.5 509.5,1622.3 584.6,1592.7" fill="none" stroke="#e377c2" stroke-width="4.6" stroke-linejoin="round" stroke-linecap="round"/>
<polyline points="209.1,1900.5 284.2,1793.9 359.3,1717.9 434.4,1664.0 509.5,1622.3 584.6,1592.0" fill="none" stroke="#c49c94" stroke-width="4.6" stroke-linejoin="round" stroke-linecap="round"/>
<polyline points="209.1,1900.5 284.2,1794.4 359.3,1718.5 434.4,1664.2 509.5,1622.9 584.6,1592.7" fill="none" stroke="#8c564b" stroke-width="4.6" stroke-linejoin="round" stroke-linecap="round"/>
<polyline points="209.1,1900.5 284.2,1807.5 359.3,1741.2 434.4,1693.0 509.5,1657.7 584.6,1631.2" fill="none" stroke="#c5b0d5" stroke-width="4.6" stroke-linejoin="round" stroke-linecap="round"/>
<polyline points="209.1,1900.5 284.2,1824.0 359.3,1774.8 434.4,1740.7 509.5,1716.6 584.6,1699.3" fill="none" stroke="#9467bd" stroke-width="4.6" stroke-linejoin="round" stroke-linecap="round"/>
<polyline points="209.1,1900.5 284.2,1795.2 359.3,1720.3 434.4,1666.9 509.5,1625.5 584.6,1595.4" fill="none" stroke="#ff9896" stroke-width="4.6" stroke-linejoin="round" stroke-linecap="round"/>
<polyline points="209.1,1900.5 284.2,1799.6 359.3,1730.8 434.4,1679.2 509.5,1641.5 584.6,1614.2" fill="none" stroke="#d62728" stroke-width="4.6" stroke-linejoin="round" stroke-linecap="round"/>
<polyline points="209.1,1900.5 284.2,1843.4 359.3,1800.4 434.4,1769.0 509.5,1743.3 584.6,1723.7" fill="none" stroke="#c7c7c7" stroke-width="4.6" stroke-linejoin="round" stroke-linecap="round"/>
</g>
<rect x="190.25" y="1568.4" width="413.35" height="385.39999999999986" fill="none" stroke="#262626" stroke-width="4.3"/>
<text x="204.50" y="1631.00" font-size="76.2" font-weight="bold">e</text>
<text x="167.50" y="1949.50" font-size="38.1" text-anchor="end">0.2</text>
<text x="167.50" y="1839.50" font-size="38.1" text-anchor="end">0.4</text>
<text x="167.50" y="1729.50" font-size="38.1" text-anchor="end">0.6</text>
<text x="167.50" y="1619.50" font-size="38.1" text-anchor="end">0.8</text>
<g clip-path="url(#clipf)">
<clipPath id="clipf"><rect x="638.8" y="1568.4" width="413.0" height="385.39999999999986"/></clipPath>
<line x1="638.8" x2="1051.8" y1="1937.50" y2="1937.50" stroke="#e9e9e9" stroke-width="3.0" stroke-dasharray="5.4 5.42" stroke-dashoffset="1.1"/>
<line x1="638.8" x2="1051.8" y1="1827.50" y2="1827.50" stroke="#e9e9e9" stroke-width="3.0" stroke-dasharray="5.4 5.42" stroke-dashoffset="1.1"/>
<line x1="638.8" x2="1051.8" y1="1717.50" y2="1717.50" stroke="#e9e9e9" stroke-width="3.0" stroke-dasharray="5.4 5.42" stroke-dashoffset="1.1"/>
<line x1="638.8" x2="1051.8" y1="1607.50" y2="1607.50" stroke="#e9e9e9" stroke-width="3.0" stroke-dasharray="5.4 5.42" stroke-dashoffset="1.1"/>
<line x1="732.75" x2="732.75" y1="1953.8" y2="1568.4" stroke="#e9e9e9" stroke-width="3.0" stroke-dasharray="5.4 5.42" stroke-dashoffset="1.1"/>
<line x1="882.95" x2="882.95" y1="1953.8" y2="1568.4" stroke="#e9e9e9" stroke-width="3.0" stroke-dasharray="5.4 5.42" stroke-dashoffset="1.1"/>
<line x1="1033.15" x2="1033.15" y1="1953.8" y2="1568.4" stroke="#e9e9e9" stroke-width="3.0" stroke-dasharray="5.4 5.42" stroke-dashoffset="1.1"/>
<g fill="#aec7e8"><circle cx="657.6" cy="1900.5" r="5.8"/><circle cx="732.8" cy="1825.0" r="5.8"/><circle cx="807.8" cy="1795.2" r="5.8"/><circle cx="882.9" cy="1792.0" r="5.8"/><circle cx="958.0" cy="1802.5" r="5.8"/><circle cx="1033.2" cy="1819.8" r="5.8"/></g>
<g fill="#1f77b4"><circle cx="657.6" cy="1900.5" r="5.8"/><circle cx="732.8" cy="1826.6" r="5.8"/><circle cx="807.8" cy="1796.5" r="5.8"/><circle cx="882.9" cy="1793.6" r="5.8"/><circle cx="958.0" cy="1804.9" r="5.8"/><circle cx="1033.2" cy="1821.4" r="5.8"/></g>
<g fill="#f7b6d2"><circle cx="657.6" cy="1900.5" r="5.8"/><circle cx="732.8" cy="1822.7" r="5.8"/><circle cx="807.8" cy="1792.6" r="5.8"/><circle cx="882.9" cy="1790.5" r="5.8"/><circle cx="958.0" cy="1801.0" r="5.8"/><circle cx="1033.2" cy="1818.0" r="5.8"/></g>
<g fill="#e377c2"><circle cx="657.6" cy="1900.5" r="5.8"/><circle cx="732.8" cy="1825.0" r="5.8"/><circle cx="807.8" cy="1795.2" r="5.8"/><circle cx="882.9" cy="1792.0" r="5.8"/><circle cx="958.0" cy="1802.5" r="5.8"/><circle cx="1033.2" cy="1819.8" r="5.8"/></g>
<g fill="#c49c94"><circle cx="657.6" cy="1900.5" r="5.8"/><circle cx="732.8" cy="1825.0" r="5.8"/><circle cx="807.8" cy="1795.2" r="5.8"/><circle cx="882.9" cy="1792.0" r="5.8"/><circle cx="958.0" cy="1802.5" r="5.8"/><circle cx="1033.2" cy="1819.8" r="5.8"/></g>
<g fill="#8c564b"><circle cx="657.6" cy="1900.5" r="5.8"/><circle cx="732.8" cy="1825.6" r="5.8"/><circle cx="807.8" cy="1795.7" r="5.8"/><circle cx="882.9" cy="1792.6" r="5.8"/><circle cx="958.0" cy="1803.0" r="5.8"/><circle cx="1033.2" cy="1820.6" r="5.8"/></g>
<g fill="#c5b0d5"><circle cx="657.6" cy="1900.5" r="5.8"/><circle cx="732.8" cy="1837.6" r="5.8"/><circle cx="807.8" cy="1814.0" r="5.8"/><circle cx="882.9" cy="1812.0" r="5.8"/><circle cx="958.0" cy="1821.9" r="5.8"/><circle cx="1033.2" cy="1838.1" r="5.8"/></g>
<g fill="#9467bd"><circle cx="657.6" cy="1900.5" r="5.8"/><circle cx="732.8" cy="1854.6" r="5.8"/><circle cx="807.8" cy="1843.6" r="5.8"/><circle cx="882.9" cy="1852.0" r="5.8"/><circle cx="958.0" cy="1865.9" r="5.8"/><circle cx="1033.2" cy="1884.2" r="5.8"/></g>
<g fill="#ff9896"><circle cx="657.6" cy="1900.5" r="5.8"/><circle cx="732.8" cy="1825.8" r="5.8"/><circle cx="807.8" cy="1796.2" r="5.8"/><circle cx="882.9" cy="1792.6" r="5.8"/><circle cx="958.0" cy="1802.3" r="5.8"/><circle cx="1033.2" cy="1819.3" r="5.8"/></g>
<g fill="#d62728"><circle cx="657.6" cy="1900.5" r="5.8"/><circle cx="732.8" cy="1831.1" r="5.8"/><circle cx="807.8" cy="1806.2" r="5.8"/><circle cx="882.9" cy="1804.4" r="5.8"/><circle cx="958.0" cy="1815.4" r="5.8"/><circle cx="1033.2" cy="1835.0" r="5.8"/></g>
<g fill="#c7c7c7"><circle cx="657.6" cy="1900.5" r="5.8"/><circle cx="732.8" cy="1864.6" r="5.8"/><circle cx="807.8" cy="1850.7" r="5.8"/><circle cx="882.9" cy="1846.8" r="5.8"/><circle cx="958.0" cy="1848.1" r="5.8"/><circle cx="1033.2" cy="1851.5" r="5.8"/></g>
<polyline points="657.6,1900.5 732.8,1825.0 807.8,1795.2 882.9,1792.0 958.0,1802.5 1033.2,1819.8" fill="none" stroke="#aec7e8" stroke-width="4.6" stroke-linejoin="round" stroke-linecap="round"/>
<polyline points="657.6,1900.5 732.8,1826.6 807.8,1796.5 882.9,1793.6 958.0,1804.9 1033.2,1821.4" fill="none" stroke="#1f77b4" stroke-width="4.6" stroke-linejoin="round" stroke-linecap="round"/>
<polyline points="657.6,1900.5 732.8,1822.7 807.8,1792.6 882.9,1790.5 958.0,1801.0 1033.2,1818.0" fill="none" stroke="#f7b6d2" stroke-width="4.6" stroke-linejoin="round" stroke-linecap="round"/>
<polyline points="657.6,1900.5 732.8,1825.0 807.8,1795.2 882.9,1792.0 958.0,1802.5 1033.2,1819.8" fill="none" stroke="#e377c2" stroke-width="4.6" stroke-linejoin="round" stroke-linecap="round"/>
<polyline points="657.6,1900.5 732.8,1825.0 807.8,1795.2 882.9,1792.0 958.0,1802.5 1033.2,1819.8" fill="none" stroke="#c49c94" stroke-width="4.6" stroke-linejoin="round" stroke-linecap="round"/>
<polyline points="657.6,1900.5 732.8,1825.6 807.8,1795.7 882.9,1792.6 958.0,1803.0 1033.2,1820.6" fill="none" stroke="#8c564b" stroke-width="4.6" stroke-linejoin="round" stroke-linecap="round"/>
<polyline points="657.6,1900.5 732.8,1837.6 807.8,1814.0 882.9,1812.0 958.0,1821.9 1033.2,1838.1" fill="none" stroke="#c5b0d5" stroke-width="4.6" stroke-linejoin="round" stroke-linecap="round"/>
<polyline points="657.6,1900.5 732.8,1854.6 807.8,1843.6 882.9,1852.0 958.0,1865.9 1033.2,1884.2" fill="none" stroke="#9467bd" stroke-width="4.6" stroke-linejoin="round" stroke-linecap="round"/>
<polyline points="657.6,1900.5 732.8,1825.8 807.8,1796.2 882.9,1792.6 958.0,1802.3 1033.2,1819.3" fill="none" stroke="#ff9896" stroke-width="4.6" stroke-linejoin="round" stroke-linecap="round"/>
<polyline points="657.6,1900.5 732.8,1831.1 807.8,1806.2 882.9,1804.4 958.0,1815.4 1033.2,1835.0" fill="none" stroke="#d62728" stroke-width="4.6" stroke-linejoin="round" stroke-linecap="round"/>
<polyline points="657.6,1900.5 732.8,1864.6 807.8,1850.7 882.9,1846.8 958.0,1848.1 1033.2,1851.5" fill="none" stroke="#c7c7c7" stroke-width="4.6" stroke-linejoin="round" stroke-linecap="round"/>
</g>
<rect x="638.8" y="1568.4" width="413.0" height="385.39999999999986" fill="none" stroke="#262626" stroke-width="4.3"/>
<text x="657.80" y="1631.50" font-size="76.2" font-weight="bold">f</text>
<g clip-path="url(#clipg)">
<clipPath id="clipg"><rect x="190.25" y="1989.2" width="413.35" height="385.29999999999995"/></clipPath>
<line x1="190.25" x2="603.6" y1="2358.20" y2="2358.20" stroke="#e9e9e9" stroke-width="3.0" stroke-dasharray="5.4 5.42" stroke-dashoffset="1.1"/>
<line x1="190.25" x2="603.6" y1="2248.20" y2="2248.20" stroke="#e9e9e9" stroke-width="3.0" stroke-dasharray="5.4 5.42" stroke-dashoffset="1.1"/>
<line x1="190.25" x2="603.6" y1="2138.20" y2="2138.20" stroke="#e9e9e9" stroke-width="3.0" stroke-dasharray="5.4 5.42" stroke-dashoffset="1.1"/>
<line x1="190.25" x2="603.6" y1="2028.20" y2="2028.20" stroke="#e9e9e9" stroke-width="3.0" stroke-dasharray="5.4 5.42" stroke-dashoffset="1.1"/>
<line x1="284.20" x2="284.20" y1="2374.5" y2="1989.2" stroke="#e9e9e9" stroke-width="3.0" stroke-dasharray="5.4 5.42" stroke-dashoffset="1.1"/>
<line x1="434.40" x2="434.40" y1="2374.5" y2="1989.2" stroke="#e9e9e9" stroke-width="3.0" stroke-dasharray="5.4 5.42" stroke-dashoffset="1.1"/>
<line x1="584.60" x2="584.60" y1="2374.5" y2="1989.2" stroke="#e9e9e9" stroke-width="3.0" stroke-dasharray="5.4 5.42" stroke-dashoffset="1.1"/>
<g fill="#aec7e8"><circle cx="209.1" cy="2357.1" r="5.8"/><circle cx="284.2" cy="2269.9" r="5.8"/><circle cx="359.3" cy="2200.5" r="5.8"/><circle cx="434.4" cy="2144.2" r="5.8"/><circle cx="509.5" cy="2099.4" r="5.8"/><circle cx="584.6" cy="2064.3" r="5.8"/></g>
<g fill="#1f77b4"><circle cx="209.1" cy="2357.1" r="5.8"/><circle cx="284.2" cy="2269.9" r="5.8"/><circle cx="359.3" cy="2200.5" r="5.8"/><circle cx="434.4" cy="2144.2" r="5.8"/><circle cx="509.5" cy="2099.4" r="5.8"/><circle cx="584.6" cy="2064.3" r="5.8"/></g>
<g fill="#f7b6d2"><circle cx="209.1" cy="2357.1" r="5.8"/><circle cx="284.2" cy="2269.9" r="5.8"/><circle cx="359.3" cy="2200.5" r="5.8"/><circle cx="434.4" cy="2144.2" r="5.8"/><circle cx="509.5" cy="2099.4" r="5.8"/><circle cx="584.6" cy="2064.3" r="5.8"/></g>
<g fill="#e377c2"><circle cx="209.1" cy="2357.1" r="5.8"/><circle cx="284.2" cy="2269.9" r="5.8"/><circle cx="359.3" cy="2200.5" r="5.8"/><circle cx="434.4" cy="2144.2" r="5.8"/><circle cx="509.5" cy="2099.4" r="5.8"/><circle cx="584.6" cy="2064.3" r="5.8"/></g>
<g fill="#c49c94"><circle cx="209.1" cy="2357.1" r="5.8"/><circle cx="284.2" cy="2268.0" r="5.8"/><circle cx="359.3" cy="2197.9" r="5.8"/><circle cx="434.4" cy="2141.5" r="5.8"/><circle cx="509.5" cy="2096.8" r="5.8"/><circle cx="584.6" cy="2062.2" r="5.8"/></g>
<g fill="#8c564b"><circle cx="209.1" cy="2357.1" r="5.8"/><circle cx="284.2" cy="2271.2" r="5.8"/><circle cx="359.3" cy="2201.8" r="5.8"/><circle cx="434.4" cy="2146.0" r="5.8"/><circle cx="509.5" cy="2101.0" r="5.8"/><circle cx="584.6" cy="2066.4" r="5.8"/></g>
<g fill="#c5b0d5"><circle cx="209.1" cy="2357.1" r="5.8"/><circle cx="284.2" cy="2283.8" r="5.8"/><circle cx="359.3" cy="2231.6" r="5.8"/><circle cx="434.4" cy="2192.1" r="5.8"/><circle cx="509.5" cy="2162.8" r="5.8"/><circle cx="584.6" cy="2139.2" r="5.8"/></g>
<g fill="#9467bd"><circle cx="209.1" cy="2357.1" r="5.8"/><circle cx="284.2" cy="2308.6" r="5.8"/><circle cx="359.3" cy="2277.2" r="5.8"/><circle cx="434.4" cy="2254.7" r="5.8"/><circle cx="509.5" cy="2238.7" r="5.8"/><circle cx="584.6" cy="2226.7" r="5.8"/></g>
<g fill="#ff9896"><circle cx="209.1" cy="2357.1" r="5.8"/><circle cx="284.2" cy="2269.4" r="5.8"/><circle cx="359.3" cy="2199.7" r="5.8"/><circle cx="434.4" cy="2143.6" r="5.8"/><circle cx="509.5" cy="2098.9" r="5.8"/><circle cx="584.6" cy="2064.8" r="5.8"/></g>
<g fill="#d62728"><circle cx="209.1" cy="2357.1" r="5.8"/><circle cx="284.2" cy="2283.0" r="5.8"/><circle cx="359.3" cy="2230.6" r="5.8"/><circle cx="434.4" cy="2190.8" r="5.8"/><circle cx="509.5" cy="2161.7" r="5.8"/><circle cx="584.6" cy="2138.1" r="5.8"/></g>
<g fill="#c7c7c7"><circle cx="209.1" cy="2357.1" r="5.8"/><circle cx="284.2" cy="2288.2" r="5.8"/><circle cx="359.3" cy="2240.5" r="5.8"/><circle cx="434.4" cy="2205.7" r="5.8"/><circle cx="509.5" cy="2179.0" r="5.8"/><circle cx="584.6" cy="2158.0" r="5.8"/></g>
<polyline points="209.1,2357.1 284.2,2269.9 359.3,2200.5 434.4,2144.2 509.5,2099.4 584.6,2064.3" fill="none" stroke="#aec7e8" stroke-width="4.6" stroke-linejoin="round" stroke-linecap="round"/>
<polyline points="209.1,2357.1 284.2,2269.9 359.3,2200.5 434.4,2144.2 509.5,2099.4 584.6,2064.3" fill="none" stroke="#1f77b4" stroke-width="4.6" stroke-linejoin="round" stroke-linecap="round"/>
<polyline points="209.1,2357.1 284.2,2269.9 359.3,2200.5 434.4,2144.2 509.5,2099.4 584.6,2064.3" fill="none" stroke="#f7b6d2" stroke-width="4.6" stroke-linejoin="round" stroke-linecap="round"/>
<polyline points="209.1,2357.1 284.2,2269.9 359.3,2200.5 434.4,2144.2 509.5,2099.4 584.6,2064.3" fill="none" stroke="#e377c2" stroke-width="4.6" stroke-linejoin="round" stroke-linecap="round"/>
<polyline points="209.1,2357.1 284.2,2268.0 359.3,2197.9 434.4,2141.5 509.5,2096.8 584.6,2062.2" fill="none" stroke="#c49c94" stroke-width="4.6" stroke-linejoin="round" stroke-linecap="round"/>
<polyline points="209.1,2357.1 284.2,2271.2 359.3,2201.8 434.4,2146.0 509.5,2101.0 584.6,2066.4" fill="none" stroke="#8c564b" stroke-width="4.6" stroke-linejoin="round" stroke-linecap="round"/>
<polyline points="209.1,2357.1 284.2,2283.8 359.3,2231.6 434.4,2192.1 509.5,2162.8 584.6,2139.2" fill="none" stroke="#c5b0d5" stroke-width="4.6" stroke-linejoin="round" stroke-linecap="round"/>
<polyline points="209.1,2357.1 284.2,2308.6 359.3,2277.2 434.4,2254.7 509.5,2238.7 584.6,2226.7" fill="none" stroke="#9467bd" stroke-width="4.6" stroke-linejoin="round" stroke-linecap="round"/>
<polyline points="209.1,2357.1 284.2,2269.4 359.3,2199.7 434.4,2143.6 509.5,2098.9 584.6,2064.8" fill="none" stroke="#ff9896" stroke-width="4.6" stroke-linejoin="round" stroke-linecap="round"/>
<polyline points="209.1,2357.1 284.2,2283.0 359.3,2230.6 434.4,2190.8 509.5,2161.7 584.6,2138.1" fill="none" stroke="#d62728" stroke-width="4.6" stroke-linejoin="round" stroke-linecap="round"/>
<polyline points="209.1,2357.1 284.2,2288.2 359.3,2240.5 434.4,2205.7 509.5,2179.0 584.6,2158.0" fill="none" stroke="#c7c7c7" stroke-width="4.6" stroke-linejoin="round" stroke-linecap="round"/>
</g>
<rect x="190.25" y="1989.2" width="413.35" height="385.29999999999995" fill="none" stroke="#262626" stroke-width="4.3"/>
<text x="203.50" y="2052.00" font-size="76.2" font-weight="bold">g</text>
<text x="167.50" y="2370.20" font-size="38.1" text-anchor="end">0.2</text>
<text x="167.50" y="2260.20" font-size="38.1" text-anchor="end">0.4</text>
<text x="167.50" y="2150.20" font-size="38.1" text-anchor="end">0.6</text>
<text x="167.50" y="2040.20" font-size="38.1" text-anchor="end">0.8</text>
<text x="284.20" y="2419.30" font-size="38.1" text-anchor="middle">2</text>
<text x="434.40" y="2419.30" font-size="38.1" text-anchor="middle">4</text>
<text x="584.60" y="2419.30" font-size="38.1" text-anchor="middle">6</text>
<g clip-path="url(#cliph)">
<clipPath id="cliph"><rect x="638.8" y="1989.2" width="413.0" height="385.29999999999995"/></clipPath>
<line x1="638.8" x2="1051.8" y1="2358.20" y2="2358.20" stroke="#e9e9e9" stroke-width="3.0" stroke-dasharray="5.4 5.42" stroke-dashoffset="1.1"/>
<line x1="638.8" x2="1051.8" y1="2248.20" y2="2248.20" stroke="#e9e9e9" stroke-width="3.0" stroke-dasharray="5.4 5.42" stroke-dashoffset="1.1"/>
<line x1="638.8" x2="1051.8" y1="2138.20" y2="2138.20" stroke="#e9e9e9" stroke-width="3.0" stroke-dasharray="5.4 5.42" stroke-dashoffset="1.1"/>
<line x1="638.8" x2="1051.8" y1="2028.20" y2="2028.20" stroke="#e9e9e9" stroke-width="3.0" stroke-dasharray="5.4 5.42" stroke-dashoffset="1.1"/>
<line x1="732.75" x2="732.75" y1="2374.5" y2="1989.2" stroke="#e9e9e9" stroke-width="3.0" stroke-dasharray="5.4 5.42" stroke-dashoffset="1.1"/>
<line x1="882.95" x2="882.95" y1="2374.5" y2="1989.2" stroke="#e9e9e9" stroke-width="3.0" stroke-dasharray="5.4 5.42" stroke-dashoffset="1.1"/>
<line x1="1033.15" x2="1033.15" y1="2374.5" y2="1989.2" stroke="#e9e9e9" stroke-width="3.0" stroke-dasharray="5.4 5.42" stroke-dashoffset="1.1"/>
<g fill="#aec7e8"><circle cx="657.6" cy="2357.1" r="5.8"/><circle cx="732.8" cy="2286.1" r="5.8"/><circle cx="807.8" cy="2246.0" r="5.8"/><circle cx="882.9" cy="2225.4" r="5.8"/><circle cx="958.0" cy="2220.9" r="5.8"/><circle cx="1033.2" cy="2224.0" r="5.8"/></g>
<g fill="#1f77b4"><circle cx="657.6" cy="2357.1" r="5.8"/><circle cx="732.8" cy="2286.1" r="5.8"/><circle cx="807.8" cy="2246.0" r="5.8"/><circle cx="882.9" cy="2225.4" r="5.8"/><circle cx="958.0" cy="2220.9" r="5.8"/><circle cx="1033.2" cy="2224.0" r="5.8"/></g>
<g fill="#f7b6d2"><circle cx="657.6" cy="2357.1" r="5.8"/><circle cx="732.8" cy="2286.1" r="5.8"/><circle cx="807.8" cy="2246.0" r="5.8"/><circle cx="882.9" cy="2225.4" r="5.8"/><circle cx="958.0" cy="2220.9" r="5.8"/><circle cx="1033.2" cy="2224.0" r="5.8"/></g>
<g fill="#e377c2"><circle cx="657.6" cy="2357.1" r="5.8"/><circle cx="732.8" cy="2286.1" r="5.8"/><circle cx="807.8" cy="2246.0" r="5.8"/><circle cx="882.9" cy="2225.4" r="5.8"/><circle cx="958.0" cy="2220.4" r="5.8"/><circle cx="1033.2" cy="2223.5" r="5.8"/></g>
<g fill="#c49c94"><circle cx="657.6" cy="2357.1" r="5.8"/><circle cx="732.8" cy="2286.1" r="5.8"/><circle cx="807.8" cy="2246.0" r="5.8"/><circle cx="882.9" cy="2225.4" r="5.8"/><circle cx="958.0" cy="2220.9" r="5.8"/><circle cx="1033.2" cy="2224.0" r="5.8"/></g>
<g fill="#8c564b"><circle cx="657.6" cy="2357.1" r="5.8"/><circle cx="732.8" cy="2286.1" r="5.8"/><circle cx="807.8" cy="2246.0" r="5.8"/><circle cx="882.9" cy="2225.4" r="5.8"/><circle cx="958.0" cy="2220.9" r="5.8"/><circle cx="1033.2" cy="2224.6" r="5.8"/></g>
<g fill="#c5b0d5"><circle cx="657.6" cy="2357.1" r="5.8"/><circle cx="732.8" cy="2303.4" r="5.8"/><circle cx="807.8" cy="2277.0" r="5.8"/><circle cx="882.9" cy="2268.3" r="5.8"/><circle cx="958.0" cy="2269.6" r="5.8"/><circle cx="1033.2" cy="2277.7" r="5.8"/></g>
<g fill="#9467bd"><circle cx="657.6" cy="2357.1" r="5.8"/><circle cx="732.8" cy="2326.7" r="5.8"/><circle cx="807.8" cy="2318.3" r="5.8"/><circle cx="882.9" cy="2319.1" r="5.8"/><circle cx="958.0" cy="2326.7" r="5.8"/><circle cx="1033.2" cy="2336.7" r="5.8"/></g>
<g fill="#ff9896"><circle cx="657.6" cy="2357.1" r="5.8"/><circle cx="732.8" cy="2287.4" r="5.8"/><circle cx="807.8" cy="2247.6" r="5.8"/><circle cx="882.9" cy="2227.2" r="5.8"/><circle cx="958.0" cy="2222.7" r="5.8"/><circle cx="1033.2" cy="2226.1" r="5.8"/></g>
<g fill="#d62728"><circle cx="657.6" cy="2357.1" r="5.8"/><circle cx="732.8" cy="2302.6" r="5.8"/><circle cx="807.8" cy="2275.9" r="5.8"/><circle cx="882.9" cy="2267.3" r="5.8"/><circle cx="958.0" cy="2268.6" r="5.8"/><circle cx="1033.2" cy="2277.0" r="5.8"/></g>
<g fill="#c7c7c7"><circle cx="657.6" cy="2357.1" r="5.8"/><circle cx="732.8" cy="2317.5" r="5.8"/><circle cx="807.8" cy="2304.7" r="5.8"/><circle cx="882.9" cy="2302.6" r="5.8"/><circle cx="958.0" cy="2303.9" r="5.8"/><circle cx="1033.2" cy="2307.1" r="5.8"/></g>
<polyline points="657.6,2357.1 732.8,2286.1 807.8,2246.0 882.9,2225.4 958.0,2220.9 1033.2,2224.0" fill="none" stroke="#aec7e8" stroke-width="4.6" stroke-linejoin="round" stroke-linecap="round"/>
<polyline points="657.6,2357.1 732.8,2286.1 807.8,2246.0 882.9,2225.4 958.0,2220.9 1033.2,2224.0" fill="none" stroke="#1f77b4" stroke-width="4.6" stroke-linejoin="round" stroke-linecap="round"/>
<polyline points="657.6,2357.1 732.8,2286.1 807.8,2246.0 882.9,2225.4 958.0,2220.9 1033.2,2224.0" fill="none" stroke="#f7b6d2" stroke-width="4.6" stroke-linejoin="round" stroke-linecap="round"/>
<polyline points="657.6,2357.1 732.8,2286.1 807.8,2246.0 882.9,2225.4 958.0,2220.4 1033.2,2223.5" fill="none" stroke="#e377c2" stroke-width="4.6" stroke-linejoin="round" stroke-linecap="round"/>
<polyline points="657.6,2357.1 732.8,2286.1 807.8,2246.0 882.9,2225.4 958.0,2220.9 1033.2,2224.0" fill="none" stroke="#c49c94" stroke-width="4.6" stroke-linejoin="round" stroke-linecap="round"/>
<polyline points="657.6,2357.1 732.8,2286.1 807.8,2246.0 882.9,2225.4 958.0,2220.9 1033.2,2224.6" fill="none" stroke="#8c564b" stroke-width="4.6" stroke-linejoin="round" stroke-linecap="round"/>
<polyline points="657.6,2357.1 732.8,2303.4 807.8,2277.0 882.9,2268.3 958.0,2269.6 1033.2,2277.7" fill="none" stroke="#c5b0d5" stroke-width="4.6" stroke-linejoin="round" stroke-linecap="round"/>
<polyline points="657.6,2357.1 732.8,2326.7 807.8,2318.3 882.9,2319.1 958.0,2326.7 1033.2,2336.7" fill="none" stroke="#9467bd" stroke-width="4.6" stroke-linejoin="round" stroke-linecap="round"/>
<polyline points="657.6,2357.1 732.8,2287.4 807.8,2247.6 882.9,2227.2 958.0,2222.7 1033.2,2226.1" fill="none" stroke="#ff9896" stroke-width="4.6" stroke-linejoin="round" stroke-linecap="round"/>
<polyline points="657.6,2357.1 732.8,2302.6 807.8,2275.9 882.9,2267.3 958.0,2268.6 1033.2,2277.0" fill="none" stroke="#d62728" stroke-width="4.6" stroke-linejoin="round" stroke-linecap="round"/>
<polyline points="657.6,2357.1 732.8,2317.5 807.8,2304.7 882.9,2302.6 958.0,2303.9 1033.2,2307.1" fill="none" stroke="#c7c7c7" stroke-width="4.6" stroke-linejoin="round" stroke-linecap="round"/>
</g>
<rect x="638.8" y="1989.2" width="413.0" height="385.29999999999995" fill="none" stroke="#262626" stroke-width="4.3"/>
<text x="647.00" y="2051.70" font-size="76.2" font-weight="bold">h</text>
<text x="732.75" y="2419.30" font-size="38.1" text-anchor="middle">2</text>
<text x="882.95" y="2419.30" font-size="38.1" text-anchor="middle">4</text>
<text x="1033.15" y="2419.30" font-size="38.1" text-anchor="middle">6</text>
<text x="397.73" y="1547.20" font-size="44.45" text-anchor="middle">Any labeled</text>
<text x="846.50" y="1547.20" font-size="44.45" text-anchor="middle">All have same function</text>
<text x="1070.50" y="1759.30" font-size="44.45" text-anchor="middle" transform="rotate(90 1070.50 1759.30)">IMG/VR v4</text>
<text x="1070.50" y="2180.05" font-size="44.45" text-anchor="middle" transform="rotate(90 1070.50 2180.05)">MGnify</text>
<text x="86.25" y="1969.45" font-size="50.8" text-anchor="middle" transform="rotate(-90 86.25 1969.45)">Annotation Improvement Proportion</text>
<text x="636.35" y="2474.00" font-size="50.8" text-anchor="middle">Number of nearest neighbors</text>
<text x="1190.20" y="1703.05" font-size="44.45">Protein/ORF Embedding</text>
<line x1="1195.5" x2="1254.5" y1="1741.25" y2="1741.25" stroke="#aec7e8" stroke-width="4.6" stroke-linecap="round"/>
<circle cx="1225.00" cy="1743.25" r="5.8" fill="#aec7e8"/>
<text x="1279.20" y="1752.00" font-size="38.1">ESM__large</text>
<line x1="1195.5" x2="1254.5" y1="1785.83" y2="1785.83" stroke="#1f77b4" stroke-width="4.6" stroke-linecap="round"/>
<circle cx="1225.00" cy="1787.83" r="5.8" fill="#1f77b4"/>
<text x="1279.20" y="1796.58" font-size="38.1">ESM__small</text>
<line x1="1195.5" x2="1254.5" y1="1830.41" y2="1830.41" stroke="#f7b6d2" stroke-width="4.6" stroke-linecap="round"/>
<circle cx="1225.00" cy="1832.41" r="5.8" fill="#f7b6d2"/>
<text x="1279.20" y="1841.16" font-size="38.1">PST-MLM-P__large</text>
<line x1="1195.5" x2="1254.5" y1="1874.99" y2="1874.99" stroke="#e377c2" stroke-width="4.6" stroke-linecap="round"/>
<circle cx="1225.00" cy="1876.99" r="5.8" fill="#e377c2"/>
<text x="1279.20" y="1885.74" font-size="38.1">PST-MLM-P__small</text>
<line x1="1195.5" x2="1254.5" y1="1919.57" y2="1919.57" stroke="#c49c94" stroke-width="4.6" stroke-linecap="round"/>
<circle cx="1225.00" cy="1921.57" r="5.8" fill="#c49c94"/>
<text x="1279.20" y="1930.32" font-size="38.1">PST-MLM-T__large</text>
<line x1="1195.5" x2="1254.5" y1="1964.15" y2="1964.15" stroke="#8c564b" stroke-width="4.6" stroke-linecap="round"/>
<circle cx="1225.00" cy="1966.15" r="5.8" fill="#8c564b"/>
<text x="1279.20" y="1974.90" font-size="38.1">PST-MLM-T__small</text>
<line x1="1195.5" x2="1254.5" y1="2008.73" y2="2008.73" stroke="#c5b0d5" stroke-width="4.6" stroke-linecap="round"/>
<circle cx="1225.00" cy="2010.73" r="5.8" fill="#c5b0d5"/>
<text x="1279.20" y="2019.48" font-size="38.1">PST-TL-P__large</text>
<line x1="1195.5" x2="1254.5" y1="2053.31" y2="2053.31" stroke="#9467bd" stroke-width="4.6" stroke-linecap="round"/>
<circle cx="1225.00" cy="2055.31" r="5.8" fill="#9467bd"/>
<text x="1279.20" y="2064.06" font-size="38.1">PST-TL-P__small</text>
<line x1="1195.5" x2="1254.5" y1="2097.89" y2="2097.89" stroke="#ff9896" stroke-width="4.6" stroke-linecap="round"/>
<circle cx="1225.00" cy="2099.89" r="5.8" fill="#ff9896"/>
<text x="1279.20" y="2108.64" font-size="38.1">PST-TL-T__large</text>
<line x1="1195.5" x2="1254.5" y1="2142.47" y2="2142.47" stroke="#d62728" stroke-width="4.6" stroke-linecap="round"/>
<circle cx="1225.00" cy="2144.47" r="5.8" fill="#d62728"/>
<text x="1279.20" y="2153.22" font-size="38.1">PST-TL-T__small</text>
<line x1="1195.5" x2="1254.5" y1="2187.05" y2="2187.05" stroke="#c7c7c7" stroke-width="4.6" stroke-linecap="round"/>
<circle cx="1225.00" cy="2189.05" r="5.8" fill="#c7c7c7"/>
<text x="1279.20" y="2197.80" font-size="38.1" fill="#999999">genslm</text>
<rect x="1595.00" y="1991.25" width="7.00" height="168.25" fill="#000"/>
<text x="1617.00" y="2093.75" font-size="50.8" font-weight="bold">Model</text>
<text x="1276.50" y="2298.00" font-size="38.1">Embedding Type:</text>
<text x="1276.50" y="2328.70" font-size="38.1">Protein</text>
<text x="1276.50" y="2359.40" font-size="38.1" fill="#999999">Nucleotide</text>
</svg>
</body>
</html>
